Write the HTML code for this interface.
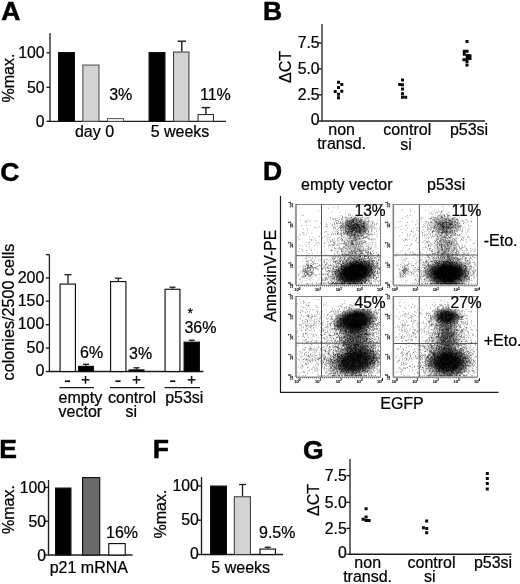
<!DOCTYPE html>
<html><head><meta charset="utf-8"><title>Figure</title>
<style>
html,body{margin:0;padding:0;background:#fff;}
svg{display:block;will-change:transform;font-family:"Liberation Sans",sans-serif;fill:#000;}
text{stroke:#000;stroke-width:.22px;}
</style></head><body>
<svg width="520" height="584" viewBox="0 0 520 584">
<rect width="520" height="584" fill="#fff"/>
<defs><radialGradient id="g0"><stop offset="0" stop-color="#000" stop-opacity="0.92"/><stop offset="0.5" stop-color="#000" stop-opacity="0.92"/><stop offset="1" stop-color="#000" stop-opacity="0"/></radialGradient><radialGradient id="g1"><stop offset="0" stop-color="#000" stop-opacity="0.5"/><stop offset="0.25" stop-color="#000" stop-opacity="0.5"/><stop offset="1" stop-color="#000" stop-opacity="0"/></radialGradient><radialGradient id="g2"><stop offset="0" stop-color="#000" stop-opacity="0.22"/><stop offset="0.3" stop-color="#000" stop-opacity="0.22"/><stop offset="1" stop-color="#000" stop-opacity="0"/></radialGradient><radialGradient id="g3"><stop offset="0" stop-color="#000" stop-opacity="0.92"/><stop offset="0.5" stop-color="#000" stop-opacity="0.92"/><stop offset="1" stop-color="#000" stop-opacity="0"/></radialGradient><radialGradient id="g4"><stop offset="0" stop-color="#000" stop-opacity="0.36"/><stop offset="0.25" stop-color="#000" stop-opacity="0.36"/><stop offset="1" stop-color="#000" stop-opacity="0"/></radialGradient><radialGradient id="g5"><stop offset="0" stop-color="#000" stop-opacity="0.22"/><stop offset="0.3" stop-color="#000" stop-opacity="0.22"/><stop offset="1" stop-color="#000" stop-opacity="0"/></radialGradient><radialGradient id="g6"><stop offset="0" stop-color="#000" stop-opacity="0.82"/><stop offset="0.45" stop-color="#000" stop-opacity="0.82"/><stop offset="1" stop-color="#000" stop-opacity="0"/></radialGradient><radialGradient id="g7"><stop offset="0" stop-color="#000" stop-opacity="0.9"/><stop offset="0.5" stop-color="#000" stop-opacity="0.9"/><stop offset="1" stop-color="#000" stop-opacity="0"/></radialGradient><radialGradient id="g8"><stop offset="0" stop-color="#000" stop-opacity="0.45"/><stop offset="0.35" stop-color="#000" stop-opacity="0.45"/><stop offset="1" stop-color="#000" stop-opacity="0"/></radialGradient><radialGradient id="g9"><stop offset="0" stop-color="#000" stop-opacity="0.86"/><stop offset="0.45" stop-color="#000" stop-opacity="0.86"/><stop offset="1" stop-color="#000" stop-opacity="0"/></radialGradient><radialGradient id="g10"><stop offset="0" stop-color="#000" stop-opacity="0.8"/><stop offset="0.4" stop-color="#000" stop-opacity="0.8"/><stop offset="1" stop-color="#000" stop-opacity="0"/></radialGradient><radialGradient id="g11"><stop offset="0" stop-color="#000" stop-opacity="0.42"/><stop offset="0.35" stop-color="#000" stop-opacity="0.42"/><stop offset="1" stop-color="#000" stop-opacity="0"/></radialGradient></defs>
<text x="1.2" y="19.7" font-size="26.5" text-anchor="start" font-weight="bold" style="stroke-width:.5px">A</text>
<text x="263" y="19.5" font-size="26.5" text-anchor="start" font-weight="bold" style="stroke-width:.5px">B</text>
<text x="0.3" y="180.6" font-size="26.5" text-anchor="start" font-weight="bold" style="stroke-width:.5px">C</text>
<text x="263" y="179.5" font-size="26.5" text-anchor="start" font-weight="bold" style="stroke-width:.5px">D</text>
<text x="-0.8" y="457.9" font-size="26.5" text-anchor="start" font-weight="bold" style="stroke-width:.5px">E</text>
<text x="152.7" y="457.9" font-size="26.5" text-anchor="start" font-weight="bold" style="stroke-width:.5px">F</text>
<text x="303" y="458.8" font-size="26.5" text-anchor="start" font-weight="bold" style="stroke-width:.5px">G</text>
<line x1="50" y1="33" x2="50" y2="121.8" stroke="#1c1c1c" stroke-width="1.3"/>
<line x1="49.5" y1="121.3" x2="226" y2="121.3" stroke="#1c1c1c" stroke-width="1.2"/>
<line x1="46.5" y1="52.8" x2="50" y2="52.8" stroke="#1c1c1c" stroke-width="1.35"/>
<text x="44.6" y="58.3" font-size="15.8" text-anchor="end" font-weight="normal">100</text>
<line x1="46.5" y1="87.3" x2="50" y2="87.3" stroke="#1c1c1c" stroke-width="1.35"/>
<text x="44.6" y="92.8" font-size="15.8" text-anchor="end" font-weight="normal">50</text>
<line x1="46.5" y1="121.3" x2="50" y2="121.3" stroke="#1c1c1c" stroke-width="1.35"/>
<text x="44.6" y="126.8" font-size="15.8" text-anchor="end" font-weight="normal">0</text>
<text x="14" y="78" font-size="16.0" text-anchor="middle" font-weight="normal" transform="rotate(-90 14 78)">%max.</text>
<rect x="58.575" y="52.575" width="15.85" height="68.725" fill="#000" stroke="#111" stroke-width="1.15"/>
<rect x="82.85" y="65.05" width="16.1" height="56.25" fill="#d4d4d4" stroke="#555" stroke-width="1.1"/>
<rect x="107.45" y="118.65" width="16.1" height="2.649999999999994" fill="#fff" stroke="#444" stroke-width="0.9"/>
<rect x="149.075" y="52.575" width="15.85" height="68.725" fill="#000" stroke="#111" stroke-width="1.15"/>
<rect x="173.55" y="52.05" width="15.4" height="69.25" fill="#d4d4d4" stroke="#444" stroke-width="1.1"/>
<line x1="181.8" y1="51.5" x2="181.8" y2="41.2" stroke="#1c1c1c" stroke-width="1.4"/>
<line x1="177.55" y1="41.2" x2="186.05" y2="41.2" stroke="#1c1c1c" stroke-width="1.4"/>
<rect x="198.05" y="114.55" width="15.4" height="6.749999999999997" fill="#fff" stroke="#333" stroke-width="1.1"/>
<line x1="205.9" y1="114" x2="205.9" y2="107.6" stroke="#1c1c1c" stroke-width="1.4"/>
<line x1="201.65" y1="107.6" x2="210.15" y2="107.6" stroke="#1c1c1c" stroke-width="1.4"/>
<text x="109.2" y="99.5" font-size="16.0" text-anchor="start" font-weight="normal">3%</text>
<text x="200" y="99.5" font-size="16.0" text-anchor="start" font-weight="normal">11%</text>
<text x="94.5" y="137" font-size="16.0" text-anchor="middle" font-weight="normal">day 0</text>
<text x="180" y="137" font-size="16.0" text-anchor="middle" font-weight="normal">5 weeks</text>
<line x1="322" y1="24" x2="322" y2="121.5" stroke="#1c1c1c" stroke-width="1.3"/>
<line x1="321.5" y1="121" x2="485" y2="121" stroke="#1c1c1c" stroke-width="1.35"/>
<line x1="318.4" y1="43" x2="322" y2="43" stroke="#1c1c1c" stroke-width="1.35"/>
<text x="319.6" y="48.2" font-size="15.8" text-anchor="end" font-weight="normal">7.5</text>
<line x1="318.4" y1="69" x2="322" y2="69" stroke="#1c1c1c" stroke-width="1.35"/>
<text x="319.6" y="74.2" font-size="15.8" text-anchor="end" font-weight="normal">5.0</text>
<line x1="318.4" y1="94.8" x2="322" y2="94.8" stroke="#1c1c1c" stroke-width="1.35"/>
<text x="319.6" y="100.0" font-size="15.8" text-anchor="end" font-weight="normal">2.5</text>
<line x1="318.4" y1="121" x2="322" y2="121" stroke="#1c1c1c" stroke-width="1.35"/>
<text x="319.6" y="124.60000000000001" font-size="15.8" text-anchor="end" font-weight="normal">0</text>
<text x="291" y="67" font-size="16.0" text-anchor="middle" font-weight="normal" transform="rotate(-90 291 67)">ΔCT</text>
<path d="M337.0 80.8h3v3h-3zM340.3 82.9h3v3h-3zM337.0 85.9h3v3h-3zM333.7 90.1h3v3h-3zM340.3 89.8h3v3h-3zM337.0 92.8h3v3h-3zM337.0 96.3h3v3h-3z" fill="#0a0a0a"/>
<path d="M401.0 78.4h3v3h-3zM398.2 82.9h3v3h-3zM401.0 83.2h3v3h-3zM401.0 87.4h3v3h-3zM401.0 92.2h3v3h-3zM401.0 95.7h3v3h-3zM404.2 95.7h3v3h-3z" fill="#0a0a0a"/>
<path d="M465.5 40.1h3v3h-3zM462.8 49.7h3v3h-3zM465.6 49.7h3v3h-3zM462.8 52.8h3v3h-3zM465.8 53.9h3v3h-3zM468.5 54.3h3v3h-3zM468.5 57.0h3v3h-3zM465.5 57.0h3v3h-3zM462.4 58.2h3v3h-3zM465.5 60.1h3v3h-3zM465.5 63.6h3v3h-3z" fill="#0a0a0a"/>
<text x="341.6" y="134.9" font-size="16.0" text-anchor="middle" font-weight="normal">non</text>
<text x="341.6" y="149.3" font-size="16.0" text-anchor="middle" font-weight="normal">transd.</text>
<text x="407.2" y="134.8" font-size="16.0" text-anchor="middle" font-weight="normal">control</text>
<text x="406" y="149.5" font-size="16.0" text-anchor="middle" font-weight="normal">si</text>
<text x="469" y="134.8" font-size="16.0" text-anchor="middle" font-weight="normal">p53si</text>
<line x1="49.4" y1="254.5" x2="49.4" y2="372.0" stroke="#1c1c1c" stroke-width="1.3"/>
<line x1="45.8" y1="254.6" x2="49.4" y2="254.6" stroke="#1c1c1c" stroke-width="1.35"/>
<line x1="48.9" y1="371.5" x2="203.5" y2="371.5" stroke="#1c1c1c" stroke-width="1.35"/>
<line x1="45.8" y1="278" x2="49.4" y2="278" stroke="#1c1c1c" stroke-width="1.35"/>
<text x="44.4" y="282.7" font-size="16.0" text-anchor="end" font-weight="normal">200</text>
<line x1="45.8" y1="301.2" x2="49.4" y2="301.2" stroke="#1c1c1c" stroke-width="1.35"/>
<text x="44.4" y="305.9" font-size="16.0" text-anchor="end" font-weight="normal">150</text>
<line x1="45.8" y1="324.7" x2="49.4" y2="324.7" stroke="#1c1c1c" stroke-width="1.35"/>
<text x="44.4" y="329.4" font-size="16.0" text-anchor="end" font-weight="normal">100</text>
<line x1="45.8" y1="348.1" x2="49.4" y2="348.1" stroke="#1c1c1c" stroke-width="1.35"/>
<text x="44.4" y="352.8" font-size="16.0" text-anchor="end" font-weight="normal">50</text>
<line x1="45.8" y1="371.5" x2="49.4" y2="371.5" stroke="#1c1c1c" stroke-width="1.35"/>
<text x="44.4" y="376.2" font-size="16.0" text-anchor="end" font-weight="normal">0</text>
<text x="14.3" y="312" font-size="16.2" text-anchor="middle" font-weight="normal" transform="rotate(-90 14.3 312)">colonies/2500 cells</text>
<rect x="60.075" y="284.075" width="15.35" height="87.425" fill="#fff" stroke="#111" stroke-width="1.15"/>
<line x1="68" y1="283.5" x2="68" y2="274.7" stroke="#1c1c1c" stroke-width="1.3"/>
<line x1="64.5" y1="274.7" x2="71.5" y2="274.7" stroke="#1c1c1c" stroke-width="1.3"/>
<rect x="78.575" y="366.375" width="14.85" height="5.1249999999999885" fill="#000" stroke="#111" stroke-width="1.15"/>
<line x1="86" y1="365.8" x2="86" y2="364.3" stroke="#1c1c1c" stroke-width="1.3"/>
<line x1="83.0" y1="364.3" x2="89.0" y2="364.3" stroke="#1c1c1c" stroke-width="1.3"/>
<rect x="110.575" y="281.575" width="15.35" height="89.925" fill="#fff" stroke="#111" stroke-width="1.15"/>
<line x1="118.3" y1="281" x2="118.3" y2="278.2" stroke="#1c1c1c" stroke-width="1.3"/>
<line x1="114.8" y1="278.2" x2="121.8" y2="278.2" stroke="#1c1c1c" stroke-width="1.3"/>
<rect x="129.075" y="369.875" width="14.85" height="1.6249999999999887" fill="#000" stroke="#111" stroke-width="1.15"/>
<line x1="136.5" y1="369.3" x2="136.5" y2="367.8" stroke="#1c1c1c" stroke-width="1.3"/>
<line x1="133.5" y1="367.8" x2="139.5" y2="367.8" stroke="#1c1c1c" stroke-width="1.3"/>
<rect x="165.075" y="289.275" width="14.85" height="82.22500000000001" fill="#fff" stroke="#111" stroke-width="1.15"/>
<line x1="172.5" y1="288.7" x2="172.5" y2="287.2" stroke="#1c1c1c" stroke-width="1.3"/>
<line x1="169.5" y1="287.2" x2="175.5" y2="287.2" stroke="#1c1c1c" stroke-width="1.3"/>
<rect x="184.075" y="342.175" width="15.35" height="29.324999999999978" fill="#000" stroke="#111" stroke-width="1.15"/>
<line x1="191.8" y1="341.6" x2="191.8" y2="340.2" stroke="#1c1c1c" stroke-width="1.3"/>
<line x1="188.8" y1="340.2" x2="194.8" y2="340.2" stroke="#1c1c1c" stroke-width="1.3"/>
<text x="80" y="358" font-size="16.0" text-anchor="start" font-weight="normal">6%</text>
<text x="129" y="358.6" font-size="16.0" text-anchor="start" font-weight="normal">3%</text>
<text x="184.4" y="333" font-size="16.0" text-anchor="start" font-weight="normal">36%</text>
<text x="190.2" y="317.5" font-size="14.0" text-anchor="middle" font-weight="normal">*</text>
<line x1="64.9" y1="381.2" x2="70.1" y2="381.2" stroke="#111" stroke-width="1.7"/>
<line x1="81.6" y1="379.8" x2="89.4" y2="379.8" stroke="#111" stroke-width="1.5"/>
<line x1="85.5" y1="375.9" x2="85.5" y2="383.7" stroke="#111" stroke-width="1.5"/>
<line x1="115.4" y1="381.2" x2="120.6" y2="381.2" stroke="#111" stroke-width="1.7"/>
<line x1="132.6" y1="379.8" x2="140.4" y2="379.8" stroke="#111" stroke-width="1.5"/>
<line x1="136.5" y1="375.9" x2="136.5" y2="383.7" stroke="#111" stroke-width="1.5"/>
<line x1="170.1" y1="381.2" x2="175.29999999999998" y2="381.2" stroke="#111" stroke-width="1.7"/>
<line x1="187.7" y1="379.8" x2="195.5" y2="379.8" stroke="#111" stroke-width="1.5"/>
<line x1="191.6" y1="375.9" x2="191.6" y2="383.7" stroke="#111" stroke-width="1.5"/>
<line x1="59.5" y1="387.6" x2="94" y2="387.6" stroke="#1c1c1c" stroke-width="1.2"/>
<line x1="110" y1="387.6" x2="144.5" y2="387.6" stroke="#1c1c1c" stroke-width="1.2"/>
<line x1="164.5" y1="387.6" x2="200" y2="387.6" stroke="#1c1c1c" stroke-width="1.2"/>
<text x="80.4" y="402.5" font-size="16.0" text-anchor="middle" font-weight="normal">empty</text>
<text x="80.4" y="416.8" font-size="16.0" text-anchor="middle" font-weight="normal">vector</text>
<text x="132" y="402.5" font-size="16.0" text-anchor="middle" font-weight="normal">control</text>
<text x="131.4" y="417" font-size="16.0" text-anchor="middle" font-weight="normal">si</text>
<text x="184.3" y="402.5" font-size="16.0" text-anchor="middle" font-weight="normal">p53si</text>
<text x="301" y="189.8" font-size="16.0" text-anchor="start" font-weight="normal">empty vector</text>
<text x="427" y="189.8" font-size="16.0" text-anchor="start" font-weight="normal">p53si</text>
<text x="275.6" y="275.8" font-size="15.6" text-anchor="middle" font-weight="normal" transform="rotate(-90 275.6 275.8)">AnnexinV-PE</text>
<text x="402" y="409.3" font-size="16" text-anchor="middle" font-weight="normal">EGFP</text>
<text x="483.7" y="245.6" font-size="16.0" text-anchor="start" font-weight="normal">-Eto.</text>
<text x="483.7" y="346" font-size="16.0" text-anchor="start" font-weight="normal">+Eto.</text>
<path d="M280.5 196V392.3H498.5" fill="none" stroke="#1c1c1c" stroke-width="1.2"/>
<clipPath id="cp1"><rect x="296.7" y="205.0" width="83.40000000000003" height="79.60000000000002"/></clipPath>
<g clip-path="url(#cp1)">
<ellipse cx="355" cy="272.5" rx="23" ry="14.5" fill="url(#g0)" transform="rotate(-14 355 272.5)"/>
<ellipse cx="355.5" cy="227.5" rx="17" ry="11" fill="url(#g1)"/>
<ellipse cx="354" cy="248" rx="13" ry="16" fill="url(#g2)"/>
<path transform="translate(296.2 204.5) scale(0.2)" d="M205 9h3m116 2h3m-142 5h3m-29 5h3m47-3h3m72 11h3m37 0h3m-218 4h3m66 4h3m156 0h3m-123 4h3m76-2h3m65 1h3m-121 5h3m18 2h3m41 0h3m9-2h3m23-2h3m17 1h3m-112 4h3m-1 3h3m45 0h3m-285 2h3m3 2h3m186 0h3m34-2h3m5 3h3m-1-1h3m9 2h3m24-1h3m-1-2h3m8 2h3m17 0h3m48 1h3m-167 4h3m12 1h3m40-3h3m5 2h3m2-3h3m3 1h3m-3 1h3m-2 2h3m34-2h3m-178 5h3m43-1h3m12 0h3m-3 1h3m10 1h3m0 0h3m-2 0h3m1-2h3m1 3h3m3-4h3m3 3h3m2-1h3m-1-2h3m-1 1h3m14 3h3m-2-3h3m0-1h3m-2 3h3m14-2h3m6 2h3m3-2h3m-2 2h3m18 1h3m2-1h3m-1-2h3m6 0h3m-192 6h3m5 2h3m5-1h3m8-1h3m18-1h3m-3 3h3m19 0h3m6-2h3m6 1h3m6-3h3m-1 1h3m3 3h3m-2-1h3m0-3h3m-2 3h3m-2-2h3m-2 0h3m-3-1h3m4 2h3m0-1h3m3 0h3m-3 3h3m0-1h3m-3-2h3m-2 2h3m5 1h3m-2-4h3m17 0h3m1 3h3m6-3h3m1 0h3m-189 6h3m6-1h3m3 1h3m5-1h3m17 2h3m10-1h3m-3 3h3m1 0h3m3-4h3m12 3h3m-2 1h3m12 0h3m0-4h3m1 4h3m1-1h3m-3-1h3m1-2h3m-2 4h3m-3-4h3m-1 3h3m1-2h3m-1 2h3m0-2h3m-3-1h3m0 1h3m0 1h3m-1 1h3m3 1h3m8-4h3m0 2h3m1 1h3m-2-1h3m12 1h3m13-2h3m-342 5h3m31 0h3m12 3h3m123-2h3m1 0h3m-1 2h3m5 0h3m34-4h3m0 1h3m4 0h3m-1 3h3m-3-1h3m2-2h3m-3 3h3m-3-1h3m4-2h3m-2 2h3m0 0h3m0-2h3m-3 3h3m0-3h3m-2 1h3m0 1h3m-3 0h3m-2-3h3m-3 3h3m-2 1h3m-3-4h3m-2 2h3m-2 0h3m2 0h3m3 1h3m-2 0h3m-3-3h3m-2 2h3m-2-2h3m-2 0h3m-3 1h3m6 0h3m1 2h3m-2 0h3m0-1h3m-2-1h3m0-1h3m-1 2h3m2 1h3m13 1h3m9-2h3m18 2h3m24-4h3m-366 5h3m1 3h3m12 0h3m27-3h3m10 0h3m83 3h3m15-1h3m6 2h3m7-2h3m15-2h3m0 2h3m0-2h3m-2 0h3m-1 2h3m1 2h3m-2-3h3m0 2h3m-1 1h3m-2-3h3m-2 2h3m0-1h3m-2-1h3m0 3h3m0-2h3m-3 1h3m-2 1h3m-3-3h3m-1 2h3m-2 0h3m0-3h3m-3 1h3m2-1h3m4 1h3m-1 1h3m-2 2h3m1-1h3m3-1h3m-1-1h3m-1-1h3m-2 1h3m-1 1h3m1 1h3m-1-3h3m-2 2h3m-1 1h3m0 0h3m2 1h3m1-2h3m1-2h3m-2 3h3m8 0h3m0 0h3m-1 1h3m-2-4h3m2 1h3m7-1h3m-330 6h3m138 3h3m7-1h3m5 1h3m10-1h3m-2-3h3m4 2h3m1-2h3m8 1h3m-2 2h3m-2 0h3m1-2h3m-1 0h3m0 3h3m-1 0h3m-2 0h3m-2-3h3m4 2h3m3-3h3m0 4h3m-2-4h3m-2 4h3m-2-2h3m-2 1h3m-3-2h3m-1 1h3m1-1h3m-2 1h3m-2-2h3m-2 3h3m-2-2h3m4 2h3m3-3h3m-1 3h3m2 0h3m0-1h3m1 1h3m-3-2h3m1 1h3m-1-1h3m0 2h3m10-3h3m-2 0h3m-1 4h3m5-1h3m21-3h3m6 2h3m2 0h3m-270 3h3m28 0h3m17 1h3m16 2h3m8 0h3m-2-2h3m2 2h3m1-1h3m2 0h3m1-1h3m4 0h3m3 3h3m1-1h3m4-1h3m3 0h3m1 0h3m6 0h3m-2-2h3m-1 0h3m-3 1h3m-3 0h3m-2 2h3m2-2h3m-3 2h3m-2 1h3m1-1h3m-3-3h3m3 3h3m4 1h3m-2-3h3m-1 1h3m-1 2h3m0-3h3m-3 0h3m-2 0h3m-3 3h3m-2 0h3m1 0h3m-2 0h3m-3 0h3m0-4h3m11 1h3m-2-1h3m1 3h3m-2 1h3m-2 0h3m1-3h3m-1 3h3m-3-3h3m-3-1h3m-2 4h3m-3-1h3m-2-3h3m-2 2h3m-2-1h3m0 0h3m1-1h3m-1 2h3m4 1h3m4-3h3m15 0h3m-3 2h3m9 1h3m7-2h3m2 1h3m-259 5h3m28-1h3m6 2h3m-1-2h3m37 0h3m-3 0h3m9 0h3m0-1h3m-1 2h3m-2 0h3m2 2h3m-2-4h3m0 0h3m-3 0h3m2 4h3m0-2h3m-2-2h3m4 1h3m-2 3h3m-2-2h3m-1 0h3m2 2h3m-1-2h3m0 1h3m-3 1h3m-3-2h3m-2 2h3m-2-3h3m-1 3h3m-2-2h3m4 0h3m-3-2h3m-3 2h3m-2 0h3m-3 1h3m-1 1h3m-1-2h3m2 1h3m-3-1h3m-1-1h3m-2 1h3m1 0h3m-1 2h3m1-3h3m10 1h3m2 2h3m4-3h3m3 3h3m4 0h3m12 0h3m12 0h3m4-1h3m-378 5h3m22-1h3m101-2h3m21 2h3m0-1h3m22 3h3m6-1h3m2 1h3m2-3h3m-2 1h3m-2-1h3m2-1h3m1 4h3m4 0h3m-3-1h3m2-3h3m-2 4h3m0-1h3m0-3h3m-3 4h3m-2-3h3m-2 1h3m0 0h3m-3 2h3m-3-3h3m-1 3h3m-3-1h3m-2 1h3m-2-4h3m2 1h3m-2-1h3m-3 1h3m1 2h3m-1 1h3m2-1h3m-1-1h3m-3 1h3m-3 0h3m-3-2h3m0-1h3m-3 2h3m-2 0h3m-3-1h3m-3 3h3m-2-2h3m-3 0h3m-2 1h3m3 1h3m-3 0h3m-1-4h3m0 3h3m0-3h3m-1 1h3m-2 0h3m-2 2h3m-1 1h3m-2-4h3m-2 0h3m-2 2h3m-3 0h3m-1 0h3m0 1h3m3-3h3m-2 2h3m0 1h3m-2 1h3m-2 0h3m-2-3h3m-2 3h3m0 0h3m-1-2h3m-2-1h3m-2 1h3m-1-2h3m-2 0h3m1 3h3m4-3h3m-1 0h3m18 1h3m3-1h3m6 0h3m-277 9h3m27 0h3m1-2h3m3 2h3m27 0h3m3 0h3m4-2h3m21-1h3m1 2h3m1 0h3m0-3h3m2 1h3m3 2h3m1 1h3m2-2h3m-2-2h3m-2 1h3m0 1h3m0 1h3m-1-1h3m-3 0h3m-2-2h3m0 3h3m0 1h3m-2-3h3m-3 2h3m-2-3h3m2 0h3m-3 2h3m-3 2h3m-1-4h3m5 4h3m5-1h3m-1 0h3m-3-1h3m-3-2h3m1 1h3m-1-1h3m-3 4h3m-2-2h3m-3-2h3m-2 0h3m1 3h3m-1-2h3m0 3h3m-2-2h3m6 2h3m-3-2h3m-1 0h3m0 2h3m-3-1h3m-2 0h3m-2-1h3m1-2h3m-2 2h3m-2 0h3m-1 1h3m-2 1h3m-2-4h3m5 3h3m15-2h3m1-1h3m3 2h3m-1 0h3m4 0h3m-299 3h3m10 4h3m84-3h3m21 1h3m4 2h3m-2-4h3m0 2h3m1 0h3m-1-1h3m0 0h3m5 1h3m-2 2h3m-2-4h3m1 0h3m1 4h3m3-2h3m2 0h3m-2-1h3m-3-1h3m-1 0h3m1 1h3m-3 2h3m-1 0h3m-3 0h3m-2 1h3m1-3h3m-1 2h3m-2 0h3m-1-2h3m-2 1h3m-2 2h3m-3-2h3m-3-1h3m-2 1h3m-2-2h3m-1 1h3m-2-1h3m-2 1h3m-1 1h3m-2-2h3m-2 1h3m-2 0h3m-3 3h3m-2-1h3m-2 0h3m-3 1h3m2-4h3m-3 2h3m-2 0h3m2-2h3m0 2h3m-3-1h3m-2 0h3m-3 0h3m-2 1h3m-2 2h3m-2 0h3m-3-1h3m-3-1h3m-1-1h3m-3-1h3m-1 3h3m0 1h3m2-2h3m-2 1h3m-2 0h3m2-3h3m-1 3h3m-3-1h3m-2 0h3m-1 0h3m-3 1h3m-1 0h3m2-2h3m2 0h3m0 0h3m1-1h3m-2 0h3m11 1h3m1 2h3m10 1h3m5-1h3m13-2h3m-361 6h3m36-2h3m88 0h3m6 1h3m-2 0h3m12 1h3m6 2h3m-2-3h3m-2 1h3m9 0h3m8 2h3m-2 0h3m0-2h3m2 2h3m-3-2h3m0 0h3m-3 1h3m3 0h3m-2 1h3m5 0h3m-2-4h3m0 3h3m-2-3h3m0 2h3m-3-1h3m-2 2h3m0-2h3m-1 0h3m-2-1h3m0 2h3m-2-1h3m0 0h3m-1 3h3m-1-1h3m-3-3h3m-3 0h3m-1 4h3m-1-3h3m-3 0h3m-1 2h3m-1-2h3m-2 2h3m4 0h3m-3-2h3m0 0h3m-2 0h3m-3-1h3m0 2h3m9-2h3m-1 0h3m-2 1h3m1 0h3m-3 3h3m-1 0h3m-1-4h3m0 2h3m-2 1h3m-2 0h3m15 0h3m7 1h3m-3-1h3m7-3h3m5 1h3m7 2h3m-374 2h3m150 2h3m8 2h3m3-4h3m23 0h3m0 0h3m8 2h3m-1-1h3m7 3h3m2-3h3m-2 0h3m-2 2h3m-3 0h3m-3 1h3m2-2h3m-3-1h3m-3 0h3m1-1h3m0 0h3m-2 1h3m-2 2h3m-2-2h3m-3 0h3m1 0h3m-2-1h3m-1 3h3m-3-3h3m-2 1h3m-3 0h3m0-1h3m-2 0h3m-3 4h3m1-2h3m3-2h3m-2 3h3m3-2h3m1 1h3m-3 0h3m1 1h3m-3-1h3m1 2h3m-1-2h3m-2 1h3m-2-3h3m0 1h3m-3 1h3m-1-2h3m0 4h3m-2-2h3m2 2h3m2-1h3m-2-3h3m6 3h3m-2 0h3m0 1h3m-3-4h3m20 1h3m32 1h3m-361 4h3m153 2h3m6-3h3m-1 1h3m-2 1h3m9 1h3m-1-1h3m3-2h3m-2 1h3m2 3h3m1-1h3m4-3h3m-1 4h3m4-2h3m-1 1h3m4-2h3m-2 2h3m-3 0h3m2-1h3m-2-2h3m-2 2h3m-2-1h3m-2-1h3m0 1h3m0 3h3m0 0h3m-2-2h3m-2 1h3m-1-1h3m0 0h3m-1 2h3m1 0h3m0-4h3m-3 2h3m-1 0h3m-1-1h3m-2 0h3m-1 2h3m-2-2h3m5 2h3m-2-3h3m0 1h3m-1 0h3m-1 3h3m-1 0h3m0-3h3m0 0h3m-3 1h3m12-1h3m10 1h3m23 2h3m-2 0h3m-259 3h3m2 2h3m40-3h3m6-1h3m1 2h3m15 0h3m17-2h3m-1 4h3m-1 0h3m-2 0h3m-2-1h3m-2-1h3m0 1h3m1-1h3m-2 1h3m-1 0h3m-3 1h3m-2-2h3m-3 0h3m3 1h3m-1-1h3m-2 2h3m-1-2h3m-3-2h3m-2 3h3m-1-3h3m-2 4h3m-3-2h3m-3 0h3m-1-2h3m-3 4h3m0-1h3m-3-2h3m10 3h3m-3-1h3m-1-3h3m-3 1h3m0 2h3m-1-2h3m-3 3h3m-1-4h3m-3 0h3m-2 3h3m0-3h3m-1 4h3m-2-2h3m-2 2h3m-3-1h3m-2-2h3m-1 0h3m-2 3h3m-2-3h3m-1-1h3m-3 2h3m-1 1h3m0-3h3m-3 1h3m-2 1h3m0 2h3m2 0h3m-2-2h3m0-2h3m-1 1h3m-1 1h3m1-2h3m-2 0h3m2 0h3m6 1h3m-2 1h3m10-1h3m1 0h3m-351 7h3m25 1h3m78-2h3m41-2h3m20 4h3m1 0h3m-3-2h3m21-1h3m-1 2h3m0-2h3m4 0h3m6 2h3m-2-1h3m-3 0h3m3-1h3m-2 0h3m-1 2h3m-2-2h3m1-1h3m2 0h3m-3 3h3m1-2h3m-1-1h3m5 4h3m-3 0h3m-2-4h3m3 3h3m-2-1h3m1-1h3m-2 3h3m-2-4h3m2 3h3m2-3h3m-3 2h3m-1-2h3m-3 1h3m0 2h3m-3-2h3m-2 2h3m-1 0h3m6 1h3m3-3h3m-2 0h3m2-1h3m-1 2h3m-2-1h3m13 1h3m-3-1h3m25 1h3m-374 7h3m15-4h3m-1 4h3m36-3h3m39 0h3m5-1h3m25 4h3m35-1h3m0-2h3m5 0h3m-3 1h3m-3 1h3m4 0h3m7-3h3m-3 1h3m2-1h3m-2 0h3m7 4h3m0-1h3m3 1h3m-1-1h3m1-3h3m-2 1h3m-2 2h3m-1-2h3m0 0h3m-2 1h3m5-1h3m-3 0h3m-1 2h3m4-3h3m-3 3h3m-3-3h3m0 4h3m6-1h3m2-2h3m-2 2h3m6 1h3m-2-2h3m0-2h3m3 0h3m-2 3h3m0-2h3m-2 2h3m1-2h3m-1-1h3m-3 3h3m-1-3h3m2 4h3m2-2h3m-3 0h3m2-1h3m4 2h3m0-1h3m0-1h3m15-1h3m1 1h3m-331 6h3m107 0h3m12-1h3m-1 1h3m4-2h3m-2 3h3m10-1h3m4 0h3m6 0h3m4-1h3m1-1h3m-2 4h3m9-4h3m-3 0h3m-2 0h3m1 2h3m7 0h3m-1-2h3m-2 3h3m-2 0h3m2-2h3m-1-1h3m-2 3h3m7 1h3m-1-3h3m-3-1h3m0 2h3m2 2h3m0-4h3m-3 0h3m-3 1h3m-2 2h3m-3 1h3m-1-1h3m-3-2h3m-2 3h3m0 0h3m-2-1h3m-3-2h3m7 0h3m0 2h3m10 0h3m-2 1h3m5 0h3m3-1h3m3-1h3m5 2h3m1-3h3m1 1h3m-2 2h3m0-2h3m-2-2h3m1 2h3m1-2h3m-2 4h3m2-1h3m1 0h3m5-2h3m12 0h3m-385 4h3m12 2h3m182-2h3m-1 2h3m0 0h3m27 0h3m1 0h3m-1-1h3m1 0h3m-2 0h3m0 3h3m2-4h3m-3 1h3m0 0h3m-1-1h3m2 3h3m1 0h3m-3-3h3m0 1h3m-1 1h3m2 0h3m0 0h3m-3 2h3m-2-4h3m2 4h3m-2-3h3m-1 3h3m1-2h3m3 1h3m0 0h3m-2 0h3m0-1h3m-2 1h3m-2-1h3m2 2h3m19 0h3m4-3h3m-303 8h3m44-2h3m0-1h3m22 2h3m5-3h3m5 4h3m67-4h3m3 1h3m4 3h3m5 0h3m5 0h3m9-2h3m-3 0h3m0-2h3m0 0h3m-3 3h3m3-3h3m6 3h3m-3-1h3m-2 1h3m5 0h3m2 1h3m2-4h3m-2 3h3m-2 0h3m-3 0h3m3 0h3m4-2h3m0 0h3m-3 2h3m9-1h3m2 2h3m4-3h3m-3 3h3m2 0h3m-2 0h3m20-4h3m21 2h3m-399 4h3m73 0h3m44 1h3m31 1h3m6-3h3m38 3h3m-2-1h3m6-2h3m8 1h3m33 2h3m-2 1h3m-2-3h3m10 3h3m-1-3h3m-1 2h3m-2 1h3m0-2h3m-2-1h3m-2-1h3m3 2h3m-3 2h3m1 0h3m7 0h3m18-2h3m-2 1h3m1 1h3m-2-3h3m-1-1h3m-2 4h3m-1-4h3m12 1h3m-271 5h3m94 3h3m12 0h3m-1-3h3m15 1h3m19 1h3m7-3h3m-2 3h3m4-1h3m-3-1h3m-2-1h3m-1 4h3m2-1h3m4-3h3m-1 3h3m-2 1h3m-1-4h3m4 3h3m-2-2h3m-2-1h3m10 3h3m-1-2h3m2 0h3m-3 1h3m0-2h3m1 4h3m-2-1h3m2-1h3m0-2h3m1 2h3m-2-1h3m17-1h3m1 3h3m-3 0h3m1 0h3m-355 3h3m-2 2h3m49 0h3m7-1h3m9 1h3m63-3h3m8 2h3m13-2h3m-3 3h3m23-3h3m11 2h3m2-2h3m0 3h3m-2 1h3m-2-3h3m16 2h3m31 1h3m3-2h3m-1-2h3m0 1h3m3-1h3m-2 3h3m-3 0h3m-1-3h3m-3 4h3m5-1h3m1-1h3m48 0h3m0-2h3m4 2h3m3-2h3m-2 0h3m9 0h3m-323 7h3m19 0h3m69 1h3m5 1h3m2 0h3m3-3h3m7 2h3m7-2h3m15 1h3m1 2h3m-2-4h3m13 0h3m4 1h3m7-1h3m1 3h3m3 0h3m0 0h3m-3 0h3m3-2h3m0 3h3m-1 0h3m-1-2h3m1-1h3m0 0h3m-3 0h3m4 3h3m11-4h3m14 1h3m2 1h3m34-2h3m7 0h3m-235 5h3m13 4h3m3-2h3m13 2h3m18-4h3m18 0h3m1 1h3m-1 2h3m10 0h3m4 1h3m1-1h3m7-3h3m-1 4h3m0 0h3m-3-3h3m-2 0h3m13 0h3m2 2h3m14 0h3m2-2h3m0-1h3m-1 0h3m10 2h3m-1 2h3m-3 0h3m-1-2h3m2-1h3m-302 6h3m7 1h3m0-2h3m34 1h3m4-1h3m30 0h3m16 3h3m20-4h3m0 2h3m-3 1h3m15-3h3m16 4h3m15-2h3m2 2h3m-2-4h3m9 0h3m6 2h3m1 2h3m0-4h3m-1 2h3m-2 2h3m12-4h3m6 4h3m-2-2h3m8-1h3m-1 3h3m-3-4h3m7 4h3m5-2h3m-3 0h3m2 0h3m24-2h3m10 3h3m-1 0h3m10 0h3m-355 6h3m52-2h3m15 1h3m19-1h3m47-2h3m-1 1h3m-1 0h3m17-1h3m-1 3h3m1 0h3m6-1h3m4 1h3m-3 0h3m4-2h3m-2 3h3m0-1h3m3 0h3m4-1h3m8-1h3m3 1h3m-2 2h3m2-3h3m-2 3h3m-2-3h3m16 0h3m10 2h3m-2 1h3m4 0h3m0 0h3m2-3h3m12-1h3m0 3h3m5 0h3m7-3h3m-312 7h3m81-2h3m18 2h3m9 0h3m4 2h3m5-2h3m0 1h3m5 1h3m3-3h3m17 2h3m13-2h3m4 2h3m7-3h3m9 2h3m3 0h3m-2-2h3m-3 0h3m1 1h3m-1 0h3m-2 1h3m-3-2h3m7 0h3m-3 1h3m3 2h3m5-1h3m-2-2h3m-2 2h3m13-2h3m-3 3h3m29 1h3m5-2h3m8 1h3m16-1h3m-384 3h3m47 0h3m19 1h3m11-1h3m57 2h3m4 0h3m9-2h3m-2 0h3m-3 1h3m-2 1h3m19-1h3m-1 0h3m5 0h3m26 0h3m-1 2h3m1-1h3m-1-2h3m11 1h3m3 0h3m10-1h3m12 2h3m14 0h3m26-1h3m22 3h3m18-3h3m-365 4h3m17 3h3m84-1h3m20 0h3m73 1h3m-2 0h3m17-3h3m1 1h3m6 2h3m10-2h3m0-1h3m0 3h3m8 0h3m5 0h3m-2-1h3m6-2h3m4 4h3m0-2h3m17 0h3m5-1h3m-2 1h3m36 1h3m-337 2h3m114 1h3m7 2h3m19 1h3m1-3h3m-2 2h3m14-1h3m3-2h3m17 0h3m14 4h3m2-4h3m9 3h3m0 0h3m18-3h3m14 0h3m20 0h3m-1 3h3m3 1h3m3 0h3m-1-4h3m12 3h3m-376 4h3m139 2h3m28-3h3m1 1h3m1 2h3m8-3h3m12 1h3m2 2h3m2-4h3m8 2h3m-1-2h3m1 0h3m3 0h3m8 3h3m-3-1h3m18-2h3m2 2h3m-2-1h3m16 0h3m2 2h3m15 0h3m8 0h3m4 0h3m3 1h3m6-1h3m3-2h3m26-1h3m-382 6h3m4 3h3m28-4h3m23 4h3m80-1h3m1-1h3m24-2h3m10 0h3m-1 0h3m0 0h3m2 0h3m-3 4h3m1 0h3m3-4h3m15 3h3m36 1h3m11-4h3m-3 0h3m-2 0h3m3 4h3m-1-1h3m-1 1h3m11-3h3m10 2h3m5 0h3m4-1h3m-1-1h3m-2 2h3m5-2h3m-366 8h3m39-2h3m20-2h3m-1 1h3m63 3h3m30-2h3m2-1h3m11 0h3m13-1h3m13 0h3m20 1h3m23 0h3m0 3h3m-3 0h3m5 0h3m1-3h3m-2 3h3m0-4h3m11 2h3m-2 2h3m6-3h3m-2 2h3m-3 1h3m2-3h3m2 2h3m-2 0h3m0 0h3m-1-3h3m0 1h3m1 3h3m3 0h3m1-1h3m0 0h3m29-1h3m-356 5h3m68 2h3m66-4h3m29 2h3m0 2h3m13-2h3m-1 0h3m-2 2h3m0-4h3m-2 3h3m2-2h3m4 0h3m1 3h3m8 0h3m1-1h3m11 1h3m-1-3h3m3 2h3m9-2h3m1 0h3m0 2h3m10-1h3m-2-1h3m2 2h3m-3-3h3m-1 3h3m20 0h3m-3-3h3m9 2h3m-1-2h3m7 3h3m4-2h3m0-1h3m-334 6h3m69 2h3m3-3h3m70 0h3m2 2h3m54-2h3m1 0h3m1 3h3m-2-2h3m5 3h3m7-4h3m-1 1h3m-2 2h3m-2 1h3m-1-2h3m22 2h3m0-4h3m-2 2h3m1-1h3m15 3h3m-2-3h3m0 3h3m0-3h3m-2 2h3m-1 1h3m-1-2h3m-2 0h3m7 1h3m-3 0h3m16-2h3m10 0h3m-348 7h3m5-2h3m12 3h3m123-2h3m23-1h3m4 0h3m-3 3h3m1-3h3m17 0h3m0 3h3m6 0h3m0-2h3m-3-2h3m-1 0h3m-1 4h3m3 0h3m7-1h3m-1-1h3m5 2h3m-2-1h3m6 0h3m-2 0h3m4-1h3m-2-1h3m-3 1h3m-1 0h3m-2-1h3m23 1h3m0 0h3m2 0h3m2 1h3m-3-3h3m-1 2h3m-1 0h3m8 0h3m13-2h3m7 4h3m-271 1h3m44 0h3m-2 1h3m16 3h3m1-1h3m0 1h3m6-4h3m0 2h3m-2 0h3m-1-2h3m-2 1h3m-1 2h3m1-2h3m4 3h3m-2-2h3m-1 0h3m0 0h3m-1 2h3m-3-4h3m0 4h3m0-2h3m-1-1h3m-2-1h3m8 4h3m-3 0h3m17-4h3m0 2h3m1-2h3m-2 1h3m10 3h3m-3-2h3m-1 2h3m4 0h3m1-1h3m5-3h3m0 3h3m-3-2h3m2-1h3m8 3h3m-1 0h3m-1-1h3m-2 2h3m4 0h3m3-2h3m-3 2h3m1-3h3m1 2h3m22 0h3m1-1h3m-3 2h3m-3 0h3m-356 1h3m107 4h3m21-1h3m18 1h3m16-4h3m-2 2h3m6 1h3m4 0h3m0-3h3m-1 2h3m1 0h3m2 1h3m1-1h3m-3-2h3m2 0h3m6 0h3m0 1h3m-1 0h3m3 3h3m-1-1h3m15-1h3m4 0h3m0 2h3m-2-4h3m-2 0h3m3 3h3m8 0h3m-3-1h3m-2 2h3m2-3h3m-3 2h3m0-2h3m-1 3h3m0-2h3m-3-1h3m22 1h3m20 2h3m-354 4h3m4-3h3m34 4h3m11 0h3m74-3h3m2 0h3m2 2h3m3-3h3m3 3h3m-2-3h3m4 4h3m2-1h3m10-2h3m-1 0h3m2-1h3m3 2h3m-2-2h3m14 2h3m4-1h3m0 2h3m3-3h3m4 1h3m6 0h3m1 2h3m5 1h3m-1-1h3m1-2h3m-2 1h3m-2-1h3m0 2h3m-1-1h3m-3 1h3m5 0h3m8-3h3m-3 2h3m0-2h3m-3 4h3m-1-4h3m0 2h3m-1 0h3m5 2h3m-2-2h3m-1 1h3m-1-2h3m8 3h3m1-1h3m4 1h3m-1-3h3m13 1h3m8 2h3m-355 3h3m5 1h3m102-3h3m2 1h3m3 2h3m4 1h3m1-2h3m9-2h3m8 3h3m3-1h3m-2 1h3m-1 0h3m6-1h3m-2 2h3m6-1h3m3 1h3m1-4h3m1 1h3m0 3h3m0-1h3m-3 0h3m0 0h3m-1-2h3m-1 2h3m4 0h3m1 1h3m-1-1h3m0-3h3m-2 3h3m-2-2h3m-1 2h3m1 1h3m0 0h3m0-3h3m-1-1h3m-2 3h3m3 1h3m0-1h3m-1-2h3m8 1h3m-1-2h3m3 1h3m-1 0h3m14 0h3m-1 0h3m-3 0h3m8-1h3m-3 2h3m-1 2h3m16-2h3m1 0h3m6-2h3m1 0h3m5 3h3m-381 3h3m6 3h3m-2-3h3m-2 2h3m27-3h3m12 3h3m83-1h3m-1-1h3m3 2h3m-2-1h3m-2 0h3m11-2h3m9 1h3m1 3h3m-2-4h3m-3 4h3m0 0h3m4 0h3m3-4h3m-2 4h3m0-1h3m1 1h3m-3-3h3m8 2h3m2-3h3m-1 1h3m1 1h3m1 0h3m-1-2h3m0 4h3m3-2h3m-3 0h3m-2 0h3m-3 0h3m-3 2h3m2 0h3m1 0h3m5 0h3m-2-1h3m-1-1h3m0 0h3m8-2h3m3 4h3m-3-1h3m0 1h3m-3 0h3m-2-3h3m-2 3h3m4 0h3m0-3h3m-1 0h3m-3-1h3m3 2h3m3-1h3m-3 1h3m-1-2h3m0 0h3m-1 1h3m-3 0h3m2 2h3m-1 1h3m6-1h3m0-2h3m-1 1h3m-1-1h3m6 1h3m0 0h3m4-1h3m-328 8h3m-1-4h3m27 2h3m7 2h3m8-4h3m10 3h3m4-3h3m2 2h3m15 0h3m8 0h3m5-2h3m19 3h3m-1-3h3m8 3h3m6 1h3m1-4h3m-3 2h3m-2-2h3m6 3h3m3 0h3m-2-2h3m-2-1h3m0 1h3m-2 2h3m-1-1h3m1 1h3m4 0h3m6-2h3m1 2h3m-3 0h3m1-2h3m2 0h3m9 2h3m-1-3h3m0 3h3m-3-1h3m-2-1h3m-2 1h3m-3 0h3m-2-2h3m-2 4h3m0-1h3m3-2h3m3 0h3m-1 2h3m5-3h3m0 0h3m12 4h3m3-1h3m-3-1h3m-2-2h3m0 1h3m0 1h3m0 0h3m-3 1h3m29-2h3m-1 0h3m2 1h3m-370 7h3m1 0h3m2-1h3m2 1h3m4-2h3m16 0h3m49 2h3m-2-3h3m14-1h3m14 1h3m5-1h3m0 4h3m13-3h3m-2 3h3m1-4h3m0 1h3m4 1h3m-2 2h3m1 0h3m-1-2h3m5 0h3m-2-1h3m3-1h3m3 3h3m-1 1h3m-1-1h3m-3-2h3m-3 2h3m-1 1h3m0-1h3m-2-1h3m2 1h3m-1-3h3m5 2h3m-3 1h3m1 0h3m8-2h3m3 0h3m-2-1h3m-1 4h3m-2 0h3m-2 0h3m-1-1h3m-2 1h3m-2-1h3m2-1h3m-2 1h3m1-3h3m0 4h3m-2-4h3m-1 4h3m6-1h3m-3-2h3m7-1h3m0 1h3m1 1h3m3 1h3m4 0h3m1-1h3m-1 1h3m2 1h3m1-1h3m0 1h3m-3-1h3m2 0h3m1 1h3m-3 0h3m-1-1h3m-1-2h3m-2-1h3m-1 4h3m-3 0h3m0-1h3m4-3h3m7 0h3m-3 1h3m-1 3h3m-382 2h3m17 2h3m3-1h3m13-2h3m4 4h3m-1 0h3m25-4h3m10 0h3m5 3h3m1-2h3m30 3h3m14-2h3m3-2h3m-3 2h3m-2-1h3m0-1h3m-2 3h3m-1-3h3m1 2h3m0 1h3m6-1h3m-2-2h3m-2 0h3m-1 0h3m-1 0h3m6 4h3m-2-2h3m0-2h3m-1 3h3m-1 1h3m4-3h3m0 3h3m-2 0h3m-2-1h3m9-1h3m-3 1h3m4-1h3m-2 2h3m-1-4h3m5 3h3m1-1h3m-2 2h3m-2-2h3m-1-1h3m0 2h3m-1-1h3m1 0h3m-1 2h3m-3-3h3m-1 2h3m-2 0h3m-2-3h3m-2 3h3m-1 0h3m1 0h3m2 1h3m1-2h3m-3-2h3m-2 1h3m0 1h3m-2 0h3m-2 2h3m-3-1h3m2-2h3m2-1h3m-2 4h3m-3-1h3m-1 0h3m-3-2h3m-1-1h3m-3 0h3m-1 0h3m-1 2h3m-3 1h3m-1 0h3m2-1h3m1-2h3m-3 4h3m-3-3h3m4 1h3m-3-1h3m0 1h3m-2 2h3m7-3h3m-2 2h3m-2 0h3m-3-2h3m0 0h3m-3-1h3m-2 1h3m15 0h3m-2 1h3m-2 1h3m-353 2h3m24 0h3m5 1h3m49 1h3m-2 2h3m8-1h3m-1 0h3m30-2h3m3 0h3m-2 2h3m-1 0h3m1 1h3m9-3h3m3 2h3m0-3h3m-2 0h3m7 1h3m1 0h3m1-1h3m-2 0h3m4 4h3m-2-3h3m5 1h3m-3 2h3m6-3h3m-1 2h3m-1 0h3m-3 1h3m-2-1h3m-2-1h3m3-2h3m0 0h3m-3 1h3m-1 2h3m-3 1h3m-2 0h3m-1 0h3m-3 0h3m-2-1h3m4-1h3m-2-1h3m-1-1h3m-2 4h3m-2 0h3m-1 0h3m-1 0h3m-3-2h3m-1 1h3m-3-1h3m0 1h3m0 0h3m-2-2h3m-2 3h3m1-1h3m-1-2h3m3 3h3m-2-2h3m-3 0h3m0 1h3m-2-1h3m-2 0h3m0 0h3m4-2h3m-2 4h3m-2-2h3m-2-1h3m1 3h3m-2-1h3m-3 0h3m1-3h3m3 2h3m-1 1h3m-3 1h3m0-4h3m-3 2h3m-1-2h3m-2 2h3m-3 1h3m10-2h3m1 3h3m-3-2h3m-1-2h3m4 0h3m9 3h3m-1-1h3m-360 6h3m9-3h3m10 2h3m8 0h3m1-1h3m4 2h3m-1 0h3m4 0h3m42 1h3m0 0h3m40-4h3m5 1h3m-3-1h3m1 1h3m-3-1h3m-2 0h3m3 2h3m-2 1h3m-1-2h3m7 1h3m0 0h3m-2-2h3m-3 4h3m-3-3h3m-2 1h3m-2-1h3m-1-1h3m3 1h3m6 0h3m-1 1h3m0 1h3m-3 0h3m2-3h3m0 0h3m-1 2h3m-2 0h3m-3-1h3m-1 2h3m-2-2h3m-2 3h3m-2-3h3m-2 2h3m-1-1h3m-2 1h3m-2-2h3m-3-1h3m7 4h3m-3-4h3m-1 0h3m-1 3h3m-2-1h3m-1-1h3m-3 2h3m-3-3h3m1 0h3m5 3h3m-1-1h3m-3-2h3m-2 3h3m-1-3h3m1 0h3m-2 4h3m-1 0h3m-2-1h3m-3-3h3m-1 2h3m-3-2h3m-2 2h3m2 2h3m-2 0h3m-3-3h3m0-1h3m-2 2h3m-1 2h3m0-4h3m0 2h3m-1 2h3m2-4h3m-1 3h3m-1-1h3m-2 0h3m-2 1h3m-1-3h3m0 2h3m2-1h3m-2 1h3m-2 2h3m0-1h3m-1 0h3m3 1h3m-3-4h3m-2 3h3m-1-2h3m2 2h3m4 1h3m-1-2h3m2 0h3m-2 2h3m1-3h3m-2 3h3m-1-3h3m-3 1h3m2 0h3m-366 6h3m-1 1h3m2-3h3m-1-1h3m-2 4h3m9-4h3m10 2h3m1-1h3m24 2h3m14 1h3m9-2h3m-1-1h3m1 2h3m6-3h3m11 2h3m6-1h3m13-1h3m1 3h3m-2-3h3m5 1h3m-2 0h3m5 0h3m0 0h3m-3 2h3m-2 0h3m-2 0h3m-2-1h3m5-2h3m4 0h3m-3 3h3m1-1h3m-2-2h3m-2 0h3m1 4h3m-3 0h3m4-4h3m1 4h3m-3-2h3m1 1h3m1-1h3m0-1h3m0 0h3m-2 3h3m-2 0h3m-3-4h3m-2 3h3m-3 1h3m-2-2h3m1 0h3m-2 1h3m-2-2h3m-1-1h3m-3 2h3m2 1h3m-2 0h3m-2-3h3m-1 2h3m0-2h3m1 2h3m-3 1h3m-3 1h3m-2-3h3m-3-1h3m-2 0h3m1 0h3m-2 4h3m0-1h3m-2 0h3m-2-1h3m-3 2h3m-2-1h3m-3 1h3m-1-1h3m-2-3h3m0 3h3m-2-3h3m-3 3h3m0 1h3m-2-4h3m-2 1h3m-2 0h3m-2 3h3m-2-1h3m3 0h3m-2-3h3m-2 1h3m-3 2h3m0 1h3m0-4h3m0 2h3m-2-1h3m-2 0h3m-1 1h3m5-2h3m-2 1h3m-3 2h3m-2 0h3m-2 0h3m-2-1h3m-1-2h3m3 3h3m3-2h3m-1 0h3m-2-1h3m0 0h3m14 2h3m-2 1h3m8 0h3m-379 2h3m0 4h3m10-2h3m-2 0h3m1-1h3m-2-1h3m-2 2h3m-2-2h3m2 1h3m1 2h3m-2-1h3m-2 0h3m-1 0h3m-2 0h3m3-2h3m29 2h3m5-1h3m3 1h3m7 2h3m4-1h3m14 0h3m2-1h3m2-1h3m-2 0h3m0 1h3m4 1h3m2-2h3m8 1h3m4 1h3m-1-1h3m16-2h3m-3 4h3m-3 0h3m0 0h3m-1 0h3m-3 0h3m-1-2h3m-2 2h3m-1-4h3m-2 4h3m-2 0h3m0-2h3m1-1h3m-3 2h3m2-3h3m-2 3h3m-3-3h3m-3 2h3m2 0h3m2-1h3m2 2h3m-2 0h3m0-1h3m-3 0h3m-3 2h3m-1-4h3m-3 2h3m-2 2h3m-2-1h3m-3 1h3m-2-4h3m-3 4h3m-1-1h3m-1-3h3m-2 0h3m-2 2h3m-2 0h3m0-1h3m-2 0h3m1 1h3m-2-1h3m-2 1h3m-3-2h3m-2 1h3m0-1h3m-2 2h3m-3 0h3m1-2h3m-2 3h3m-3-3h3m0 3h3m0 0h3m0-1h3m-1-1h3m-3 3h3m-3 0h3m-1-3h3m-3 1h3m-1 0h3m-2-2h3m-1 2h3m-2 0h3m-3 0h3m-1-2h3m-3 0h3m-1 4h3m3 0h3m-1-1h3m7-3h3m1 2h3m-1 0h3m-1 1h3m-3-2h3m-2-1h3m-2 3h3m0-2h3m-2 0h3m-3-1h3m-3 0h3m0 4h3m-3-3h3m-2 2h3m-3 0h3m-3-3h3m-2 4h3m-3 0h3m-3 0h3m-1-2h3m-2 1h3m0-3h3m2 0h3m1 4h3m2-4h3m0 0h3m-3 2h3m-2-1h3m0-1h3m4 2h3m-1 2h3m4-1h3m-2-1h3m-2 0h3m-1-1h3m-395 7h3m12-2h3m-2 3h3m8-3h3m-1 1h3m7 0h3m2 2h3m-3-1h3m-2 0h3m4-2h3m0 0h3m-1 1h3m-3-1h3m4 1h3m22 0h3m-1-1h3m6-1h3m19 1h3m5 1h3m10-2h3m13 4h3m5-3h3m3-1h3m-2 4h3m-2-2h3m3 1h3m-2 1h3m0 0h3m-3-1h3m6 1h3m-2-3h3m-2 3h3m5 0h3m-1-1h3m-3-3h3m-1 2h3m-2 1h3m-2-3h3m-1 3h3m-2-2h3m3 1h3m-2-1h3m-3 3h3m-2-1h3m-1 0h3m-2-1h3m0 1h3m0-3h3m-2 0h3m-1 0h3m-2 3h3m2 1h3m0 0h3m-1-4h3m0 4h3m-2-2h3m0-2h3m-2 4h3m-3-1h3m-2-2h3m-3 2h3m-2 1h3m-3 0h3m0 0h3m-2-3h3m-2 0h3m1 3h3m-2-1h3m-2-2h3m-2 2h3m-2 0h3m-3-2h3m-2 2h3m-2-3h3m-2 0h3m-2 0h3m-1 1h3m-2 0h3m2 2h3m1-2h3m-3 3h3m-1-4h3m-3 1h3m-2 0h3m1 2h3m-2 1h3m0-4h3m-1 1h3m-3 1h3m-1 1h3m0-1h3m0 2h3m-2-4h3m-2 2h3m-3-1h3m-3 2h3m0-2h3m-2 0h3m-3 3h3m2-1h3m-3-2h3m-3 2h3m-2 1h3m-3 0h3m-2-1h3m-2 0h3m0-1h3m-2 1h3m-2-3h3m-2 4h3m-1-2h3m-2-2h3m-3 1h3m-1 2h3m-2-1h3m1-1h3m-2 3h3m-3-4h3m-2 4h3m-2 0h3m3 0h3m-2-1h3m-2 0h3m-3-1h3m-2 1h3m0-2h3m0 1h3m-3-2h3m-2 3h3m1 0h3m-3-3h3m-2 1h3m-2-1h3m-3 2h3m-1 0h3m-2 0h3m3-2h3m-1 0h3m-2 3h3m-1-2h3m2 1h3m1 1h3m-2-2h3m-1-1h3m2 2h3m-357 6h3m0-3h3m-3 2h3m-2 2h3m-2-2h3m2 1h3m0-1h3m-2 1h3m-2 1h3m-3 0h3m0-3h3m0 3h3m-1 0h3m-1-3h3m-2-1h3m2 4h3m0-1h3m0-3h3m0 3h3m0-1h3m0-2h3m37 1h3m7 0h3m3-1h3m-3 4h3m4-1h3m4-3h3m10 1h3m1 2h3m5 0h3m-1-1h3m-1 0h3m-2-2h3m3 0h3m-1 4h3m7-1h3m2-3h3m-2 3h3m-1-2h3m0 3h3m0-3h3m1-1h3m1 1h3m0-1h3m-2 3h3m0 1h3m-1-3h3m-3 2h3m-3-1h3m-2 0h3m-2 1h3m-2 1h3m-2-4h3m-1 0h3m0 4h3m-2-4h3m-1 0h3m-1 1h3m-2-1h3m-1 0h3m-2 3h3m-3-3h3m-2 2h3m0 2h3m-2-2h3m-2-2h3m-3 1h3m-2 0h3m-3 2h3m-1 0h3m-1 1h3m-2 0h3m-2-2h3m-2-2h3m-3 1h3m-1 2h3m-3-2h3m-3-1h3m-1 2h3m-2 0h3m-2-2h3m-3 2h3m-1 1h3m-3-3h3m-2 0h3m-3 2h3m-2-1h3m-2-1h3m-1 0h3m-3 2h3m-2 2h3m-2-2h3m-2 0h3m-2 2h3m-2-4h3m-3 0h3m-2 3h3m-1-3h3m-2 1h3m-1 3h3m-1-3h3m-2 3h3m-3-1h3m-3-1h3m-2-2h3m-3 4h3m-1-4h3m-3 4h3m-3-3h3m-3 0h3m-2 0h3m-3 3h3m-2-1h3m-3-2h3m-3-1h3m-2 2h3m-3 2h3m1-1h3m-3 1h3m-1-3h3m-3 0h3m-1 3h3m0-2h3m-2 0h3m-2 0h3m-1-1h3m-1 2h3m-3 1h3m-2-2h3m0 2h3m-2-2h3m0 1h3m-2-2h3m1 0h3m-1 0h3m-3-1h3m-1 0h3m-1 3h3m0-1h3m-2 1h3m1-2h3m2 0h3m-2 0h3m2 2h3m-3-2h3m0 2h3m-2-3h3m-2 1h3m-1 3h3m-1-2h3m1-2h3m6 2h3m1-1h3m3 1h3m2 0h3m2 2h3m1-1h3m-2 1h3m-385 5h3m-1-3h3m3 3h3m0 0h3m-1 0h3m-2-3h3m1 1h3m0-2h3m-3 3h3m0 0h3m2-1h3m-2 0h3m5-2h3m4 2h3m0-2h3m10 0h3m0 2h3m-1-2h3m6 2h3m20-2h3m-3 4h3m0-3h3m6 1h3m-3 2h3m2 0h3m5-4h3m2 1h3m-3 2h3m4 1h3m-1 0h3m8-3h3m-2 2h3m-1-2h3m-2 3h3m-3-1h3m-2-2h3m20 1h3m-2 0h3m0 1h3m1 0h3m-1 1h3m3-1h3m-3 0h3m-2 1h3m1 0h3m-2-4h3m-1 4h3m-3 0h3m0-4h3m0 4h3m-3-3h3m-2 1h3m-3-1h3m-3 1h3m-1 2h3m-2-2h3m-2 1h3m-1-1h3m-1-1h3m-2-1h3m-2 1h3m0-1h3m-2 3h3m-2-1h3m-2-2h3m-3 1h3m-2-1h3m-3 0h3m-2 0h3m-3 3h3m0 0h3m-2 1h3m-2-4h3m-2 0h3m-3 2h3m1-1h3m-3 3h3m-2-3h3m-2 3h3m-2-1h3m0-2h3m-3 0h3m-2 3h3m-2-4h3m-2 1h3m-2-1h3m-2 3h3m-2 1h3m-3-2h3m-3-1h3m3 3h3m2 0h3m0-1h3m-2 0h3m-3-3h3m-2 1h3m-3 0h3m-2 1h3m-1 1h3m2 0h3m0-1h3m0-2h3m-3 0h3m-2 3h3m-2 0h3m0-2h3m-3-1h3m-2 2h3m2 2h3m-3-4h3m0 1h3m-2 1h3m-1-1h3m-2 1h3m-2-1h3m-2-1h3m-2 0h3m0 0h3m-3 3h3m-1 1h3m-3-4h3m-2 0h3m-3 0h3m0 1h3m-2 0h3m-1 3h3m-1-1h3m-3 0h3m-2 1h3m-3 0h3m4-3h3m-3 1h3m-2 1h3m-2-1h3m-2-2h3m1 4h3m-2-1h3m-2-2h3m-2 2h3m-2-2h3m3 2h3m-2-3h3m-1 1h3m-2 3h3m-3-1h3m-1-2h3m-3 3h3m5-4h3m-2 3h3m2-2h3m0-1h3m-2 0h3m-2 1h3m3-1h3m1 0h3m-1 3h3m-1-3h3m0 0h3m-1 2h3m-380 3h3m3 4h3m-2-2h3m-1 2h3m4 0h3m-2-4h3m11 2h3m-2 1h3m-1 1h3m11-4h3m-3 2h3m15 0h3m2 2h3m20-3h3m46 2h3m1-2h3m2 1h3m2 1h3m0-1h3m-3-2h3m-2 3h3m-2-1h3m-3 2h3m3 0h3m0-1h3m0 0h3m4-2h3m3 1h3m-1-2h3m-2 2h3m-2-2h3m0 3h3m1-2h3m-2 2h3m0-1h3m-2-1h3m-3 0h3m0-1h3m-1 2h3m0-2h3m-2 3h3m-1 0h3m-2-1h3m-2 1h3m0-2h3m2 0h3m-2 3h3m-2-4h3m1 1h3m-3 2h3m-2-1h3m-2 1h3m-2-2h3m-3 2h3m-2 1h3m2-4h3m-1 2h3m-3-1h3m0-1h3m-1 2h3m-1-1h3m1 1h3m-2 1h3m-3 0h3m-2 1h3m-3-2h3m-1-1h3m-3 2h3m-1 1h3m-3-1h3m-2-2h3m-3 2h3m-2-2h3m-2 0h3m-2 3h3m-2-3h3m-1-1h3m-1 2h3m-3-1h3m-2 3h3m-2 0h3m-2 0h3m-2-2h3m-2-2h3m-2 3h3m-1 0h3m-2-3h3m-2 0h3m-1 4h3m-1-1h3m-1-2h3m-3 1h3m-2 1h3m-2-3h3m-3 0h3m-1 3h3m-3 1h3m-3 0h3m-2-2h3m-3 0h3m-3-1h3m-1 1h3m-3-2h3m3 0h3m-2 1h3m-3 0h3m-2 0h3m-2 1h3m-3-1h3m-2 3h3m-2-2h3m-2-1h3m-2-1h3m-3 1h3m6 2h3m-2 1h3m-1-2h3m-2 1h3m-3-2h3m-1-1h3m-3 2h3m-1 1h3m4-1h3m-3 0h3m0-1h3m0 3h3m-3-1h3m0-2h3m-2 1h3m-3 1h3m-2 1h3m0-4h3m-1 1h3m-2 1h3m6 0h3m15-1h3m2-1h3m-1 3h3m-3-2h3m-388 7h3m-1 1h3m-2 0h3m-2-4h3m1 1h3m1 2h3m2-1h3m0-2h3m4 4h3m0-1h3m0-1h3m1-1h3m1 1h3m10-1h3m58 2h3m2 1h3m5 0h3m-1-1h3m-3 0h3m2 1h3m-1-2h3m7-1h3m-2 2h3m9-3h3m5 4h3m-1 0h3m1-4h3m-2 2h3m0 2h3m-1-3h3m-3 1h3m-2-1h3m-2 1h3m-2-2h3m-1 2h3m-1 1h3m1-3h3m2 4h3m-2-2h3m-1-1h3m-2 1h3m-2 2h3m-1-1h3m0-2h3m-1 2h3m-3-1h3m-2 1h3m-1-1h3m0-1h3m-1 1h3m-2 1h3m-2-1h3m3 0h3m-2 2h3m-2 0h3m-3-4h3m1 3h3m0-1h3m-3 1h3m2-3h3m0 4h3m-2-1h3m-3-1h3m-1 2h3m-1-4h3m-2 0h3m-3 0h3m-3 1h3m-2 0h3m-2 0h3m-2 1h3m-3-2h3m-1 3h3m-3-3h3m-3 3h3m-2-2h3m-1-1h3m-1 0h3m-3 4h3m-2-3h3m-3 3h3m-1-3h3m-1 2h3m-3-1h3m-3 2h3m-3-3h3m-1-1h3m5 3h3m-3 1h3m-2-2h3m-2 1h3m-3-1h3m-1-1h3m-3-1h3m-3 4h3m-2-3h3m-2 1h3m-3 1h3m-2 0h3m-3-3h3m-2 0h3m-1 4h3m-3-3h3m-1 3h3m0-3h3m1-1h3m-2 3h3m-1-3h3m-3 1h3m-1 1h3m-3 0h3m-1-1h3m-3 2h3m-1-3h3m-1 4h3m-3-4h3m-2 3h3m-2-1h3m3 2h3m-2-4h3m-3 1h3m-3 3h3m1-4h3m-3 0h3m-3 2h3m-1-1h3m-2 2h3m-1-2h3m0 0h3m0-1h3m-2 4h3m0-3h3m-3 1h3m1 0h3m2-2h3m1 2h3m-2-1h3m-2 2h3m-2-2h3m4 1h3m0 1h3m7-3h3m6 0h3m0 2h3m-389 3h3m9 2h3m-1-2h3m0 3h3m-3 1h3m2-2h3m-1-2h3m0 1h3m2 1h3m3-1h3m3 2h3m2 1h3m2 0h3m-1-4h3m0 0h3m39 4h3m27-1h3m-3-1h3m8 0h3m1 0h3m-1 2h3m3 0h3m1-4h3m-1 2h3m1-1h3m-3-1h3m-1 4h3m-3-1h3m-1-2h3m-2 3h3m-1-2h3m-2 1h3m-2-2h3m-2 1h3m-2 1h3m-1-3h3m2 4h3m-3-3h3m-2 2h3m1 0h3m-3-2h3m-1 1h3m1-1h3m0 3h3m3 0h3m-3-1h3m1-3h3m-2 2h3m-3-2h3m-1 0h3m-2 0h3m-2 3h3m-3 0h3m-1 1h3m-3-1h3m-2 1h3m-3-4h3m-1 2h3m-2-2h3m-1 0h3m-2 4h3m-3-3h3m-2 0h3m-1 0h3m-1-1h3m-3 0h3m-2 0h3m-3 1h3m-1 2h3m-2-3h3m-3 2h3m-3-1h3m0 0h3m1 2h3m-2 1h3m-2 0h3m-1-1h3m0-2h3m-1 2h3m-1-2h3m-3 2h3m-2-2h3m-2-1h3m-2 1h3m-3 1h3m-2-1h3m-3-1h3m-2 3h3m2-2h3m-2 2h3m-2-3h3m0 4h3m-3-4h3m-2 4h3m-1-1h3m-3-2h3m-2 0h3m-1-1h3m-1 0h3m-2 4h3m-3-2h3m2-1h3m-1 2h3m-1-3h3m-3 3h3m-2-3h3m-3 1h3m-2 0h3m-2 1h3m-3-1h3m-2 3h3m-2-4h3m-2 2h3m-2-2h3m-2 1h3m-3 1h3m-2 2h3m-3-1h3m-3-3h3m-3 4h3m-1-2h3m-2 1h3m-2 0h3m-2-3h3m2 2h3m-1 1h3m-2 1h3m-1-2h3m-3 2h3m-2-3h3m-3 3h3m-3-2h3m1 1h3m-2-2h3m-2 0h3m1 3h3m2-4h3m-3 3h3m-1-1h3m0 1h3m3-3h3m-1 0h3m-3 4h3m-2-2h3m0 1h3m1 0h3m-2-3h3m-2 1h3m-3 2h3m-1-2h3m-2-1h3m-2 2h3m1-1h3m-1 2h3m-2-1h3m1-1h3m4 0h3m-2 0h3m4 0h3m-2 0h3m5 1h3m-3 0h3m-3-1h3m7 3h3m-395 1h3m3 3h3m5 1h3m2-3h3m2-1h3m-2 2h3m-3-2h3m-1 0h3m-2 0h3m-3 0h3m-2 1h3m0 3h3m0-4h3m0 1h3m1 0h3m4 2h3m0 0h3m-2-3h3m-2 4h3m-2 0h3m-3-3h3m-1 0h3m4 0h3m37-1h3m33 3h3m1-2h3m8-1h3m-2 4h3m-2-3h3m-2-1h3m7 1h3m4-1h3m2 2h3m-3 1h3m6-1h3m0 2h3m-3-1h3m-2-2h3m-2 2h3m2-2h3m-1-1h3m-3 3h3m-3 0h3m1-2h3m3 0h3m-3 2h3m-2 0h3m-3-3h3m-1 3h3m-2-3h3m-3 2h3m-3 0h3m-2 1h3m-1 1h3m2 0h3m1-1h3m-3-2h3m-2-1h3m-3 3h3m-1-1h3m-2-1h3m3 2h3m-1-1h3m-3 0h3m-2-1h3m-1-1h3m-2 1h3m-3 3h3m1-1h3m-2-2h3m-1 0h3m-2 3h3m-3-4h3m-2 3h3m-2 0h3m-2-1h3m-2 0h3m-1-2h3m-2 0h3m-2 3h3m-3-2h3m-2 0h3m-3-1h3m-3 1h3m-2 1h3m-2 0h3m-3 1h3m-1-2h3m-2-1h3m-1 1h3m0 0h3m-2 3h3m-3-2h3m-1 2h3m-2-2h3m-3-1h3m0 1h3m-2 2h3m-2-1h3m-2 0h3m-3 1h3m-3-4h3m-2 0h3m-3 3h3m-3 0h3m0 1h3m-2-2h3m-2 0h3m0 0h3m-3 2h3m-3-1h3m1 0h3m-3-2h3m-1 2h3m-3 0h3m-2-1h3m-3 2h3m-1-3h3m1-1h3m-1 1h3m-3-1h3m-2 4h3m-1-4h3m-3 1h3m0 0h3m-3-1h3m-1 4h3m-3-4h3m-2 4h3m-2-1h3m-2-2h3m-3-1h3m-2 2h3m-2 0h3m-3 0h3m0-2h3m-2 0h3m-3 0h3m-1 2h3m-3 1h3m-3-2h3m-1 1h3m-1 1h3m-2-1h3m-1 2h3m-3-2h3m-1 0h3m2-2h3m-2 3h3m-2-1h3m-2 0h3m-3-1h3m1 2h3m-2-2h3m2-1h3m0 1h3m-2 0h3m-1-1h3m-3 3h3m-2-1h3m-1 0h3m-3 2h3m-3-1h3m-2-1h3m5 2h3m-2-3h3m-3 3h3m-2-4h3m4 4h3m5-4h3m-2 4h3m2-1h3m-3 1h3m-400 5h3m20 0h3m-2 0h3m6 0h3m-3-2h3m2 0h3m-1 0h3m-2-1h3m2 0h3m14-1h3m4 3h3m41 0h3m11 0h3m6 0h3m-3 1h3m5-3h3m16 1h3m3 1h3m3-2h3m-3 3h3m-2-4h3m-2 0h3m-2 2h3m-1 0h3m-3 0h3m-2-2h3m1 0h3m-2 2h3m-2 0h3m-3 2h3m5-2h3m1 0h3m0 1h3m-1-1h3m-2 2h3m-1-4h3m-2 1h3m-2 1h3m-2 1h3m-1 0h3m-2 0h3m-2-1h3m-2 2h3m-3-1h3m-2 1h3m-2-1h3m-2-1h3m-2-1h3m-2 3h3m0-2h3m-2 2h3m-2-1h3m-3-3h3m-1 1h3m-1 2h3m-2 0h3m-1-3h3m-2 0h3m-3 2h3m-2 0h3m-3 1h3m-3-1h3m-2 1h3m-2-1h3m-1-1h3m-3 2h3m-2-1h3m-1 2h3m4 0h3m-3-4h3m-2 1h3m-3 2h3m-2-2h3m-2 0h3m-2 2h3m-3 1h3m1-4h3m-2 3h3m-3-3h3m-2 2h3m0-2h3m-1 4h3m-1-1h3m-3 0h3m-1-2h3m-2 2h3m-3 1h3m-2-3h3m-2 1h3m-2 0h3m-3-2h3m-1 3h3m-3 0h3m-2-1h3m-1 1h3m-2-2h3m-2 3h3m-2 0h3m-3-2h3m-3 2h3m-3 0h3m-2 0h3m-2-4h3m0 3h3m-2-2h3m-3 3h3m-2-4h3m-1 2h3m-3 2h3m-2 0h3m-3-2h3m-3 0h3m2-2h3m-2 3h3m0-3h3m-3 3h3m-2-3h3m-3 0h3m-2 4h3m-1-2h3m-1 1h3m-3-1h3m-3 1h3m-3 0h3m-3-1h3m-2 1h3m-3-3h3m-1 2h3m-3 0h3m-3 1h3m-1-3h3m-3 4h3m-3 0h3m-3-2h3m1-1h3m1 2h3m-2 0h3m-2-3h3m1 2h3m-2 1h3m-3-2h3m-2 0h3m-1-1h3m3 4h3m-2-1h3m1 0h3m-1-3h3m-1 2h3m-2 1h3m4-3h3m3 1h3m-2 3h3m1-4h3m2 4h3m-1-4h3m15 4h3m-2-2h3m-3 1h3m-1-1h3m-2-1h3m-398 8h3m16-4h3m5 3h3m0-3h3m3 4h3m2 0h3m0-2h3m-1 2h3m-3-2h3m-1-1h3m0-1h3m-3 3h3m6 0h3m-2-2h3m-2 2h3m-2-3h3m2 0h3m-1 1h3m2 1h3m3 2h3m17-1h3m1-2h3m10 3h3m1-4h3m-1 4h3m7-2h3m4 2h3m0-2h3m-1 2h3m1 0h3m8-3h3m4 0h3m-3 0h3m-1 3h3m-2-2h3m7 0h3m-1-1h3m-3 2h3m-2-2h3m3 2h3m3-1h3m-3 2h3m-2-2h3m-1-1h3m1 3h3m1-3h3m-2 2h3m-3 1h3m-3-4h3m-2 0h3m-3 4h3m-1-2h3m-3-2h3m-2 4h3m-2-4h3m0 0h3m-2 3h3m-3-2h3m3 2h3m-2-3h3m-1 2h3m1 1h3m0 1h3m1 0h3m-3-4h3m-2 0h3m-3 2h3m-2 0h3m-2-1h3m-1 2h3m-1-3h3m-1 3h3m-3-1h3m-2 0h3m-3 0h3m-3-2h3m-3 2h3m-2 1h3m-3 0h3m-2-3h3m-1 2h3m-2-1h3m-1 0h3m-1 1h3m-1 2h3m-2-4h3m-2 4h3m-3 0h3m-2-1h3m-2-1h3m-3 2h3m-1-3h3m-2 1h3m-2-2h3m-2 2h3m-3-2h3m-1 2h3m-2-2h3m-2 0h3m-3 2h3m-1-2h3m0 4h3m-2-3h3m-3-1h3m-2 2h3m-3-1h3m-2 3h3m-3-2h3m-2 2h3m-1-4h3m-3 1h3m-3 2h3m-2-3h3m-2 0h3m-2 1h3m-2 1h3m-2 0h3m-2 0h3m-3-2h3m-2 2h3m-1 1h3m-3-2h3m-3 2h3m-1-3h3m-2 3h3m0 0h3m-2-3h3m-3 4h3m-1 0h3m-2-1h3m-3-2h3m-2 3h3m-1-2h3m-3 2h3m-1-4h3m-2 0h3m-2 4h3m-3-3h3m-1 0h3m-2-1h3m-3 3h3m-3 1h3m-2-2h3m-2 2h3m-3-3h3m-2 3h3m-3-1h3m-2-3h3m-3 3h3m-3 1h3m-2-2h3m-3-2h3m0 0h3m-3 3h3m1-3h3m-2 2h3m-1 1h3m-2-1h3m-2 0h3m-2 0h3m-3 0h3m1 0h3m-3-2h3m0 1h3m-1 1h3m-1 1h3m1-1h3m-1 0h3m-1-2h3m-3 1h3m2 3h3m-2-1h3m1 0h3m-3 0h3m0-1h3m0 2h3m4-3h3m-1 2h3m-2 1h3m3-1h3m-384 3h3m20 0h3m6 3h3m-3-1h3m-2-1h3m4 2h3m4 0h3m4-1h3m0-2h3m1 2h3m-3-2h3m22-1h3m-1 1h3m40 2h3m13-3h3m6 3h3m12-1h3m1-2h3m8 3h3m0 1h3m0 0h3m-2-1h3m2-3h3m-2 4h3m1-3h3m-3 2h3m1-3h3m-3 3h3m-1-2h3m0-1h3m-3 0h3m-2 1h3m10-1h3m0 1h3m0 1h3m-1-1h3m-2 3h3m-3 0h3m-1-1h3m-2 0h3m-3-1h3m1 1h3m-1 0h3m-2-3h3m-1 1h3m-3 0h3m-3 1h3m-2-1h3m-3-1h3m-2 2h3m-3 1h3m-1-3h3m1 1h3m-2 0h3m-1 3h3m-2 0h3m-2-1h3m-1 0h3m-2 0h3m-2-2h3m0 0h3m-1 0h3m-3 0h3m-2 1h3m-3 0h3m-2 2h3m-2-4h3m-2 3h3m-3 0h3m0-3h3m-1 2h3m0-1h3m-2 3h3m-3-2h3m2-1h3m-1 2h3m-3 1h3m-3-4h3m0 2h3m-3-1h3m-2 0h3m0 3h3m-2 0h3m-2 0h3m0-3h3m0 1h3m-1 1h3m0 0h3m-2 1h3m-3 0h3m-2-2h3m-1 1h3m0-2h3m-1 3h3m-1-4h3m-2 4h3m1-2h3m-2-2h3m1 4h3m0-1h3m-2 1h3m-2 0h3m-1-2h3m-3 0h3m-2 1h3m-3 1h3m1-1h3m-2 1h3m-3-4h3m-3 3h3m-2-2h3m-1 0h3m2 3h3m0-3h3m-3 1h3m1-1h3m-2 3h3m9-4h3m2 2h3m-3 1h3m2-3h3m-2 2h3m-2-2h3m-1 2h3m-2 2h3m10-4h3m-3 1h3m-389 8h3m8-3h3m-3 3h3m3-1h3m1-3h3m-2 2h3m12-1h3m-2 0h3m5 0h3m-1-1h3m5 4h3m10-2h3m64 2h3m5 0h3m-1-1h3m-2-2h3m-2 2h3m0 1h3m-3-4h3m2 0h3m0 0h3m3 1h3m-2 0h3m4-1h3m0 4h3m-2-4h3m-1 0h3m0 1h3m-3 1h3m-1-2h3m4 3h3m0 1h3m-3 0h3m1 0h3m-3-4h3m-1 1h3m-1 2h3m-2-1h3m-1 0h3m-2 0h3m-2 1h3m-2 1h3m3-2h3m-1 1h3m-1-3h3m-3 0h3m-2 1h3m3 2h3m-3-3h3m-3 0h3m1 4h3m-3-2h3m-1 0h3m-2 2h3m-3-4h3m-2 2h3m0-2h3m-2 4h3m-2-3h3m-3 1h3m0-2h3m0 4h3m-1-1h3m-3-2h3m-3 1h3m-2 2h3m0-3h3m-2-1h3m-3 2h3m-3-1h3m-2 0h3m-3-1h3m0 2h3m-1-1h3m-2 0h3m0 0h3m0-1h3m-2 4h3m-3-2h3m-2-2h3m-3 0h3m0 3h3m-1-3h3m-3 1h3m-3 2h3m-2 0h3m-3 0h3m-3-3h3m-3 2h3m-2-2h3m-1 4h3m-1-2h3m-1-2h3m-1 0h3m-2 1h3m-2 3h3m-3-3h3m-2 1h3m-2-2h3m1 0h3m1 1h3m-2 1h3m-3-1h3m-2 3h3m0-4h3m-3 1h3m0 1h3m1-2h3m-2 3h3m3 0h3m-3-1h3m-1-2h3m-3 3h3m0-3h3m0 0h3m6 3h3m4-2h3m-2-1h3m1 0h3m-3 0h3m2 3h3m0-1h3m9 2h3m-3 0h3m1-4h3m-363 5h3m-3 0h3m5 4h3m23-3h3m57 0h3m0 2h3m2 0h3m13-2h3m-2 1h3m-2 1h3m4 1h3m0-4h3m1 1h3m14-1h3m4 0h3m-2 2h3m-3-1h3m8 3h3m2-4h3m-2 3h3m-1-2h3m-3-1h3m3 4h3m-2-4h3m0 0h3m-2 4h3m0-2h3m-3-1h3m-3 1h3m-1 1h3m0 0h3m-2-3h3m-1 4h3m-2-2h3m-2-2h3m-1 0h3m-3 3h3m9-1h3m-3-2h3m-1 4h3m-2 0h3m1-1h3m-2 1h3m1 0h3m-2-1h3m-2-3h3m-1 2h3m-2-1h3m-3 3h3m-1-2h3m-1 2h3m-2-1h3m-2-3h3m2 1h3m-3 0h3m-2 1h3m-3 2h3m-2 0h3m-2-4h3m-3 0h3m-2 4h3m-2-4h3m-3 3h3m-3-2h3m-2 0h3m-3 3h3m-2-2h3m-2 2h3m-2 0h3m-2-2h3m-3-1h3m-3 3h3m-2-3h3m-2 3h3m-3-2h3m-3 2h3m0-3h3m-3 3h3m0-1h3m-2-1h3m-3-2h3m-1 0h3m-3 4h3m-2-1h3m-2-1h3m-2 1h3m-3-1h3m-2 0h3m-1 0h3m-2-2h3m-3 2h3m-2-2h3m1 4h3m-3-3h3m-2 0h3m2 1h3m-3-2h3m-3 1h3m0-1h3m-1 3h3m1-2h3m1-1h3m-3 4h3m0-2h3m-2-2h3m-2 2h3m1 1h3m3-2h3m-2 0h3m-3 0h3m-2 3h3m-2-1h3m-2-3h3m0 1h3m0 2h3m8 1h3m-1-2h3m-1-2h3m5 1h3m-1 1h3m-1 0h3m2-1h3m-1 0h3m-3 2h3m0-3h3m7 0h3m-1 2h3m-1 0h3m1-1h3m-1 1h3m0-2h3m-392 5h3m28 1h3m20-1h3m34 0h3m10 3h3m12-1h3m1 2h3m0-3h3m18 1h3m4-1h3m2-1h3m-3 2h3m1 1h3m-1 0h3m-1-1h3m-3-2h3m-3 4h3m-1-3h3m8-1h3m2 3h3m2-3h3m3 4h3m-3 0h3m1-1h3m-1-3h3m-2 4h3m0-2h3m-1-1h3m-3 1h3m-1-1h3m-3 0h3m1 0h3m-3 0h3m3 3h3m1-2h3m-1 1h3m-1 0h3m-1-2h3m-1 3h3m-2-4h3m-2 2h3m-2-1h3m-3 1h3m-1-1h3m0-1h3m-2 1h3m-2 2h3m2-3h3m-3 4h3m-2-4h3m2 1h3m-2 2h3m-2 0h3m-3-3h3m-1 4h3m-3-3h3m4-1h3m-1 0h3m3 1h3m-2-1h3m-2 3h3m-2-3h3m-2 3h3m6 0h3m4 1h3m-2-2h3m-3-2h3m0 4h3m-2 0h3m-2-2h3m-2-2h3m3 1h3m-1 0h3m1 0h3m-3 1h3m-2-2h3m-3 3h3m3-3h3m-1 0h3m1 0h3m1 0h3m13 3h3m1-1h3m2 1h3m8-2h3m-3 1h3m1 2h3m10-2h3m-389 4h3m3 2h3m41-2h3m14 2h3m38-1h3m3-1h3m-1 3h3m2 0h3m5 0h3m-3-4h3m2 1h3m2-1h3m-2 4h3m3-4h3m5 3h3m4-3h3m1 1h3m4 3h3m2 0h3m4-3h3m-3 0h3m7 3h3m-3-1h3m-1 1h3m0-2h3m-2-2h3m-3 0h3m-2 3h3m-2-2h3m-3 2h3m3-1h3m-3 1h3m-2 0h3m-1 0h3m-3-2h3m0 3h3m-3-3h3m-2 0h3m-2 3h3m-2-2h3m-1 1h3m-3 0h3m0 1h3m-3-2h3m5-2h3m-1 2h3m-1-1h3m-3-1h3m-1 0h3m-2 4h3m-2 0h3m-2-1h3m1-2h3m-1 2h3m6-1h3m-3 0h3m-3 2h3m-2-2h3m-2-1h3m-2 1h3m-1 2h3m0-3h3m-2-1h3m-3 4h3m-2-3h3m0-1h3m-2 1h3m-2 3h3m-3-3h3m-2-1h3m0 4h3m-2-2h3m-3-1h3m-1-1h3m-2 0h3m-2 0h3m-3 4h3m0-2h3m-3 1h3m-1-3h3m-2 3h3m-2 0h3m0-1h3m-1-2h3m1 1h3m2-1h3m-2 3h3m-1-2h3m-2-1h3m0 0h3m-3 3h3m-1 0h3m0 0h3m-2-1h3m10 2h3m-2 0h3m0-3h3m-2 3h3m-1 0h3m0 0h3m-1-1h3m-3-1h3m4-2h3m30 0h3m0 4h3m-1-4h3m0 0h3m-357 7h3m19-1h3m44-1h3m6 1h3m1 3h3m7-2h3m3-1h3m4-1h3m16 2h3m3-1h3m1-1h3m6 0h3m6 4h3m1-3h3m-1 0h3m0 0h3m-3 3h3m1 0h3m0-4h3m-1 0h3m-2 3h3m-2 1h3m-1 0h3m7-3h3m0 0h3m-2 3h3m-3-2h3m2 0h3m-2-2h3m-3 1h3m1 1h3m-2-1h3m-1 2h3m-2-2h3m-2 0h3m-2 3h3m0-3h3m0-1h3m0 1h3m-2-1h3m-3 2h3m0 2h3m-3-1h3m0-1h3m-3-1h3m3 3h3m-2-3h3m-3 0h3m-3 2h3m-1 0h3m-3 1h3m-3 0h3m-2-4h3m2 0h3m-2 1h3m0 3h3m-1-4h3m-2 1h3m-3 2h3m-2-3h3m-3 0h3m8 0h3m-3 1h3m-3 1h3m1 1h3m-1 1h3m-3-2h3m-2 2h3m2-4h3m-3 4h3m2-2h3m-1 2h3m-3-4h3m2 1h3m0 2h3m-3 0h3m-1 0h3m0 1h3m0-1h3m-2-3h3m2 0h3m3 2h3m-2 0h3m3 0h3m2-2h3m-1 3h3m-1 0h3m-1-2h3m7-1h3m4 3h3m19 0h3m5-2h3m-385 4h3m96 0h3m26 3h3m12 0h3m-3-1h3m1 2h3m6-3h3m1 0h3m5 0h3m4 3h3m9-2h3m5 1h3m2 1h3m1-4h3m0 3h3m-2 0h3m-3-2h3m-3 1h3m-3 0h3m-1 0h3m-3-1h3m-1-1h3m-2 2h3m2 0h3m-2-2h3m4 2h3m-2-2h3m-2 0h3m-1 2h3m-2 1h3m2-1h3m2-2h3m3 3h3m3-2h3m0 2h3m-1 0h3m-3-3h3m-1 4h3m3 0h3m-1 0h3m2-1h3m-2-2h3m-1 1h3m-2 2h3m-1-4h3m0 1h3m-2 1h3m-1 1h3m2-1h3m-2-2h3m-1 4h3m6-4h3m4 2h3m0-2h3m-1 1h3m-3 2h3m-2-1h3m1-2h3m6 2h3m1-1h3m3-1h3m1 0h3m11 3h3m0-3h3m4 2h3m7-1h3m2 0h3m-391 8h3m51 0h3m20-2h3m32 1h3m2 1h3m9-2h3m3-2h3m-3 2h3m17 0h3m0 1h3m-2 0h3m-3-3h3m0 2h3m5 0h3m-2 0h3m6 1h3m-2-2h3m-2 3h3m4-3h3m2 3h3m4-2h3m-1-2h3m-3 0h3m-3 4h3m-2-4h3m-2 3h3m0-1h3m3 0h3m1 1h3m-2-3h3m-2 0h3m-2 2h3m6 1h3m6-1h3m-2-1h3m3 2h3m-2-1h3m4-2h3m0 3h3m-2-2h3m-1 2h3m0-3h3m-2 0h3m0 2h3m-2 0h3m1 2h3m-3-2h3m-3-1h3m3 0h3m8 0h3m-2 2h3m0-2h3m3 0h3m-2-1h3m-2 4h3m-1-1h3m-3 0h3m-3 0h3m0-1h3m5-2h3m-1 1h3m-3 0h3m0-1h3m-2 1h3m-1 2h3m-3-1h3m5 1h3m3-3h3m2 0h3m6 3h3m0 1h3m-368 5h3m33 0h3m-3 0h3m2 0h3m0 0h3m0 0h3m5 0h3m8 0h3m-2 0h3m17 0h3m1 0h3m6 0h3m-1-1h3m4 1h3m-3-4h3m-2 4h3m-1 0h3m0 0h3m-1 0h3m5 0h3m-2 0h3m4 0h3m-1-4h3m3 4h3m3 0h3m0 0h3m-2 0h3m-2 0h3m0 0h3m-3-3h3m-1 0h3m-1 3h3m1 0h3m-2 0h3m-3 0h3m-3 0h3m-2 0h3m-1 0h3m-2 0h3m-3 0h3m-2 0h3m-3-2h3m-3 2h3m1 0h3m-3-4h3m-1 4h3m-1 0h3m-3 0h3m-2 0h3m-2 0h3m-2 0h3m0 0h3m-3 0h3m-2 0h3m-2 0h3m-3-4h3m-3 4h3m-2 0h3m-3-3h3m-1 3h3m-3 0h3m-3 0h3m-3 0h3m-2 0h3m-3-4h3m-1 4h3m-2 0h3m-3 0h3m1-2h3m-2 2h3m-2 0h3m-2 0h3m-1 0h3m-1-3h3m-3 3h3m-3 0h3m-3 0h3m-1 0h3m-1 0h3m-2-2h3m-1 2h3m-2 0h3m-1 0h3m-3 0h3m-3 0h3m-2 0h3m-2-4h3m-3 4h3m-2-3h3m-2 3h3m-3 0h3m-3 0h3m-2 0h3m-2 0h3m-2 0h3m-2 0h3m-1 0h3m-3 0h3m-2 0h3m-3 0h3m-2 0h3m-2 0h3m-2 0h3m-3 0h3m-2-3h3m-3 3h3m-2 0h3m-2-3h3m-2 3h3m2 0h3m-3 0h3m1 0h3m-2 0h3m-2 0h3m-1-1h3m-1 1h3m-3 0h3m-1 0h3m-3 0h3m-2 0h3m-3-3h3m-2 3h3m-1-2h3m-2 2h3m-3 0h3m-2 0h3m-2 0h3m0 0h3m-3-2h3m-3 2h3m-2 0h3m-3 0h3m-2 0h3m-3 0h3m0 0h3m-2-1h3m-1 1h3m-1 0h3m-2 0h3m-3 0h3m1-3h3m-2 0h3m-3 3h3m-2 0h3m-3-1h3m-3 1h3m-1 0h3m-1 0h3m0 0h3m-3 0h3m-3 0h3m-2 0h3m-3 0h3m-2 0h3m-2 0h3m-1 0h3m-3 0h3m0 0h3m-2-2h3m-3 2h3m-2 0h3m-2 0h3m-2 0h3m-2 0h3m-1 0h3m-3 0h3m-2-1h3m-2 1h3m-2 0h3m0 0h3m0 0h3m-1 0h3m-2 0h3m-3 0h3m-2-4h3m-2 1h3m-3 3h3m-1 0h3m-1-2h3m-3 2h3m-3 0h3m-2 0h3m-2 0h3m-2-2h3m-3 2h3m5-2h3m-2 2h3m-2-4h3m3 1h3m-2 3h3m-2 0h3m-2 0h3m4-2h3m4-2h3m-3 4h3m-2-3h3m2 3h3m-2-3h3m-1 3h3m-1 0h3m-1-2h3m17-2h3m12 4h3" stroke="#000" stroke-opacity=".8" stroke-width="3.2" fill="none"/>
</g>
<rect x="296.2" y="204.5" width="84.40000000000003" height="80.60000000000002" fill="none" stroke="#6a6a6a" stroke-width=".8"/>
<path d="M295.5 204.5V285.1" stroke="#555" stroke-width="1.3" stroke-dasharray=".9 1.1" fill="none"/>
<path d="M296.2 285.8H380.6" stroke="#555" stroke-width="1.3" stroke-dasharray=".9 1.1" fill="none"/>
<line x1="321.5" y1="204.5" x2="321.5" y2="285.1" stroke="#444" stroke-width="0.9"/>
<line x1="296.2" y1="255.7" x2="380.6" y2="255.7" stroke="#444" stroke-width="0.9"/>
<g transform="translate(292.5 285.8) rotate(-90)" fill="#4a4a4a"><text x="-2.5" y="0" font-size="4" stroke="none">10</text><text x="2" y="-1.9" font-size="2.9" stroke="none">0</text></g>
<g transform="translate(296.7 291.40000000000003)" fill="#4a4a4a"><text x="-2.5" y="0" font-size="4" stroke="none">10</text><text x="2" y="-1.9" font-size="2.9" stroke="none">0</text></g>
<g transform="translate(292.5 265.65000000000003) rotate(-90)" fill="#4a4a4a"><text x="-2.5" y="0" font-size="4" stroke="none">10</text><text x="2" y="-1.9" font-size="2.9" stroke="none">1</text></g>
<g transform="translate(317.425 291.40000000000003)" fill="#4a4a4a"><text x="-2.5" y="0" font-size="4" stroke="none">10</text><text x="2" y="-1.9" font-size="2.9" stroke="none">1</text></g>
<g transform="translate(292.5 245.5) rotate(-90)" fill="#4a4a4a"><text x="-2.5" y="0" font-size="4" stroke="none">10</text><text x="2" y="-1.9" font-size="2.9" stroke="none">2</text></g>
<g transform="translate(338.15 291.40000000000003)" fill="#4a4a4a"><text x="-2.5" y="0" font-size="4" stroke="none">10</text><text x="2" y="-1.9" font-size="2.9" stroke="none">2</text></g>
<g transform="translate(292.5 225.35) rotate(-90)" fill="#4a4a4a"><text x="-2.5" y="0" font-size="4" stroke="none">10</text><text x="2" y="-1.9" font-size="2.9" stroke="none">3</text></g>
<g transform="translate(358.875 291.40000000000003)" fill="#4a4a4a"><text x="-2.5" y="0" font-size="4" stroke="none">10</text><text x="2" y="-1.9" font-size="2.9" stroke="none">3</text></g>
<g transform="translate(292.5 205.2) rotate(-90)" fill="#4a4a4a"><text x="-2.5" y="0" font-size="4" stroke="none">10</text><text x="2" y="-1.9" font-size="2.9" stroke="none">4</text></g>
<g transform="translate(379.6 291.40000000000003)" fill="#4a4a4a"><text x="-2.5" y="0" font-size="4" stroke="none">10</text><text x="2" y="-1.9" font-size="2.9" stroke="none">4</text></g>
<rect x="353.5" y="205.0" width="26.600000000000023" height="11.5" fill="#fff"/>
<text x="354.5" y="215.5" font-size="15.6" text-anchor="start" font-weight="normal">13%</text>
<clipPath id="cp2"><rect x="394.2" y="205.0" width="82.80000000000001" height="79.60000000000002"/></clipPath>
<g clip-path="url(#cp2)">
<ellipse cx="447.5" cy="273.5" rx="24" ry="14.5" fill="url(#g3)"/>
<ellipse cx="445.5" cy="226" rx="16" ry="11" fill="url(#g4)"/>
<ellipse cx="446" cy="248" rx="12" ry="16" fill="url(#g5)"/>
<path transform="translate(393.7 204.5) scale(0.2)" d="M182 12h3m60-3h3m85 0h3m-21 7h3m-31 6h3m33-2h3m18 2h3m9-4h3m-54 7h3m-267 3h3m38 0h3m71 4h3m45-3h3m14-1h3m21 2h3m-165 5h3m93 2h3m13 0h3m14 0h3m5 0h3m5-1h3m6-1h3m-1 1h3m-2 1h3m61-3h3m-204 5h3m104 1h3m24-1h3m31 0h3m4 3h3m15-3h3m-1 3h3m-173 3h3m48 1h3m7-2h3m-3 0h3m14 1h3m9 1h3m12-3h3m27 4h3m-72 4h3m38-2h3m5 2h3m2-3h3m17 2h3m15 1h3m47 0h3m18-1h3m-292 5h3m9-1h3m124 3h3m11-1h3m-2 0h3m0 1h3m0-3h3m1 0h3m1-1h3m11 2h3m-1 2h3m-3-4h3m-1 2h3m10-2h3m-2 4h3m0-2h3m-1-2h3m1 4h3m-1-4h3m1 3h3m4 1h3m2-4h3m-1 2h3m4 1h3m1-3h3m12 0h3m-1 1h3m-269 6h3m128 1h3m27 0h3m10 0h3m0 1h3m-1-1h3m-2-3h3m-1 0h3m0 4h3m4-4h3m-2 4h3m1-2h3m11-1h3m-1-1h3m9 3h3m12-1h3m-3 0h3m-2-2h3m37 4h3m-273 2h3m64 2h3m5-2h3m41 1h3m4 1h3m-3-3h3m2 2h3m3 0h3m0 2h3m3-4h3m7 3h3m9-1h3m-1 2h3m-1-3h3m-1 1h3m19-2h3m-1 3h3m21 1h3m4 0h3m0-1h3m2-1h3m19-2h3m-289 7h3m88 2h3m37 0h3m3-1h3m-1-1h3m0 1h3m-1-1h3m12-2h3m5 0h3m-1 4h3m3-4h3m-1 3h3m8-2h3m0 0h3m-2-1h3m2 3h3m7-3h3m-1 2h3m2 0h3m-1 2h3m3 0h3m3-3h3m-2 2h3m1-3h3m9 4h3m3-1h3m3-3h3m-2 4h3m-166 1h3m43 3h3m7-2h3m-2 1h3m1-2h3m1 4h3m0-4h3m1 2h3m-1 0h3m5-2h3m-2 1h3m0 1h3m-1-1h3m10 3h3m0-4h3m2 4h3m-1 0h3m6-3h3m1 1h3m-3-2h3m-2 0h3m-3 1h3m8 1h3m12-1h3m1 3h3m-3-3h3m0-1h3m-3 4h3m5-2h3m3-2h3m-1 1h3m-1-1h3m-1 3h3m-2-1h3m-1-1h3m35 1h3m3 2h3m-251 3h3m74 2h3m4-4h3m-2 1h3m0 0h3m6 2h3m6-1h3m6 1h3m-2 0h3m3 1h3m4-4h3m-2 2h3m5 2h3m-3-3h3m-1-1h3m4 1h3m5 2h3m1-3h3m-2 0h3m-3 3h3m-1-1h3m-2-1h3m-1 1h3m-3-2h3m-1 2h3m-2 0h3m-3 2h3m3 0h3m7 0h3m5-4h3m7 1h3m1 3h3m12 0h3m4 0h3m20-1h3m-336 3h3m58 2h3m40 0h3m19-1h3m2-1h3m15 3h3m2-2h3m11 2h3m4-3h3m-2-1h3m0 2h3m0-1h3m8 0h3m-2-1h3m0 2h3m0 2h3m4-3h3m0 0h3m10 2h3m-1-2h3m-1 2h3m1 1h3m8 0h3m2-2h3m2 2h3m0-2h3m0 1h3m-2-1h3m-2 0h3m5 2h3m2-2h3m-2 1h3m-2-3h3m-1 4h3m11-4h3m18 0h3m-1 1h3m30 2h3m3-2h3m-3 1h3m-367 3h3m42 1h3m46 3h3m8 0h3m35-4h3m3 2h3m6 1h3m0-1h3m1 0h3m-2-1h3m0 3h3m9-4h3m1 3h3m0-2h3m-2 0h3m-1 0h3m-2 1h3m-1-2h3m0 3h3m0 1h3m-2-2h3m-1 1h3m1 1h3m-1-1h3m0-2h3m-2 2h3m-1 0h3m2 1h3m-3 0h3m-1-1h3m-2 1h3m-2-1h3m-1 1h3m-1-1h3m-2-1h3m-3 2h3m0-4h3m-1 1h3m0 2h3m-1-2h3m-3 1h3m-2-2h3m-3 4h3m-3-1h3m-2-1h3m1 1h3m-1-2h3m1 1h3m-3 0h3m-1 0h3m-1-1h3m-2 3h3m0 0h3m3-4h3m-1 4h3m1-2h3m3 1h3m1-1h3m-2-2h3m-2 0h3m3 1h3m3-1h3m-2 3h3m2 0h3m3 1h3m21-3h3m11-1h3m-214 8h3m6 1h3m5-1h3m20-1h3m11-2h3m4 2h3m0 2h3m-3-1h3m2-3h3m-3 4h3m-2-1h3m1-1h3m8 1h3m0-2h3m-1-1h3m-2 4h3m1-2h3m0 2h3m4-4h3m0 3h3m4-2h3m6 3h3m-3-2h3m-2 1h3m-2 0h3m-1 0h3m2-2h3m-2 0h3m-1 2h3m6-1h3m11-1h3m-2 3h3m-1-1h3m7-2h3m-1 1h3m14 0h3m-3 1h3m9 0h3m-253 4h3m35 1h3m25-3h3m3 4h3m3-4h3m14 0h3m0 3h3m3-3h3m0 4h3m-3-2h3m-2 2h3m3-2h3m-1-2h3m-3 0h3m-2 0h3m1 0h3m-3 0h3m-2 1h3m-1-1h3m-1 1h3m-2 3h3m-3 0h3m-3 0h3m-1 0h3m-3-4h3m-1 0h3m-1 2h3m-2 0h3m-2-1h3m2 2h3m1-1h3m-2 0h3m4 0h3m-3 0h3m6 1h3m0 1h3m1-4h3m-2 2h3m-1 1h3m-3-1h3m-2 1h3m-2-1h3m0-2h3m-2 1h3m-2 0h3m-3 0h3m-2 3h3m-1-1h3m-2-2h3m-3-1h3m-2 2h3m6 0h3m3 2h3m-3-2h3m-1-1h3m8-1h3m-1 4h3m-286 5h3m16-3h3m1-1h3m89 3h3m10-3h3m6 2h3m-1-1h3m14 0h3m-1 3h3m5-3h3m-3 3h3m0-2h3m6 1h3m4 0h3m-3 1h3m5-4h3m-2 4h3m3 0h3m-1-4h3m-2 3h3m-1 0h3m0 0h3m-1 1h3m5-2h3m2 1h3m-2-3h3m-2 4h3m-2-4h3m1 0h3m4 1h3m0 0h3m1 1h3m-3 0h3m10-2h3m0 4h3m-1-2h3m6-2h3m-3 0h3m5 1h3m-1 0h3m2 3h3m3-4h3m0 4h3m-2 0h3m-1-1h3m33-3h3m8 2h3m-243 7h3m-1-1h3m18 1h3m17-4h3m13 2h3m2-1h3m7 2h3m-1-2h3m2 3h3m5-1h3m-2-3h3m-2 0h3m-2 3h3m4-3h3m-2 1h3m-2-1h3m-3 0h3m-3 4h3m-2-1h3m-1-3h3m-2 3h3m0-1h3m-2 0h3m-2 2h3m-1 0h3m0-4h3m2 1h3m-3 3h3m3-3h3m-1 2h3m-1-1h3m-3 2h3m0-4h3m5 3h3m3-3h3m2 3h3m-2-3h3m1 1h3m4-1h3m2 0h3m3 2h3m-1 1h3m1 1h3m-3-2h3m2-1h3m-3-1h3m22 4h3m15-1h3m-368 6h3m10-3h3m94 1h3m36-2h3m8 0h3m4 4h3m6 0h3m-3-4h3m-1 3h3m4-2h3m1 1h3m2-2h3m-2 1h3m-3 0h3m3 1h3m-2 2h3m-2-2h3m1-2h3m7 1h3m-1 3h3m-1-4h3m7 0h3m-3 3h3m-2-3h3m1 3h3m-2 0h3m-2-1h3m-3 1h3m-2-3h3m-3 1h3m-3 2h3m-2 0h3m-1-1h3m-1-2h3m-2 1h3m2 2h3m0 0h3m-1-3h3m-2 4h3m-2-3h3m-2-1h3m-2 3h3m-3-3h3m-1 0h3m2 2h3m-2-1h3m-3 2h3m-2 1h3m-1 0h3m1-1h3m-1-2h3m-2-1h3m-1 2h3m-2 1h3m-3 0h3m1-2h3m-2 1h3m-2 1h3m-1 1h3m1-2h3m2 2h3m-2-4h3m-1 0h3m-2 4h3m2-1h3m2-3h3m3 1h3m0-1h3m1 1h3m10-1h3m-281 8h3m27 0h3m15 0h3m12-2h3m36-1h3m3 4h3m8-3h3m-2 3h3m8-2h3m-1 0h3m-1-1h3m14 2h3m4 1h3m-3-4h3m-2 3h3m2-2h3m4-1h3m1 4h3m-2-1h3m-1-2h3m-1 1h3m0 0h3m0 2h3m-2 0h3m3-3h3m2 1h3m0 0h3m-2 2h3m0-2h3m-2-2h3m6 3h3m-3-1h3m-1 0h3m18-1h3m3-1h3m5 2h3m-2-1h3m8 2h3m9-3h3m12 4h3m16-2h3m-346 5h3m111 0h3m16 2h3m-2-3h3m-2 0h3m8 2h3m24 0h3m1-2h3m-1 1h3m-3-2h3m5 0h3m-1 4h3m-3-2h3m5-2h3m-1 0h3m-2 0h3m-1 0h3m2 1h3m-1 1h3m-3 0h3m-2-2h3m3 0h3m5 2h3m1 2h3m-3-2h3m5-1h3m6-1h3m2 4h3m1-1h3m19-2h3m5 0h3m8 2h3m-1 0h3m38 0h3m-319 4h3m54-1h3m6 1h3m17 1h3m36-1h3m11 1h3m-2-1h3m-1 2h3m15-4h3m7 0h3m-3 0h3m3 0h3m0 4h3m4-1h3m-3-1h3m-2 2h3m0-2h3m-3 1h3m-2-3h3m-1 0h3m1 1h3m2 0h3m0 0h3m0-1h3m-3 0h3m0 3h3m9 0h3m1 1h3m5-3h3m-3 2h3m7 1h3m-2-2h3m-3-1h3m-1 3h3m2 0h3m0 0h3m0-3h3m1 1h3m6-1h3m10 2h3m-3-3h3m22 3h3m-285 3h3m-2-1h3m0 2h3m43 1h3m13 1h3m5-3h3m12 3h3m14-1h3m-2-3h3m-3 3h3m-2 1h3m1-2h3m4-1h3m-1 2h3m5-3h3m-2 1h3m1-1h3m0 3h3m3-1h3m10 1h3m5 0h3m-3 1h3m0 0h3m-2-1h3m-3-1h3m1-2h3m1 0h3m-3 1h3m-2-1h3m-1 3h3m-3 0h3m-3 1h3m-2 0h3m1 0h3m-3-2h3m-1 0h3m5 1h3m-2-2h3m1 2h3m-3-3h3m1 0h3m-1 0h3m-1 4h3m5 0h3m13-4h3m-1 4h3m18-1h3m-1 0h3m26 1h3m-329 3h3m51-2h3m40 4h3m-2-2h3m34-2h3m8 0h3m0 3h3m16 1h3m4-2h3m-2-2h3m-2 4h3m-3-4h3m0 4h3m1 0h3m0-2h3m1 1h3m-2 0h3m-2-3h3m1 1h3m-2 2h3m-2-3h3m-1 3h3m-2 0h3m-2 0h3m-2-3h3m1 3h3m1-2h3m-2-1h3m-2 1h3m-2 0h3m0-1h3m-1 0h3m-1 2h3m8 2h3m-1-1h3m-2-1h3m0-2h3m-1 2h3m2 2h3m0-4h3m-3 1h3m-2 3h3m4 0h3m-3-4h3m55 1h3m-188 6h3m7 1h3m8-1h3m24 2h3m5-4h3m4 3h3m-2 0h3m2-3h3m-3 1h3m9 0h3m3 2h3m-1-2h3m-2 2h3m-1-3h3m1 0h3m-2 1h3m0 3h3m-2-4h3m5 1h3m4 1h3m12 1h3m-1 0h3m-2-1h3m-1 1h3m24-1h3m-275 3h3m0 4h3m10-2h3m23-2h3m33 4h3m8 0h3m-1-1h3m9 0h3m10 1h3m22 0h3m-2-4h3m-1 4h3m-1-2h3m4 1h3m8-1h3m7-2h3m-3 4h3m11-3h3m3 2h3m0-3h3m0 2h3m2 2h3m13 0h3m3-3h3m1 0h3m2-1h3m2 0h3m9 3h3m8-1h3m2 1h3m13 1h3m8-4h3m-287 8h3m23 1h3m36-1h3m19-3h3m17 0h3m5 4h3m-2-4h3m18 4h3m-3 0h3m2-4h3m4 3h3m5 0h3m-2-1h3m-3-1h3m-2 0h3m12 3h3m-2 0h3m2-1h3m2 1h3m-1 0h3m-2-3h3m-3 0h3m-2 2h3m12 1h3m-2 0h3m-1-1h3m-1-3h3m1 4h3m-2 0h3m4-1h3m-1-3h3m1 0h3m-1 0h3m-2 2h3m5-1h3m-1 1h3m1 0h3m1 0h3m-2-2h3m-302 5h3m36 4h3m27-1h3m53-3h3m17 2h3m14 1h3m3-3h3m2 2h3m-1-2h3m11 4h3m0 0h3m-3-3h3m-1 3h3m6-3h3m2 3h3m4-1h3m0-1h3m2 1h3m-2 1h3m19 0h3m12-4h3m44 2h3m12 1h3m15-2h3m2 3h3m-251 1h3m36 3h3m3 0h3m38 1h3m12-3h3m6 2h3m-1 0h3m3-1h3m3-2h3m-2 1h3m1 3h3m-2 0h3m-2-3h3m-2-1h3m0 2h3m-2 1h3m10 1h3m-1-3h3m-3 1h3m1 0h3m-3 1h3m2-2h3m55-1h3m3 4h3m14-4h3m7 2h3m-324 5h3m54-1h3m-3-1h3m40 1h3m15 1h3m10-2h3m22 4h3m1 0h3m1-4h3m-1 4h3m-2 0h3m-1-1h3m7 0h3m2-3h3m4 0h3m8 0h3m7 1h3m-2 1h3m7-2h3m1 0h3m9 0h3m0 2h3m10 1h3m-3-3h3m-3 4h3m1-4h3m22 1h3m7 0h3m-310 5h3m12 1h3m3 0h3m13-1h3m129 2h3m5 1h3m-3-2h3m12-2h3m-2 1h3m-3 3h3m4-2h3m-1-2h3m1 3h3m4 0h3m-1-1h3m31 0h3m7 0h3m-2 0h3m-1 2h3m31-2h3m-2-1h3m0 3h3m15-4h3m17 4h3m2 0h3m-339 3h3m5-2h3m6 0h3m22 0h3m12 1h3m2 0h3m13 0h3m25 2h3m-3-2h3m43 0h3m3 3h3m3-2h3m-1 1h3m9 1h3m0-3h3m1 2h3m-2 1h3m1-3h3m7 3h3m-3-3h3m3 2h3m-3 0h3m3-2h3m-1 2h3m4 1h3m-2-3h3m0 0h3m-1 1h3m1 1h3m9 0h3m-2-3h3m7 3h3m3-1h3m-2 1h3m21 0h3m10-2h3m13-1h3m-314 8h3m93-1h3m13 2h3m2 0h3m-3-2h3m2-2h3m-1 2h3m22 2h3m3-2h3m-2 1h3m8 1h3m4-2h3m-1 2h3m-1-4h3m1 1h3m1 0h3m0 2h3m4 0h3m0 0h3m7-1h3m13 2h3m-1-1h3m-2-2h3m-1 0h3m2 3h3m-1-3h3m4 1h3m0 0h3m-1 2h3m8-3h3m18 0h3m22 2h3m-245 5h3m1-1h3m21 0h3m18 1h3m-1 0h3m21-1h3m7 1h3m8 1h3m2-3h3m-2 0h3m7 3h3m3-2h3m9 1h3m4-3h3m2 4h3m-2-4h3m-3 0h3m3 2h3m0-2h3m-3 4h3m0-3h3m-1 2h3m-3 0h3m-1 1h3m1-2h3m-3 0h3m-2 1h3m5 1h3m-2-1h3m1-2h3m19-1h3m47 3h3m38-3h3m-319 8h3m66-3h3m20 0h3m20 2h3m14-2h3m-1 2h3m4-1h3m2-1h3m18 0h3m3 3h3m3-2h3m5 2h3m5 1h3m-1-2h3m0-2h3m3 0h3m1 0h3m0 4h3m7-4h3m-2 0h3m0 3h3m76-1h3m1 0h3m-315 5h3m60 1h3m18-1h3m1 0h3m8-2h3m-3 3h3m4 0h3m17 0h3m1-3h3m-3 0h3m3 0h3m-1 4h3m0-2h3m-2 1h3m3-3h3m-2 1h3m0 1h3m0 0h3m-2 2h3m3-1h3m-1 1h3m7-1h3m0 1h3m-3-3h3m-2 1h3m14-1h3m-1 0h3m-2 1h3m-1-2h3m-2 0h3m2 4h3m12-3h3m0 2h3m1-2h3m2 1h3m17-2h3m-290 6h3m5 0h3m4 1h3m10 0h3m87 1h3m-3 1h3m8 0h3m-3 0h3m20-4h3m6 2h3m12-1h3m-3-1h3m2 3h3m-1-1h3m-3 2h3m8 0h3m0-2h3m5 2h3m8-3h3m0-1h3m-3 1h3m2-1h3m6 4h3m8-4h3m-2 4h3m1-3h3m3 0h3m-3 3h3m11-2h3m17 0h3m9-1h3m22 2h3m-227 6h3m12-2h3m0-2h3m19 1h3m6-1h3m7 0h3m0 2h3m-2 2h3m6-4h3m6 2h3m-1 1h3m0 0h3m9 0h3m1 0h3m7-3h3m-3 1h3m4-1h3m5 2h3m-2 2h3m28-4h3m7 3h3m0 0h3m9 0h3m9 0h3m-209 5h3m7-2h3m2 1h3m37 2h3m13-2h3m2 2h3m10-4h3m-1 4h3m-2-2h3m-2 0h3m10-2h3m4 1h3m2 2h3m8 0h3m0 1h3m19-1h3m-1-3h3m-3 2h3m4-2h3m0 1h3m12 0h3m11 2h3m0 0h3m2-2h3m9-1h3m-286 6h3m87 3h3m8-1h3m-2-3h3m1 2h3m19-2h3m7 4h3m1-4h3m7 1h3m5 3h3m1-2h3m10 0h3m4 2h3m-3-2h3m3 1h3m1-3h3m0 3h3m-2-1h3m21-2h3m-2 4h3m-1 0h3m-3-4h3m1 3h3m3 1h3m12-4h3m-2 3h3m3-1h3m1 2h3m19-2h3m18-1h3m20 0h3m-333 4h3m37 1h3m27 2h3m28 1h3m-2-2h3m0 2h3m9-2h3m23-2h3m1 3h3m4-2h3m1 2h3m5-2h3m1-1h3m6 3h3m-2-3h3m2 3h3m0-2h3m3-1h3m-2 4h3m1-3h3m13-1h3m6 3h3m3-1h3m6-2h3m-3 3h3m2 1h3m11-2h3m-1 1h3m23-3h3m2 1h3m24 1h3m14 1h3m-371 2h3m25 0h3m113 2h3m-3 1h3m16-3h3m3 1h3m13 2h3m7-2h3m-3 2h3m1-1h3m-1-2h3m-3 0h3m6 4h3m2-2h3m11 2h3m1-2h3m-3 1h3m10-3h3m0 0h3m3 0h3m-2 3h3m0-2h3m8 2h3m2 1h3m7-1h3m14 0h3m3 0h3m2-1h3m7 0h3m21 0h3m12 0h3m-374 7h3m94-3h3m54 1h3m2 2h3m-3-4h3m-1 2h3m9 2h3m11-4h3m-3 2h3m0 2h3m-1-4h3m1 0h3m16 3h3m0-3h3m-1 2h3m3 0h3m-2 1h3m6-3h3m1 2h3m16 1h3m-1 1h3m17-4h3m-2 2h3m3 1h3m58-1h3m15-1h3m-387 8h3m61-2h3m0 1h3m8-3h3m36 2h3m28-1h3m36 2h3m10 0h3m-2-1h3m-3 0h3m2-2h3m-2 3h3m2-1h3m-1 1h3m11-2h3m-1 3h3m0-4h3m-1 3h3m-1 1h3m1-1h3m-1-2h3m7 2h3m8 1h3m3-3h3m11-1h3m3 2h3m-3 1h3m3-2h3m-2 2h3m5-3h3m2 2h3m17 1h3m15-3h3m37 0h3m-351 6h3m2 2h3m33-2h3m44 1h3m32 1h3m8 1h3m-1 0h3m0-1h3m-1 0h3m4 0h3m-3 1h3m0-3h3m-2-1h3m6 0h3m0 3h3m-1 0h3m10-2h3m2-1h3m-2 0h3m-3 2h3m2 1h3m0 1h3m0-3h3m6 0h3m5 1h3m-1 2h3m0-1h3m5 0h3m6 0h3m4-3h3m4 0h3m3 4h3m-1-2h3m0 2h3m2 0h3m-2-4h3m21 4h3m3-3h3m-2-1h3m13 4h3m-2-1h3m-1-2h3m-319 7h3m36-3h3m5 3h3m0-3h3m-1 0h3m22 0h3m2 2h3m14 2h3m5-1h3m10-1h3m1 2h3m-1 0h3m7-2h3m-2-1h3m6 1h3m3 1h3m0-2h3m4 1h3m2 1h3m11 1h3m-3-1h3m-2-3h3m-2 1h3m-2 2h3m-1 1h3m-3-2h3m1 0h3m3-1h3m-2 0h3m3 0h3m0 3h3m-2-4h3m0 4h3m-2 0h3m-3 0h3m2 0h3m-1-3h3m0 2h3m8-2h3m0 1h3m1 0h3m1 0h3m2 2h3m-2-1h3m1-1h3m-3-2h3m2 3h3m-2-3h3m4 3h3m4-3h3m5 4h3m9-3h3m3 0h3m14 3h3m-363 4h3m50-3h3m18 3h3m6-3h3m19 1h3m46 2h3m-2 0h3m-1-2h3m-3 0h3m2 2h3m42 1h3m-2-1h3m-1 1h3m3-3h3m0 0h3m-2 1h3m4 1h3m2-3h3m-3 3h3m0 0h3m4-3h3m12 4h3m-1-1h3m-2-1h3m3-2h3m0 1h3m-1 0h3m3-1h3m-2 3h3m-2-3h3m-3 1h3m-2-1h3m0 0h3m8 0h3m6 1h3m-3 2h3m-2 0h3m-3-1h3m-2 0h3m9 2h3m-2-4h3m8 0h3m1 4h3m11-4h3m0 3h3m-1-1h3m4 0h3m-365 4h3m107 3h3m22 0h3m23-2h3m1-2h3m10 0h3m0 3h3m1-3h3m4 0h3m-2 4h3m5-4h3m10 4h3m5-3h3m4 1h3m-3-1h3m-1 3h3m5-1h3m3 0h3m-2-1h3m0-2h3m-2 3h3m5-3h3m-3 0h3m-3 1h3m-1 3h3m-2-1h3m-2 0h3m-1 0h3m1-1h3m-2-1h3m-1 0h3m6 0h3m-1 1h3m1-2h3m10 3h3m-1-2h3m18 1h3m11 1h3m2-1h3m40 0h3m-2-2h3m-357 6h3m15-1h3m73 1h3m20 0h3m5 1h3m6-2h3m-3 0h3m1 4h3m-3-1h3m14 0h3m-2-1h3m-1 0h3m7 2h3m0-3h3m3-1h3m1 0h3m-2 2h3m6-1h3m-2 1h3m-2 0h3m-2 2h3m4-3h3m0 0h3m-1 0h3m-1 2h3m0 0h3m-1 1h3m8-2h3m-1 0h3m2 1h3m-3-2h3m0-1h3m-1 2h3m0-2h3m1 0h3m-3 2h3m2 1h3m-2-2h3m1 0h3m2 1h3m-2-2h3m-1 2h3m1 0h3m0 1h3m-1-1h3m-1 1h3m1 0h3m1 0h3m-3 1h3m19-3h3m-1 3h3m3-4h3m6 2h3m-3 2h3m1 0h3m15-3h3m-1 2h3m14-2h3m0 1h3m6-1h3m-360 8h3m7-3h3m31 0h3m80 0h3m7 1h3m4 2h3m-2-1h3m-1-3h3m6 1h3m-1 0h3m-2 1h3m3-2h3m1 4h3m1-1h3m-3 1h3m1-1h3m3 0h3m-1-2h3m-1-1h3m3 4h3m-2 0h3m0-3h3m-2 1h3m-2 0h3m7 1h3m-1 1h3m1-2h3m-1-2h3m0 4h3m-2-2h3m-1 2h3m-3-3h3m3 2h3m-1-3h3m-2 3h3m-1 1h3m-3 0h3m0-3h3m1 3h3m-2-2h3m0 0h3m-2 0h3m-3 0h3m-3 0h3m-3-1h3m8 3h3m0-2h3m-1 2h3m-2-2h3m-3-1h3m1 2h3m5-3h3m-2 4h3m-2-1h3m0-1h3m-1 1h3m2 0h3m10 0h3m0-1h3m1 2h3m-1-4h3m9 0h3m6 1h3m-2 0h3m-351 8h3m12 0h3m6-4h3m70 2h3m4-1h3m15-1h3m12 4h3m2-3h3m7 1h3m3-2h3m7 2h3m6-1h3m3 2h3m12 1h3m0-3h3m-2 3h3m2-1h3m-3-2h3m6 3h3m0-3h3m-1 0h3m-1 0h3m0 0h3m-2-1h3m1 2h3m0 0h3m-1 2h3m-2-2h3m0 0h3m-2 1h3m0 1h3m-3-4h3m-1 4h3m3-1h3m-2-2h3m-2 3h3m3-4h3m4 4h3m-2-1h3m-2-2h3m-3-1h3m3 3h3m-3-1h3m4 0h3m-2 2h3m0-3h3m1 1h3m-2 0h3m2 2h3m8-2h3m6 2h3m-1 0h3m-2 0h3m16-4h3m-333 5h3m61 0h3m19 1h3m-1 1h3m24 1h3m-3 1h3m-1-3h3m6 0h3m11 3h3m6-1h3m-2 1h3m-1-1h3m1-3h3m-1 4h3m-2 0h3m-1-3h3m-1 2h3m-2 0h3m2-1h3m1 0h3m-3 0h3m-1-2h3m2 1h3m0-1h3m0 0h3m0 0h3m2 3h3m-1 0h3m15 1h3m5-1h3m-3-1h3m-1 2h3m-1-4h3m0 0h3m-2 0h3m0 1h3m-1 0h3m-2 0h3m-2-1h3m-3 3h3m5 0h3m1-2h3m-1 1h3m-3-1h3m6-1h3m7 3h3m-3-1h3m1-2h3m0 3h3m-1 0h3m-3 0h3m0-2h3m8 1h3m14-2h3m5 3h3m0 0h3m-1-1h3m-3 0h3m7 1h3m10-3h3m-337 5h3m11 4h3m11 0h3m31-2h3m17 2h3m5 0h3m7-1h3m-3 1h3m0 0h3m1-3h3m-3-1h3m13 4h3m-2-2h3m1 1h3m-3 1h3m-2-1h3m-3-2h3m3 1h3m-3 1h3m-1 1h3m5 0h3m-3-4h3m5 1h3m-1-1h3m-2 1h3m5 0h3m-2 2h3m-1-2h3m-2 0h3m-3 3h3m-2-3h3m4 2h3m-3 1h3m-2-2h3m0 2h3m-3 0h3m1-2h3m-2 0h3m0-1h3m-3 1h3m-2 1h3m-1-2h3m-2-1h3m-1 1h3m-2 3h3m-3-2h3m1-1h3m-2 3h3m-3-4h3m-1 3h3m-2-3h3m-3 4h3m-3-3h3m-2-1h3m-2 3h3m-1-1h3m-2 2h3m-2-4h3m-3 0h3m-2 3h3m-2-2h3m0 2h3m-1 0h3m-2-1h3m0 2h3m1-4h3m-3 1h3m0 2h3m0-1h3m-1-1h3m1-1h3m1 1h3m-2 3h3m2-1h3m-1-3h3m1 3h3m0-2h3m1 3h3m-3-4h3m-2 1h3m8 1h3m-2 2h3m0 0h3m1 0h3m3-1h3m11-2h3m0 2h3m6-2h3m2 0h3m4 3h3m-2 0h3m17 0h3m-361 2h3m66 2h3m18 0h3m10 0h3m1-2h3m7-1h3m4 0h3m0 3h3m-3 1h3m1-3h3m13 2h3m8 0h3m-3-2h3m0 2h3m-3-2h3m-2 2h3m0-2h3m-3 3h3m-2-2h3m-1-1h3m-1-1h3m-2 4h3m-3-2h3m-2-1h3m0 3h3m-3-1h3m-3 0h3m3-2h3m-2 1h3m-3 2h3m7-2h3m7 2h3m-2-3h3m-1 0h3m-1-1h3m-2 3h3m-2-3h3m-1 1h3m0 3h3m-2-2h3m-3 2h3m0-1h3m-1 1h3m-2-4h3m2 0h3m-3 2h3m-1-1h3m-2 1h3m-3-1h3m2 3h3m-3-2h3m-3 1h3m-3 0h3m-2 0h3m0 1h3m-1-1h3m-2 1h3m-3-4h3m-1 3h3m-3-1h3m-2-1h3m0-1h3m-3 2h3m-2 1h3m-2-2h3m-2 0h3m0-1h3m-1 2h3m-1 2h3m-2-4h3m-3 0h3m-1 3h3m2-1h3m0 1h3m-2-2h3m-3 1h3m0 2h3m5-3h3m0 1h3m0 1h3m-1 0h3m0 1h3m2-2h3m5 2h3m0 0h3m8-3h3m4 2h3m5-3h3m14 2h3m4 1h3m-357 3h3m22 0h3m3 2h3m27-1h3m21 1h3m10-3h3m5 4h3m3-4h3m0 0h3m-2 1h3m6 2h3m-1-3h3m8 4h3m9-3h3m7 2h3m-2-2h3m-2 2h3m0-1h3m4 0h3m-2 1h3m-2 0h3m-1-3h3m-1 2h3m-3-1h3m-2 0h3m-1 0h3m2 2h3m0 0h3m-2-1h3m0-1h3m-2 2h3m2-3h3m-2 0h3m-2 1h3m-3-1h3m-1 4h3m0-1h3m-2 1h3m-1-3h3m-3 0h3m-2 2h3m-1-3h3m-2 3h3m1 1h3m-3-3h3m-3 3h3m2-4h3m-3 4h3m-1-3h3m-3 0h3m5-1h3m-3 4h3m-2-1h3m-3-1h3m-2 2h3m-1 0h3m-3 0h3m-1-2h3m-2-1h3m-2 3h3m0 0h3m-3-2h3m-2 2h3m-2 0h3m-2-4h3m0 1h3m2-1h3m-3 2h3m5-1h3m-2 3h3m-3-3h3m-1-1h3m-3 3h3m3-2h3m-3 0h3m-2 3h3m3 0h3m2-1h3m1-3h3m3 3h3m2 1h3m-1-4h3m3 0h3m-1 0h3m-2 4h3m-2-3h3m-1 0h3m3 1h3m0-2h3m-1 3h3m2-2h3m-2-1h3m-1 0h3m2 1h3m16 3h3m-374 3h3m2-1h3m15 2h3m11 1h3m2-2h3m9-2h3m59 4h3m3 0h3m12-1h3m-2 0h3m-2-1h3m-1 2h3m-2-4h3m3 1h3m1 3h3m5-4h3m-2 1h3m-3 3h3m2-1h3m0 0h3m-2 0h3m2 1h3m2-4h3m1 4h3m-2-2h3m-2 1h3m-3-3h3m0 4h3m-1 0h3m6 0h3m-3-4h3m4 4h3m-2 0h3m-3-2h3m0-1h3m0-1h3m-3 3h3m-3-1h3m-3 0h3m-2-1h3m-3 3h3m-2-2h3m-3 0h3m-3-2h3m-1 2h3m1-1h3m-2 3h3m2-4h3m-2 1h3m-3 2h3m-3-3h3m0 3h3m0-1h3m-1 1h3m-1-3h3m-1 0h3m-1 1h3m4-1h3m-3 2h3m-2 1h3m-1-2h3m-3 3h3m-3-1h3m-3-2h3m1-1h3m3 3h3m-3-3h3m2 0h3m-1 4h3m-2-2h3m-2 1h3m-2 1h3m1-3h3m-2 3h3m4-1h3m-2-3h3m-1 4h3m-2-1h3m2-3h3m-3 0h3m-2 2h3m-1 0h3m6-2h3m-2 4h3m-2-3h3m-3-1h3m-2 3h3m3-1h3m11 2h3m-1-1h3m2-2h3m1 1h3m1 0h3m26-1h3m-1-1h3m-393 6h3m-2 1h3m36-1h3m2 2h3m-2-3h3m2 4h3m-3-4h3m16 2h3m6 0h3m-1 0h3m11-2h3m27 0h3m-1 0h3m-1 0h3m5 3h3m2 0h3m-2-2h3m5 1h3m0 1h3m-2-1h3m-1 0h3m-3 1h3m2 0h3m-3 0h3m0 1h3m-2-2h3m-2-1h3m0-1h3m4 4h3m3-4h3m0 4h3m-2-4h3m7 0h3m0 2h3m-1 1h3m-3-1h3m-2 2h3m-2-1h3m-1-3h3m-2 1h3m-2-1h3m1 4h3m-1-1h3m-3-1h3m-2 2h3m0-1h3m2-1h3m-3 0h3m-3-2h3m-1 3h3m-3 0h3m-2-2h3m-2 0h3m-2 0h3m1-1h3m-2 1h3m-3-1h3m-2 1h3m-3 0h3m-2 3h3m-3-1h3m-2-1h3m-1-1h3m1 0h3m2 0h3m-3 0h3m-2 1h3m-3-2h3m0 0h3m-2 2h3m0 0h3m-3 2h3m-2-1h3m0-2h3m-3 2h3m-1-3h3m-3 2h3m-3 1h3m-2 0h3m-2-1h3m-3 2h3m-2-2h3m0 1h3m-2-2h3m-1 2h3m-2-2h3m-2 0h3m-3 0h3m0 0h3m-3 3h3m1-2h3m-1-2h3m-1 1h3m-1 0h3m2 0h3m-2 2h3m-3-3h3m2 2h3m-3-1h3m-1-1h3m-3 4h3m-2-1h3m-3 1h3m-3 0h3m-2-3h3m-2 2h3m-2-1h3m-3 0h3m-3-2h3m-1 3h3m2-2h3m-2-1h3m-2 3h3m-1-2h3m-2 1h3m-2 0h3m-2 1h3m0-3h3m-3 3h3m2-2h3m-2-1h3m6 3h3m-2-3h3m0 2h3m-2 0h3m-2-2h3m-3 3h3m0-1h3m9 1h3m7-2h3m-2 3h3m1-4h3m21 1h3m-382 7h3m10-1h3m-2-2h3m3 1h3m-2 3h3m-2 0h3m16-1h3m85-3h3m-2 3h3m-2-3h3m0 1h3m3 1h3m0-1h3m1 2h3m0-2h3m2 3h3m-2 0h3m-1-4h3m-1 4h3m0-2h3m-2 2h3m0-2h3m0 2h3m-2-2h3m-3 1h3m-3-2h3m-2 3h3m-2-3h3m-2 0h3m-2 3h3m0 0h3m-2-3h3m-2 3h3m-1-4h3m9 2h3m-2 2h3m-2-1h3m3-3h3m0 3h3m-2-3h3m-3 2h3m-2 1h3m-3-1h3m-2 1h3m-3-1h3m2 1h3m-2-3h3m-3 2h3m0-2h3m-2 4h3m-2 0h3m-2-4h3m-3 1h3m-3 1h3m-2 2h3m-3-1h3m1 1h3m1-1h3m-3 0h3m-2-1h3m-2 2h3m3-2h3m-2 1h3m-2-2h3m-1 2h3m-2 0h3m-3 0h3m-1-3h3m-3 3h3m0 1h3m-1-4h3m2 0h3m-1 2h3m-3 2h3m-1-3h3m-2 3h3m3 0h3m-3-2h3m-2-2h3m-2 0h3m1 1h3m-3-1h3m2 1h3m-3-1h3m-2 4h3m0 0h3m-2 0h3m2-2h3m-2 0h3m-2-1h3m0 2h3m0 0h3m-2 1h3m-3 0h3m-2-4h3m-3 4h3m-2-1h3m-2 0h3m3-1h3m-2-1h3m-1 3h3m2 0h3m3-3h3m-3-1h3m-2 2h3m0-2h3m3 1h3m-3 1h3m-2 1h3m2-1h3m-1 2h3m3-2h3m1 2h3m-2-3h3m2 2h3m-1 0h3m1-1h3m19-2h3m-373 7h3m13-2h3m4 2h3m38 0h3m0-1h3m11 0h3m18 0h3m2 0h3m1-1h3m-2 4h3m2-1h3m-2-3h3m0 2h3m7-2h3m-2 2h3m2-1h3m-1 3h3m2-4h3m0 1h3m2-1h3m-2 2h3m-2 0h3m0 0h3m0 1h3m-2 0h3m-3 0h3m2-2h3m-2 2h3m-2 0h3m-1 1h3m-2-3h3m-3 0h3m3-1h3m-1 0h3m-3 0h3m1 2h3m-3 1h3m-2-2h3m1 1h3m-2-1h3m0-1h3m-1 3h3m-2 1h3m-2-3h3m-1 3h3m-2-1h3m1 1h3m-3-4h3m0 0h3m-3 3h3m-2-2h3m-3 1h3m-2-1h3m-3 0h3m-1 1h3m-3 1h3m-1-2h3m-2 1h3m-3 2h3m-2-3h3m-3 1h3m-2 0h3m-2 0h3m-3-2h3m-2 0h3m-2 2h3m-1 0h3m-1 1h3m-3 0h3m-2 1h3m-1 0h3m-2-1h3m-3 1h3m-3-1h3m-2-3h3m-1 3h3m0-3h3m-2 0h3m-3 4h3m1-1h3m-3 1h3m-2-1h3m-1-1h3m-2-1h3m-2 0h3m-2-1h3m-2 3h3m0 0h3m-3-2h3m-2 2h3m-3-2h3m1 1h3m-2 0h3m-2 2h3m-2-4h3m-2 2h3m-2 1h3m-1 1h3m-1-4h3m-2 3h3m-2-2h3m-2 2h3m-1-3h3m-2 3h3m0 0h3m0-3h3m-2 1h3m6 1h3m-3-1h3m-3 0h3m-3 3h3m-1 0h3m-3-1h3m-2-2h3m0 2h3m-3-1h3m-1-1h3m-2 3h3m-2-3h3m-3 0h3m2 3h3m2-3h3m2-1h3m-3 3h3m6 1h3m2-4h3m-2 2h3m-2 2h3m19-2h3m6-2h3m1 2h3m-375 7h3m13-4h3m2 4h3m-1-4h3m1 1h3m-3 1h3m-2-2h3m1 1h3m0 3h3m-2 0h3m4-1h3m20-3h3m20 4h3m17-4h3m12 2h3m-1 2h3m-3-4h3m-2 1h3m1-1h3m8 3h3m5-3h3m-2 3h3m1-3h3m3 1h3m-2 0h3m-3 0h3m-3 2h3m0-2h3m-3 3h3m0-2h3m0 2h3m3-3h3m-2-1h3m-3 2h3m-2 2h3m4-2h3m-1 0h3m-2 1h3m-1-2h3m-3 0h3m-2 1h3m0-2h3m-2 3h3m1 1h3m0 0h3m-2-4h3m-3 4h3m-1-1h3m-2 0h3m0 0h3m-2-1h3m-2 2h3m-2-2h3m-1-1h3m-3 1h3m-3-2h3m-2 3h3m-3 1h3m-3-2h3m-2 2h3m0 0h3m-1-3h3m-1 0h3m-2 1h3m-3-1h3m-2 0h3m-2 0h3m-2 2h3m-2 0h3m-2-1h3m-2-2h3m-3 0h3m-2 1h3m-3 1h3m-2 0h3m1 0h3m-1 2h3m-2-3h3m-1 0h3m1-1h3m-1 4h3m-2-4h3m-3 2h3m-1 2h3m-3 0h3m-2-2h3m-3-1h3m-2-1h3m-3 2h3m-2-1h3m-2 2h3m-2-3h3m-2 1h3m-2 1h3m-1-2h3m-2 0h3m-3 3h3m-3-3h3m-3 4h3m-2 0h3m-2-2h3m1 1h3m-1-2h3m-2 2h3m1-2h3m-2 1h3m0-1h3m-3 3h3m-3-1h3m-2-2h3m-2-1h3m-3 4h3m-2-3h3m-2-1h3m-1 4h3m-2 0h3m-2-3h3m-2 0h3m0-1h3m-1 1h3m-2 1h3m-3 1h3m-2-3h3m1 3h3m-3-1h3m-2-2h3m-2 2h3m0 0h3m-1 2h3m0-3h3m0 0h3m3 0h3m3 3h3m2-1h3m-2-2h3m-3 3h3m-3-4h3m-1 4h3m-2 0h3m-2-3h3m1 2h3m7 1h3m-1 0h3m4-3h3m1-1h3m-367 5h3m3 4h3m16-4h3m-2 3h3m-1-1h3m-1-2h3m-2 4h3m-1-4h3m-3 3h3m0 1h3m1-1h3m0-3h3m0 4h3m0-4h3m22 3h3m2-3h3m3 0h3m5 1h3m2 2h3m-2-1h3m4-1h3m25 2h3m-1 0h3m3-3h3m-3 1h3m-2 0h3m-3-1h3m-2 0h3m2 1h3m4-1h3m-1 1h3m-2 1h3m1-1h3m-2 1h3m-1 0h3m-2-2h3m-2 3h3m-1-1h3m-2-1h3m-3-1h3m-2 0h3m-1 0h3m-1 3h3m-2 1h3m-1-4h3m-3 2h3m0 0h3m0-2h3m3 3h3m3-3h3m-3 1h3m-3 1h3m-2-2h3m-1 3h3m-3-2h3m-3 2h3m-1-2h3m-1 0h3m-2 0h3m-3 0h3m-3 1h3m-3 2h3m-2-3h3m-2 1h3m-3-2h3m-3 2h3m-1-1h3m-2 0h3m-2 0h3m-3 0h3m-2 3h3m-2-3h3m-2 0h3m-3 0h3m-2-1h3m-2 0h3m-2 1h3m-2 0h3m-3 0h3m-3 0h3m-1 3h3m-1-2h3m-3-1h3m-2 2h3m-3-2h3m-2-1h3m-3 0h3m-2 1h3m-3-1h3m0 1h3m-3-1h3m0 0h3m1 2h3m-3-2h3m-2 3h3m-3-1h3m-3 0h3m-2 0h3m-3 0h3m0-2h3m-3 3h3m2-2h3m-3 0h3m-2 1h3m-3 0h3m-1-2h3m-2 0h3m-3 0h3m-2 2h3m-2 1h3m-3 1h3m-2-4h3m-2 2h3m-2 2h3m-3-1h3m-1-3h3m-2 2h3m-3 0h3m-1-2h3m-1 3h3m-3-1h3m1-1h3m2 2h3m-1 1h3m-3-3h3m-2 2h3m-2 0h3m-3 0h3m-2-2h3m0 0h3m-2 1h3m0-2h3m-3 1h3m-2-1h3m-2 4h3m-3 0h3m-1-1h3m-2 1h3m0-1h3m-3-2h3m2 2h3m2-3h3m-2 2h3m-3-1h3m-2-1h3m-2 1h3m-2-1h3m-2 2h3m-2 2h3m-3-4h3m-1 4h3m-2 0h3m-3 0h3m-2-4h3m-2 1h3m-1 1h3m-2-2h3m1 4h3m-3 0h3m0-3h3m6-1h3m-3 4h3m2 0h3m7-1h3m3-3h3m3 2h3m0-2h3m1 4h3m4 0h3m2-3h3m4 2h3m-369 3h3m-2 2h3m-1-1h3m-2-2h3m0 2h3m-2 0h3m-2 2h3m2-4h3m-1 4h3m2-2h3m-2-1h3m2 2h3m-2-2h3m24-1h3m14 0h3m3 4h3m13 0h3m0-2h3m5-1h3m2 2h3m2 0h3m-2 0h3m-2-2h3m1 2h3m0 0h3m-1 1h3m4-1h3m0-2h3m-1 3h3m-3-1h3m-2-2h3m-3 1h3m-2-1h3m-2 2h3m4-2h3m-2-1h3m-1 3h3m-2 0h3m-2 0h3m-2-2h3m-3-1h3m1 3h3m-2-3h3m1 2h3m-1 2h3m-2-2h3m0 0h3m5-1h3m-3 2h3m-3 0h3m3 0h3m-2 1h3m-2-4h3m1 0h3m-3 2h3m-2 0h3m-3-2h3m2 0h3m-3 4h3m2-4h3m-2 1h3m-3-1h3m-2 4h3m-3-3h3m-1-1h3m0 3h3m-3-1h3m-2-2h3m-3 2h3m-3-2h3m-2 2h3m-2-1h3m-3 2h3m-2-2h3m-3 2h3m-2-3h3m-2 0h3m-3 2h3m-3 2h3m-1-2h3m-2-1h3m-3 2h3m-2-2h3m-1 3h3m-1 0h3m0-3h3m1 2h3m-2 1h3m0-1h3m-2-2h3m-1 2h3m-3 0h3m1 1h3m-2 0h3m-2-2h3m-3 0h3m-2-1h3m-2-1h3m-2 0h3m-1 1h3m-1 3h3m-3-1h3m1 1h3m-2-4h3m-1 0h3m-3 4h3m-2-3h3m-2 0h3m-1 2h3m0 0h3m-3-1h3m0 1h3m-3-2h3m-2 0h3m-2 1h3m-3 2h3m-2-1h3m-2-2h3m-2 3h3m-3 0h3m-2-3h3m-1-1h3m-3 1h3m-2-1h3m-2 3h3m-3-3h3m-2 1h3m-2 2h3m-3 0h3m-2 0h3m1 1h3m-3 0h3m-3-3h3m-3 1h3m-2-2h3m1 0h3m-3 2h3m0 0h3m-1-1h3m-3 3h3m3-3h3m-2-1h3m-3 3h3m-3-2h3m2 1h3m-3-1h3m0 3h3m0-3h3m-2 3h3m1-3h3m0 0h3m-2 0h3m-1 1h3m0 2h3m9-1h3m26 1h3m-2-4h3m0 4h3m-377 1h3m3 2h3m2-1h3m-1-1h3m1 0h3m-3 0h3m1 2h3m-2-1h3m9 0h3m0 0h3m7-1h3m9 2h3m7-2h3m2 2h3m10 1h3m7-3h3m9 2h3m-2-1h3m2 0h3m3 1h3m3 0h3m3 0h3m1 2h3m-2-2h3m-2 0h3m-3 2h3m2-4h3m-2 3h3m-3 1h3m5-4h3m-3 3h3m1-1h3m-2 2h3m-2-4h3m-3 0h3m-2 1h3m-1 3h3m-3 0h3m-1-1h3m0-3h3m0 2h3m-2-1h3m-2 1h3m-2 2h3m-1-4h3m-3 3h3m-3 1h3m-3-1h3m-2-1h3m-1-2h3m-2 3h3m-1 0h3m-3 0h3m-2-2h3m-2 1h3m0-2h3m-3 1h3m-2-1h3m-2 0h3m-3 1h3m-2 3h3m-3-2h3m-3-1h3m-2 0h3m-1 1h3m-3 1h3m-1 1h3m-2 0h3m-1-4h3m-3 2h3m-3-1h3m-2 2h3m-3-1h3m-3 2h3m-1-2h3m-3-2h3m-2 3h3m-1 1h3m-3 0h3m-2-1h3m-3-3h3m-1 1h3m-3 1h3m-2 2h3m1-3h3m3 1h3m-1-2h3m-3 1h3m0 0h3m-3 1h3m-2 0h3m-3-2h3m0 4h3m-2-3h3m-3 3h3m-2 0h3m-3-2h3m-1-2h3m-2 0h3m-3 3h3m-1-3h3m-2 2h3m-3-2h3m-2 0h3m-2 1h3m-3 3h3m0-2h3m-3-1h3m-3 3h3m1-1h3m-3 1h3m-2-4h3m-2 1h3m-2 0h3m-2 3h3m-3 0h3m-2 0h3m-2-3h3m-2 0h3m-2 2h3m-3 1h3m-3-4h3m-2 2h3m0 0h3m-1-1h3m0 2h3m-3-2h3m-1 2h3m-2-2h3m-3-1h3m-2 4h3m-1-1h3m-3-2h3m-1 3h3m-3 0h3m-2-1h3m-2-1h3m-2 0h3m-3-2h3m-1 0h3m-3 2h3m-3-1h3m-1 3h3m-2-1h3m-1 1h3m-2-4h3m0 3h3m-3 0h3m-3-2h3m-2 3h3m-2-4h3m-2 3h3m-3-3h3m1 2h3m-3-2h3m-2 1h3m1 2h3m-1-3h3m-3 2h3m-3 0h3m4-2h3m-2 1h3m-3 0h3m-2 2h3m-3-3h3m-2 2h3m2 2h3m2-3h3m-3 3h3m-1-3h3m-1 3h3m-2-4h3m1 3h3m0-3h3m-1 4h3m2-3h3m-2 3h3m-1-1h3m8 0h3m5-2h3m-1 1h3m0-2h3m3 1h3m-377 4h3m12 0h3m-1 0h3m-2 2h3m1 2h3m-1-1h3m-1 1h3m-1-3h3m3-1h3m3 1h3m5-1h3m4 3h3m-2-1h3m16 0h3m33 0h3m4 2h3m3-4h3m0 3h3m-2 1h3m-2-3h3m-2 0h3m0-1h3m2 4h3m2-3h3m-2 2h3m6-1h3m1-1h3m-3 2h3m0-3h3m-2 4h3m5 0h3m-1-4h3m-3 2h3m-2 0h3m-1 0h3m1-2h3m-1 3h3m-2-2h3m2 2h3m-1-3h3m-3 3h3m0-1h3m-2 0h3m-1 0h3m-3-1h3m-3 2h3m-1-2h3m-2 2h3m-2-1h3m-1 0h3m-2-2h3m-2 2h3m-3 2h3m-3 0h3m-2-4h3m-2 2h3m-2-1h3m-1 2h3m1-3h3m0 1h3m-2 0h3m-2-1h3m-3 1h3m-2 0h3m-2 3h3m-2-1h3m-2 1h3m-3-3h3m-3 2h3m-2 0h3m-1-1h3m-3-1h3m0 2h3m-2-2h3m-3-1h3m-2 1h3m-2-1h3m-3 4h3m-3-2h3m-2 0h3m-3 1h3m-1 1h3m-2-3h3m-3 1h3m-2 0h3m-3-2h3m-3 4h3m-2-2h3m-3-2h3m-2 2h3m-2-2h3m1 0h3m-2 4h3m-1 0h3m-2-3h3m-2 1h3m-3 2h3m-2 0h3m0 0h3m-2-1h3m-3 1h3m-2-2h3m-1-1h3m-3 0h3m-2 2h3m-3-1h3m-2 2h3m-2-1h3m-2-3h3m-2 0h3m-3 4h3m3-1h3m-3-1h3m-1 0h3m-1-1h3m-2 1h3m-2 2h3m-2-4h3m-3 4h3m-3 0h3m-2-3h3m-3-1h3m1 0h3m-1 4h3m-3-1h3m-2-2h3m-3 1h3m-2 2h3m-1-1h3m-1-2h3m-1 3h3m-2-3h3m-2 2h3m-2-1h3m-1 0h3m-2-2h3m-3 4h3m-1-1h3m-2-1h3m5 2h3m-2-4h3m-1 4h3m-1-2h3m-2-1h3m-2 2h3m-2 1h3m6-3h3m-3-1h3m0 0h3m-2 4h3m0-4h3m11 3h3m-3-2h3m14 3h3m5-1h3m-1-1h3m-2-1h3m-374 4h3m-1 0h3m-1 4h3m2-4h3m0 0h3m2 4h3m-2-4h3m2 0h3m-3 3h3m5 1h3m2 0h3m1 0h3m0 0h3m14-1h3m-3 0h3m3-1h3m-2-2h3m28 1h3m4-1h3m-1 0h3m11 0h3m4 0h3m3 3h3m0 0h3m0 0h3m1-1h3m-2 0h3m-1 0h3m1 0h3m1 2h3m-2-3h3m-3 2h3m0-3h3m0 4h3m-2-2h3m0 1h3m-2-1h3m-2 0h3m-2 1h3m-1 1h3m-1-3h3m0 0h3m-2 0h3m-2 1h3m-2-1h3m-2 1h3m2-2h3m-3 0h3m1 1h3m-2-1h3m-1 4h3m-2-1h3m1-1h3m-2 2h3m-3-2h3m3-2h3m-1 1h3m-1 0h3m-3 0h3m-3 3h3m-3-3h3m-1 2h3m-3 1h3m-3-3h3m-3 1h3m-2-1h3m-3 3h3m-2-2h3m0-2h3m-3 0h3m-2 0h3m-1 2h3m-2 1h3m-3 0h3m-1 0h3m-3 0h3m-2 0h3m-2-1h3m-2-2h3m-2 3h3m-1-3h3m-2 3h3m-3-1h3m-1 2h3m0-2h3m-3-1h3m4 0h3m-1 1h3m0-1h3m-2 1h3m-3 1h3m-3-3h3m-3 0h3m6 2h3m-3-1h3m-1 1h3m-3 1h3m1-3h3m-2 1h3m-2 2h3m-3 0h3m-2 0h3m-2-1h3m-2 1h3m2-1h3m-3 0h3m-3 2h3m-3-1h3m-3-1h3m0-1h3m-3-1h3m-2 4h3m-1-4h3m-3 1h3m-3-1h3m-1 2h3m-2 2h3m-3-1h3m1-2h3m-2 2h3m1-2h3m-3 1h3m3-2h3m-1 2h3m-1 1h3m-2 1h3m-1-2h3m-3-2h3m-1 2h3m1 1h3m-2-2h3m0-1h3m0 0h3m1 3h3m-2-2h3m-2 0h3m2 2h3m-2-3h3m-2 2h3m0-2h3m-1 0h3m6 3h3m-3-2h3m-1 1h3m-1 2h3m5-4h3m9 4h3m-1-1h3m2-2h3m-375 5h3m-2 0h3m6-1h3m5 3h3m4-3h3m0 2h3m37-2h3m3 4h3m5-1h3m21-1h3m-1-1h3m4 1h3m6 0h3m3-2h3m0 0h3m2 3h3m-2 0h3m-1-3h3m4 4h3m3-1h3m1-1h3m-2 0h3m0-2h3m2 2h3m-2 1h3m-3-1h3m0 1h3m-2-2h3m0 3h3m-1-1h3m-1-2h3m-2 1h3m-2-1h3m-3 3h3m-1-2h3m-2-1h3m-2 0h3m-1 0h3m-3 0h3m0-1h3m-1 0h3m1 2h3m-3-2h3m-3 0h3m-2 1h3m-1 1h3m-2-2h3m-2 2h3m-1 0h3m-3-2h3m-3 3h3m-3 0h3m-1 1h3m-2-4h3m-2 2h3m-3 2h3m-3-2h3m-2 2h3m-2 0h3m0-4h3m-2 1h3m-3 0h3m0 2h3m-3-2h3m-2-1h3m-1 3h3m-2 1h3m-3-4h3m-3 1h3m-1 1h3m-3 1h3m-2 1h3m-2-4h3m-2 0h3m-3 4h3m-3-4h3m-1 1h3m-3-1h3m-2 0h3m-2 3h3m-2-2h3m-3 0h3m-2 3h3m-3 0h3m-2-3h3m-2 1h3m-3 2h3m-3 0h3m-2-2h3m-2-2h3m-2 1h3m-3 0h3m1 1h3m0 0h3m-3 1h3m-1-1h3m-2-2h3m1 1h3m-2 2h3m0-1h3m0-1h3m-3 1h3m-2 0h3m0-1h3m-1 3h3m-1 0h3m-1 0h3m-3 0h3m-2-1h3m-3 1h3m0-4h3m-3 3h3m-2-3h3m0 3h3m-3 1h3m-3-3h3m-1-1h3m0 2h3m1 1h3m-1-2h3m1-1h3m1 0h3m-2 4h3m8-3h3m0 0h3m-3 2h3m0 0h3m-1-3h3m-3 4h3m-3-4h3m-3 1h3m0-1h3m2 4h3m2 0h3m-3-4h3m-2 0h3m3 1h3m6 2h3m-3-3h3m5 4h3m10-4h3m-2 4h3m15 0h3m-382 4h3m-3 1h3m2-4h3m0 2h3m-3 1h3m10 0h3m22-2h3m3 3h3m29-4h3m25 3h3m-1-3h3m1 1h3m3 0h3m-2 0h3m4 0h3m-3-1h3m-2 4h3m2-3h3m1-1h3m-1 0h3m-1 1h3m0 3h3m-1 0h3m-2-2h3m3 1h3m2 1h3m0-1h3m8-2h3m-2 2h3m-2-2h3m-3-1h3m-2 2h3m-3 1h3m-1-3h3m-3 1h3m-2 0h3m-3-1h3m-1 4h3m1-1h3m-2 0h3m-2 1h3m-2-2h3m-3-2h3m-3 4h3m-1-4h3m-3 3h3m4-3h3m-1 1h3m2 2h3m-3-3h3m-1 3h3m-3-2h3m-1-1h3m-3 3h3m-3-2h3m-2 3h3m-2-3h3m0 1h3m0 2h3m-2-2h3m-3-2h3m-3 1h3m-3 0h3m-2 2h3m-3-2h3m-3-1h3m-3 3h3m1-3h3m-2 2h3m-1-2h3m-3 3h3m-3-3h3m-3 1h3m-2 3h3m-3-4h3m2 0h3m-2 0h3m-2 4h3m-3-3h3m-2-1h3m-3 4h3m1-2h3m-3-1h3m-3 2h3m-3-1h3m-2-1h3m-2 3h3m-3-1h3m-2 0h3m-1-1h3m-3-1h3m-3-1h3m-2 1h3m-1 0h3m-3 2h3m0 0h3m-1-1h3m-3-2h3m0 1h3m-3 0h3m-3 0h3m-2 0h3m-2 0h3m-1-1h3m-2 0h3m-2 4h3m-3-1h3m-2 1h3m-1-3h3m-3 3h3m-1-3h3m-3 1h3m-2-1h3m-2 0h3m-3 3h3m-2-2h3m-2 1h3m-3 0h3m-2-1h3m-1 1h3m-3-1h3m-3 1h3m-2-3h3m-2 3h3m0 1h3m-1-3h3m-2 2h3m-3-2h3m-2 3h3m-1-2h3m0-2h3m-3 2h3m-2 2h3m-3-1h3m0-2h3m-3 1h3m-1 2h3m-3-3h3m-3 2h3m-2 0h3m-3 1h3m-2-3h3m-2 1h3m-3 1h3m-2-2h3m-1 2h3m-3 1h3m-3-2h3m5 0h3m-2-1h3m8 1h3m0-1h3m2 3h3m-3 0h3m-3-4h3m-3 1h3m1 1h3m-3 0h3m15-1h3m-1 2h3m-1 0h3m7 1h3m-383 2h3m7-1h3m1 2h3m-2-1h3m9 0h3m-2 3h3m-2-1h3m12-1h3m38 0h3m9-1h3m14-1h3m-2 1h3m-1 3h3m3 0h3m-2-4h3m1 2h3m1-1h3m6 2h3m2-2h3m5 1h3m-3 1h3m3-1h3m-3 0h3m0-2h3m-2 0h3m0 4h3m-1-4h3m-2 3h3m-3-3h3m3 2h3m0 2h3m1-3h3m1 1h3m0 0h3m-1-1h3m-1 2h3m-2 1h3m-1-4h3m-2 1h3m-3 2h3m3 1h3m-1 0h3m0-1h3m-3 1h3m-2 0h3m-2 0h3m-3-2h3m-3 1h3m-2-3h3m-1 4h3m-1-1h3m-3 1h3m-3 0h3m-1-2h3m-3 1h3m-3 1h3m-3 0h3m-2-4h3m-1 0h3m-2 1h3m-3 2h3m-3 1h3m-3-3h3m0 1h3m-3 1h3m-3 1h3m-1 0h3m-2 0h3m0-2h3m-3-1h3m-3 1h3m-2 2h3m-2-2h3m-2 0h3m-3-1h3m-2 3h3m-2-3h3m-1 1h3m-2-2h3m-3 0h3m-2 3h3m-3 0h3m-2-3h3m-2 4h3m-3 0h3m-1-2h3m-2 1h3m-3 1h3m-1-4h3m-2 1h3m-2 3h3m-3-2h3m-2-2h3m-1 4h3m-1-1h3m-3 0h3m-3 0h3m0 0h3m-3-2h3m-2 1h3m-3 0h3m-3 1h3m-3 0h3m0-1h3m-1 0h3m-2-2h3m0 3h3m-1-3h3m-2 2h3m-3 1h3m-2 1h3m-2 0h3m-3-3h3m-2 2h3m-3-3h3m-3 3h3m-3 0h3m-2 0h3m-2-1h3m-3 2h3m-2-4h3m3 2h3m-2 1h3m-3 1h3m-2-4h3m-3 3h3m-3-2h3m1 1h3m0 2h3m0-2h3m1 2h3m1 0h3m0-1h3m12 1h3m-1 0h3m6-3h3m0 0h3m-2 1h3m-3-2h3m-1 0h3m0 4h3m0-4h3m-1 2h3m-3-1h3m1 3h3m-2-2h3m5 0h3m18 1h3m12 0h3m-382 5h3m5-3h3m12 0h3m72 1h3m27 2h3m-1 1h3m1-2h3m-3 0h3m7 2h3m-1-2h3m-2-2h3m-3 2h3m1 2h3m-2 0h3m1 0h3m1-2h3m-3 0h3m-1 1h3m2-3h3m-1 0h3m-3 4h3m-2-3h3m-2 1h3m-2 1h3m-2 1h3m0-1h3m-2 0h3m-1 0h3m-2-1h3m1 2h3m-2-3h3m-1-1h3m-1 2h3m-2-1h3m-3 3h3m-2-1h3m-3 1h3m-1-4h3m-2 3h3m-2 0h3m-1 0h3m-2-3h3m-2 3h3m-2-3h3m-3 0h3m-3 2h3m2-2h3m2 1h3m-3 1h3m-2 1h3m-2 0h3m-2 1h3m-2-1h3m-3-2h3m0 1h3m-2-2h3m-2 2h3m-3-2h3m-1 4h3m0-4h3m-2 4h3m-1-1h3m-1-1h3m-3 1h3m-2-2h3m-2-1h3m-2 4h3m0 0h3m-1-4h3m-3 0h3m-3 2h3m-1-2h3m-1 0h3m-3 4h3m-2-2h3m-2 0h3m-2 2h3m-3-2h3m-3-2h3m-1 3h3m-1-1h3m-2 2h3m-3-2h3m0 2h3m-2-4h3m-2 3h3m-2-1h3m-2 1h3m-3 0h3m-2-3h3m-3 0h3m-2 1h3m-3 3h3m-2-2h3m0 1h3m-2-1h3m-3-2h3m1 1h3m3 3h3m-3-2h3m-3 1h3m-2 1h3m-1-4h3m-3 1h3m-1 2h3m-3 0h3m-2-2h3m1-1h3m-1 2h3m4 0h3m-2 1h3m13 0h3m-1-3h3m3 1h3m-3-1h3m2 1h3m14 2h3m-2-2h3m21 3h3m0-3h3m-375 4h3m97 2h3m0-2h3m16 3h3m0-2h3m8-1h3m2 0h3m13 0h3m2 2h3m1 0h3m3-1h3m-1 1h3m-3 2h3m-1-3h3m0 0h3m-1-1h3m-1 2h3m-3-2h3m-1 4h3m-1-4h3m2 2h3m-2 0h3m2 2h3m-3-4h3m-2 2h3m6-1h3m-2-1h3m1 2h3m-1 0h3m0 0h3m-2 2h3m-2-3h3m1 3h3m-3 0h3m-3-3h3m-2 2h3m1-3h3m1 1h3m0 0h3m0 1h3m-3-1h3m-2 3h3m-2-2h3m-3-1h3m-2 2h3m-1 0h3m-2 1h3m-2-2h3m-3 0h3m-3 1h3m-2 0h3m-3 0h3m1-2h3m-3-1h3m5 3h3m0 0h3m-1-3h3m-3 0h3m-2 4h3m-3-3h3m-2 3h3m0-3h3m4-1h3m-1 1h3m2-1h3m-2 3h3m-1-2h3m-1 1h3m-1 2h3m-3-4h3m-2 2h3m-3 0h3m1-2h3m-3 1h3m0 2h3m-1-1h3m1 0h3m15-1h3m0 0h3m-2-1h3m-2 1h3m3 2h3m-3-3h3m6 3h3m1-3h3m0 1h3m6 2h3m14 1h3m-303 3h3m0-2h3m12 0h3m10 2h3m11 1h3m-2-2h3m0 3h3m1-1h3m2-2h3m11 2h3m-1 1h3m7-2h3m-2 2h3m-2 0h3m2 0h3m-2 0h3m-1 0h3m-1-1h3m-3-3h3m-2 0h3m1 3h3m-1-1h3m0 2h3m3-4h3m-3 4h3m-2 0h3m0 0h3m0-4h3m4 3h3m-2 0h3m-2-1h3m-2 0h3m-3 2h3m1-3h3m2 3h3m-1-4h3m0 4h3m-2-3h3m-3 3h3m-2-3h3m-3 0h3m-3 0h3m-3 1h3m-2 2h3m-1-1h3m1 0h3m-2-3h3m4 4h3m-3-2h3m-1 2h3m-1-3h3m-3-1h3m-3 3h3m0 1h3m-3-1h3m1-2h3m-3 0h3m-1 3h3m-3-2h3m-3 1h3m-1 1h3m0-2h3m-3-2h3m0 1h3m-1 3h3m-3 0h3m-3-4h3m-2 1h3m-2 3h3m-3-1h3m-2 0h3m0 0h3m-3-2h3m0-1h3m-2 3h3m-2 1h3m-3-4h3m-1 3h3m0-2h3m-2-1h3m0 1h3m-2 0h3m-1 0h3m-2 3h3m-2-4h3m-1 0h3m-2 0h3m4 1h3m-1 1h3m-2-1h3m-2 1h3m-3 2h3m1-4h3m-3 2h3m-3 1h3m0-1h3m-3 1h3m5 0h3m0-3h3m3 0h3m-3 4h3m7-1h3m1-1h3m-1-2h3m-2 1h3m1 0h3m-1-1h3m0 3h3m-2 0h3m-344 2h3m19 3h3m4-2h3m36 0h3m5 0h3m8 0h3m2 0h3m5-1h3m13 0h3m4 3h3m-1 0h3m2 0h3m13-1h3m-3 1h3m3-1h3m-2 0h3m8 2h3m-2-2h3m-2 1h3m-3 0h3m-2-2h3m-2 0h3m4 2h3m-2-1h3m0-1h3m-2 0h3m7 2h3m-3-1h3m-3-2h3m-1 0h3m-2 4h3m4 0h3m-1-3h3m-3 2h3m3-2h3m-3-1h3m-3 2h3m-2 1h3m0-3h3m-2 1h3m-3-1h3m-3 1h3m-2 2h3m-1-1h3m-3 2h3m-3 0h3m-2 0h3m-3-4h3m-1 0h3m-3 1h3m-3 2h3m-2-2h3m0 1h3m-1-1h3m-1 2h3m0-2h3m-1 3h3m1-3h3m-3-1h3m-3 1h3m0 2h3m-2 0h3m-2 0h3m-3-3h3m-2 1h3m-1-1h3m0 4h3m-2-1h3m-2-3h3m1 1h3m-3 2h3m-2 0h3m-2 0h3m-3-1h3m-2-2h3m-3 2h3m-1 0h3m-2 2h3m-1-4h3m-3 0h3m-1 1h3m-1 2h3m-1 1h3m14-4h3m0 0h3m-1 2h3m4-1h3m-2 3h3m-2 0h3m-3-2h3m-1 2h3m-3-4h3m-2 3h3m8-1h3m-2-1h3m1 3h3m5-1h3m3 1h3m8-3h3m4 0h3m1 1h3m-278 6h3m5 0h3m14 0h3m4 0h3m5 0h3m15 1h3m-2-4h3m3 2h3m0 0h3m8-2h3m-2 0h3m0 0h3m1 1h3m-2-1h3m-1 4h3m0-4h3m0 1h3m-1 0h3m-1 3h3m-2-4h3m-3 3h3m1 1h3m-2-4h3m-3 4h3m-2-4h3m-2 4h3m5-3h3m-3 2h3m0-3h3m-2 0h3m-3 4h3m-2-4h3m0 4h3m-3-3h3m-2 2h3m1 0h3m1 1h3m-3 0h3m-2-2h3m-3 1h3m1 0h3m-2 1h3m-3-3h3m-1-1h3m0 3h3m0 0h3m-3-2h3m-1 3h3m-2-2h3m-1 2h3m0-3h3m-1 1h3m-2 0h3m0 0h3m-1-2h3m-3 2h3m-3 0h3m-1-1h3m-2 2h3m-3-3h3m-3 2h3m-2-2h3m0 3h3m-2-2h3m-2 2h3m-3-1h3m-3-2h3m-2 1h3m-2 1h3m0-1h3m-3 1h3m-1 0h3m-1 0h3m7-1h3m-1 1h3m-2-1h3m3 3h3m-1-3h3m2 1h3m12-2h3m0 1h3m2 2h3m2 0h3m4-3h3m5 2h3m3-1h3m-1 3h3m-320 3h3m46 1h3m60 0h3m16 1h3m4-3h3m-2 3h3m10-4h3m-1 0h3m-2 2h3m-2 1h3m0 1h3m3-3h3m-3 2h3m-2-2h3m-3-1h3m-1 1h3m0-1h3m3 4h3m0 0h3m3-4h3m3 3h3m-1-1h3m-2-2h3m-3 0h3m-1 2h3m-1-1h3m-3 0h3m-3 2h3m-2 0h3m-3-3h3m-3 2h3m14-2h3m0 0h3m2 0h3m-3 3h3m-2-3h3m0 0h3m-2 2h3m-1-1h3m1 1h3m1-1h3m-3 1h3m0-2h3m1 3h3m-1 1h3m-3-4h3m1 4h3m0-3h3m-2 2h3m6 1h3m1-1h3m-2 1h3m16 0h3m11-1h3m13-3h3m-288 6h3m8 3h3m12-2h3m-3 2h3m6-4h3m8 4h3m0 0h3m-2 0h3m0 0h3m9 0h3m-3-4h3m-2 4h3m-3 0h3m-1 0h3m-2 0h3m4-2h3m-3 2h3m-3 0h3m9 0h3m-2 0h3m-2-3h3m-2 1h3m-3 2h3m-1 0h3m-2 0h3m-2 0h3m-3 0h3m-1 0h3m-2-2h3m-2 1h3m-1 1h3m-1 0h3m-2 0h3m-2-1h3m-1 1h3m-1 0h3m-1-3h3m-2 3h3m-3 0h3m-2 0h3m-2 0h3m0-4h3m-1 4h3m-2 0h3m-3 0h3m0 0h3m-3-2h3m-3-2h3m-1 0h3m-3 4h3m-2 0h3m-3 0h3m-2 0h3m-3-4h3m-2 4h3m-1 0h3m-2 0h3m-2 0h3m-1 0h3m-3 0h3m1 0h3m-1 0h3m-3 0h3m-1 0h3m-2 0h3m-3-4h3m-3 2h3m-2 2h3m-3 0h3m-3 0h3m-2 0h3m-2 0h3m-3 0h3m-3 0h3m0 0h3m-2 0h3m-2 0h3m-3 0h3m-3 0h3m-2-1h3m-2 1h3m-2 0h3m0 0h3m-2 0h3m-3 0h3m-2 0h3m-3 0h3m-1 0h3m-3 0h3m-2 0h3m-1-2h3m-3 2h3m-2 0h3m-3-2h3m-1 2h3m-1 0h3m-3-2h3m-3 2h3m-2-4h3m-3 4h3m-2 0h3m-3 0h3m-2 0h3m-1 0h3m-3-1h3m-2 1h3m-3 0h3m-3-4h3m-1 4h3m-3 0h3m-2 0h3m-3 0h3m-2-3h3m-3 3h3m-1 0h3m-2 0h3m-3 0h3m-2 0h3m-3 0h3m-2-3h3m-3 3h3m-3-3h3m-2 3h3m-3 0h3m-2-1h3m-1 1h3m-3 0h3m-2-1h3m-3 1h3m-1 0h3m-3 0h3m-3 0h3m-3 0h3m-2 0h3m-2-4h3m-2 4h3m-2 0h3m-3 0h3m-2-3h3m-2 3h3m-3-3h3m-2 3h3m-2 0h3m-1 0h3m-3 0h3m-2 0h3m-2 0h3m-2 0h3m-2-3h3m-3 2h3m-2-2h3m-3 0h3m-3 1h3m-2 2h3m-1 0h3m-3 0h3m-2-3h3m-3 0h3m-1 3h3m-2 0h3m0 0h3m-3 0h3m-3 0h3m-2 0h3m-3 0h3m-3 0h3m-1-1h3m-3 1h3m-3 0h3m-1-1h3m-2 1h3m-3 0h3m-3 0h3m-2 0h3m-3 0h3m-2-1h3m-1 1h3m-2 0h3m-1 0h3m-2 0h3m-3-1h3m-2 1h3m-1 0h3m-2 0h3m-2 0h3m0-3h3m-2 3h3m-3-1h3m0 1h3m-1 0h3m0 0h3m-3 0h3m-2 0h3m-1 0h3m-3-4h3m-2 4h3m-3 0h3m-1-4h3m-3 3h3m-3 1h3m0-3h3m2 3h3m-2 0h3m-2 0h3m-3 0h3m1 0h3m3 0h3m4 0h3m-1 0h3m-1 0h3m11-1h3m16 1h3m-1-4h3" stroke="#000" stroke-opacity=".8" stroke-width="3.2" fill="none"/>
</g>
<rect x="393.7" y="204.5" width="83.80000000000001" height="80.60000000000002" fill="none" stroke="#6a6a6a" stroke-width=".8"/>
<path d="M393.0 204.5V285.1" stroke="#555" stroke-width="1.3" stroke-dasharray=".9 1.1" fill="none"/>
<path d="M393.7 285.8H477.5" stroke="#555" stroke-width="1.3" stroke-dasharray=".9 1.1" fill="none"/>
<line x1="419.4" y1="204.5" x2="419.4" y2="285.1" stroke="#444" stroke-width="0.9"/>
<line x1="393.7" y1="255" x2="477.5" y2="255" stroke="#444" stroke-width="0.9"/>
<g transform="translate(390.0 285.8) rotate(-90)" fill="#4a4a4a"><text x="-2.5" y="0" font-size="4" stroke="none">10</text><text x="2" y="-1.9" font-size="2.9" stroke="none">0</text></g>
<g transform="translate(394.2 291.40000000000003)" fill="#4a4a4a"><text x="-2.5" y="0" font-size="4" stroke="none">10</text><text x="2" y="-1.9" font-size="2.9" stroke="none">0</text></g>
<g transform="translate(390.0 265.65000000000003) rotate(-90)" fill="#4a4a4a"><text x="-2.5" y="0" font-size="4" stroke="none">10</text><text x="2" y="-1.9" font-size="2.9" stroke="none">1</text></g>
<g transform="translate(414.775 291.40000000000003)" fill="#4a4a4a"><text x="-2.5" y="0" font-size="4" stroke="none">10</text><text x="2" y="-1.9" font-size="2.9" stroke="none">1</text></g>
<g transform="translate(390.0 245.5) rotate(-90)" fill="#4a4a4a"><text x="-2.5" y="0" font-size="4" stroke="none">10</text><text x="2" y="-1.9" font-size="2.9" stroke="none">2</text></g>
<g transform="translate(435.35 291.40000000000003)" fill="#4a4a4a"><text x="-2.5" y="0" font-size="4" stroke="none">10</text><text x="2" y="-1.9" font-size="2.9" stroke="none">2</text></g>
<g transform="translate(390.0 225.35) rotate(-90)" fill="#4a4a4a"><text x="-2.5" y="0" font-size="4" stroke="none">10</text><text x="2" y="-1.9" font-size="2.9" stroke="none">3</text></g>
<g transform="translate(455.925 291.40000000000003)" fill="#4a4a4a"><text x="-2.5" y="0" font-size="4" stroke="none">10</text><text x="2" y="-1.9" font-size="2.9" stroke="none">3</text></g>
<g transform="translate(390.0 205.2) rotate(-90)" fill="#4a4a4a"><text x="-2.5" y="0" font-size="4" stroke="none">10</text><text x="2" y="-1.9" font-size="2.9" stroke="none">4</text></g>
<g transform="translate(476.5 291.40000000000003)" fill="#4a4a4a"><text x="-2.5" y="0" font-size="4" stroke="none">10</text><text x="2" y="-1.9" font-size="2.9" stroke="none">4</text></g>
<rect x="450.4" y="205.0" width="26.600000000000023" height="12.0" fill="#fff"/>
<text x="451.4" y="216" font-size="15.6" text-anchor="start" font-weight="normal">11%</text>
<clipPath id="cp3"><rect x="296.7" y="297.0" width="83.40000000000003" height="79.5"/></clipPath>
<g clip-path="url(#cp3)">
<ellipse cx="355.5" cy="361.5" rx="26" ry="15.5" fill="url(#g6)" transform="rotate(-12 355.5 361.5)"/>
<ellipse cx="355" cy="320.5" rx="23" ry="13.5" fill="url(#g7)" transform="rotate(-10 355 320.5)"/>
<ellipse cx="356" cy="341" rx="17" ry="22" fill="url(#g8)"/>
<path transform="translate(296.2 296.5) scale(0.2)" d="M52 7h3m-38 6h3m91 3h3m300-3h3m-178 9h3m54 0h3m8-2h3m83 0h3m-361 3h3m-1 3h3m244 1h3m5-4h3m62 1h3m-339 8h3m14-4h3m18 2h3m3 2h3m55 0h3m22-2h3m137 2h3m24-1h3m36-2h3m8 2h3m12-2h3m-377 7h3m26-2h3m5 3h3m183 0h3m10-1h3m149-2h3m16 0h3m-363 4h3m81 0h3m7 3h3m81-2h3m33 2h3m3-2h3m121 3h3m-349 3h3m5-1h3m-2 1h3m4 1h3m27 0h3m37-1h3m17 1h3m57 0h3m50-1h3m5 0h3m4-1h3m16 0h3m0 2h3m4-1h3m-1-1h3m0 0h3m3 1h3m0 0h3m1 2h3m3 0h3m1-4h3m-1 2h3m26-1h3m9-1h3m-366 6h3m4 3h3m25 0h3m43-4h3m105 2h3m6-1h3m1 2h3m-2 1h3m22 0h3m-1-4h3m11 4h3m8-2h3m-2-2h3m9 4h3m32-2h3m6-1h3m3 1h3m1-1h3m3 0h3m5 1h3m16 0h3m-346 5h3m6 1h3m55-2h3m6 0h3m119 2h3m7 0h3m2-1h3m10 1h3m1 0h3m1-1h3m17 1h3m-2 0h3m35-2h3m17 3h3m0-1h3m30 1h3m9 0h3m13 0h3m-233 1h3m33 3h3m21-3h3m6 2h3m9-2h3m-1 4h3m3-3h3m3 1h3m8-2h3m7 2h3m3 2h3m-2-3h3m2 3h3m-1 0h3m-1-4h3m-2 0h3m7 4h3m2 0h3m1-4h3m1 1h3m1 3h3m7-4h3m1 1h3m-1 2h3m-2 1h3m6-2h3m2-2h3m2 4h3m0-4h3m-332 6h3m14 3h3m9-1h3m21-2h3m82 3h3m24-3h3m19 3h3m21-2h3m8-2h3m-1 4h3m-3-1h3m22-3h3m-1 0h3m8 3h3m-3-2h3m13 0h3m-1 2h3m0 0h3m-2 0h3m-3-1h3m0 2h3m-3 0h3m2-1h3m9 1h3m0-3h3m8 3h3m-3-2h3m-1 0h3m23-1h3m9 2h3m2-2h3m-397 4h3m0 4h3m4 0h3m54-4h3m60 1h3m26 0h3m22 3h3m2-2h3m22 2h3m14 0h3m0-3h3m3 1h3m1-2h3m12 2h3m10 1h3m2 1h3m-3-2h3m-3-2h3m21 4h3m5 0h3m-2-4h3m0 2h3m4 2h3m12-2h3m-2-2h3m5 2h3m-1 1h3m-3 1h3m24 0h3m-3-4h3m1 2h3m9 1h3m2-3h3m-408 8h3m20 0h3m21 1h3m42-3h3m0 2h3m21-2h3m39 3h3m0-3h3m0 2h3m4 1h3m-1-1h3m7-3h3m-1 1h3m3-1h3m5 3h3m5-2h3m-2 0h3m10 0h3m-1 3h3m1-1h3m0-2h3m11 2h3m6-1h3m-1 2h3m-2 0h3m13-2h3m-1-1h3m-1 0h3m-2 2h3m-2-1h3m2-2h3m0 4h3m-2-2h3m0-1h3m-2 0h3m5 2h3m0-3h3m5 3h3m10 1h3m7 0h3m-2-1h3m1-1h3m-2 2h3m-1-1h3m4-3h3m0 0h3m-1 3h3m-1 0h3m-1 1h3m2-2h3m7-1h3m0 3h3m0-4h3m7 0h3m-383 8h3m23 1h3m-2-3h3m16-1h3m36 1h3m10-1h3m43 2h3m42 0h3m19 2h3m-2-4h3m3 2h3m3 0h3m9 0h3m6 1h3m-2-3h3m0 1h3m-2 2h3m15 1h3m-3-4h3m2 2h3m-3 2h3m0-3h3m-1-1h3m-2 3h3m-2 0h3m-2 1h3m-3-4h3m-3 4h3m-2-1h3m-2-3h3m-3 1h3m-2-1h3m-1 4h3m1-4h3m-2 0h3m5 1h3m-1 0h3m-2 1h3m-3 1h3m0 1h3m1-3h3m5-1h3m7 3h3m3-3h3m-3 0h3m1 1h3m0 3h3m5-3h3m0 2h3m-2-1h3m-1 1h3m11-1h3m4-1h3m0 1h3m-2 1h3m6 1h3m-306 5h3m31 0h3m48-3h3m-1-1h3m2 0h3m2 3h3m-1-2h3m24 2h3m9-3h3m-2 1h3m0-1h3m-2 3h3m1-2h3m11 0h3m8 3h3m0-4h3m2 3h3m-2 1h3m-2-1h3m1 1h3m0 0h3m-3 0h3m2-3h3m0 2h3m5 0h3m-2-3h3m-1 2h3m-3 0h3m-2 2h3m-3-1h3m-1-3h3m-1 2h3m2-2h3m-1 1h3m-1 2h3m-3-1h3m-2-2h3m-2 4h3m-3-2h3m1-2h3m-2 2h3m-3-1h3m-1 0h3m4 3h3m7-2h3m-2 0h3m2 1h3m1 1h3m-2-4h3m1 1h3m3 0h3m13 1h3m8-2h3m-2 0h3m0 4h3m-2-3h3m-354 5h3m19 1h3m19 2h3m14-4h3m4 0h3m28 2h3m4 0h3m18-2h3m4 3h3m17-1h3m3 1h3m2-3h3m6 3h3m-1-2h3m4 0h3m3-1h3m-1 2h3m6-2h3m0 4h3m-3 0h3m-3-1h3m-1 0h3m-3-2h3m-1 3h3m-1-4h3m4 3h3m-3-2h3m0 3h3m-2-4h3m-1 2h3m2 1h3m-2-2h3m-3 2h3m-1-1h3m-2 0h3m-3-2h3m1 0h3m-2 2h3m0 1h3m-2 0h3m-2-2h3m-2 3h3m-3-3h3m-1-1h3m0 4h3m0-3h3m-2-1h3m-2 3h3m2-2h3m-2 3h3m1-4h3m0 4h3m-1-4h3m-2 1h3m-1 1h3m-1 0h3m-2 0h3m-3 1h3m-1-3h3m-2 3h3m0-2h3m-3-1h3m-1 3h3m-2-3h3m-2 2h3m-1 2h3m0-4h3m3 0h3m2 0h3m4 1h3m-2 0h3m-2 3h3m5-2h3m0-1h3m3 2h3m1-3h3m-1 0h3m-2 3h3m-2 1h3m16-3h3m-386 7h3m-2-3h3m24 3h3m4-2h3m4 0h3m22-1h3m62 2h3m14 0h3m18-1h3m3 1h3m-1 2h3m-2-4h3m3 3h3m0 0h3m6 0h3m-3 0h3m4 0h3m0-2h3m-1 3h3m0-1h3m-1 1h3m-2-3h3m0 0h3m-1-1h3m-1 2h3m-2 2h3m-3-4h3m3 1h3m0 3h3m-2-1h3m5-1h3m2 1h3m-2-3h3m-2 0h3m-2 0h3m4 0h3m-2 3h3m-3-3h3m-1 2h3m-2 2h3m-3-1h3m-1 1h3m-2-4h3m-3 4h3m-2 0h3m2-2h3m-1 1h3m-2-3h3m-3 1h3m1 0h3m0 3h3m-2-2h3m-2 0h3m-1-1h3m-2 1h3m-2 2h3m-1-3h3m-3 3h3m-2 0h3m-2-2h3m1 1h3m-1-1h3m-2-2h3m-2 2h3m-3 0h3m0 0h3m-3-1h3m-1 2h3m-1-2h3m-3 3h3m-1 0h3m-3-2h3m1-1h3m-3 2h3m-2 0h3m-3 1h3m-3-1h3m-1 1h3m-2-3h3m-3 2h3m-2-3h3m-3 3h3m0-1h3m0-2h3m9 2h3m-1-1h3m3 2h3m1 0h3m2 1h3m-1-2h3m1 0h3m-1 0h3m9 1h3m4-3h3m-369 8h3m19-3h3m-3 0h3m-1 2h3m-3-1h3m-2-1h3m13 2h3m-2-1h3m0 0h3m6 0h3m3 2h3m0 0h3m19-2h3m16 1h3m26-1h3m6 2h3m-2-1h3m13 0h3m5 2h3m-2-1h3m2-3h3m7 0h3m9 0h3m0 0h3m-1 4h3m0-1h3m-2 1h3m5 0h3m-2 0h3m4-4h3m-2 0h3m-1 4h3m2 0h3m-2-1h3m-3 0h3m-3-3h3m-3 4h3m-2-2h3m-1 0h3m-2 1h3m1 0h3m-3 1h3m3-2h3m-3 2h3m-2 0h3m-1-3h3m-3 3h3m-2-4h3m0 1h3m-2 0h3m-3-1h3m0 1h3m-1 2h3m-2 1h3m-2-4h3m0 1h3m-2-1h3m-3 1h3m-2-1h3m0 0h3m1 0h3m-2 3h3m-2 1h3m1-4h3m-2 3h3m-1 1h3m0-3h3m0-1h3m1 3h3m-2-2h3m-1-1h3m-1 1h3m-3 0h3m-2 1h3m-1 1h3m-1 1h3m-2-4h3m-3 1h3m-2 2h3m1 1h3m4-2h3m4-2h3m1 4h3m7-3h3m-1 3h3m5 0h3m3-2h3m1 1h3m-331 3h3m4 2h3m6 1h3m0-3h3m66 3h3m23-2h3m26-1h3m2 1h3m-2 1h3m1-3h3m1 4h3m4-4h3m15 3h3m6-3h3m-2 1h3m2-1h3m-2 3h3m-1 0h3m-3 0h3m0-1h3m-3 0h3m0-1h3m-2 2h3m-1-3h3m-2 0h3m7 2h3m-2 1h3m3 1h3m-3-3h3m-2 1h3m-1 1h3m-3 1h3m-3-2h3m1-2h3m-3 2h3m1-2h3m-2 2h3m-3-1h3m0-1h3m-3 0h3m-3 1h3m-2 0h3m-3-1h3m-2 2h3m-2 1h3m-3-3h3m-3 0h3m-2 2h3m-2-2h3m-2 0h3m-3 2h3m-3 2h3m-2-2h3m-3-2h3m-1 2h3m-2 2h3m1-4h3m-2 2h3m-2 0h3m-2-1h3m-1 1h3m-2 0h3m-1 1h3m1-3h3m1 1h3m-2-1h3m7 2h3m-2 0h3m-1-2h3m-1 0h3m1 3h3m-1-1h3m6 0h3m-2 1h3m-1 1h3m3-1h3m-1 1h3m-3-3h3m-3 0h3m0 1h3m0 1h3m4-1h3m-3 0h3m2 1h3m-2-3h3m2 0h3m1 4h3m-1 0h3m-3-4h3m7 2h3m-409 3h3m10 0h3m45 3h3m4 1h3m23-1h3m11 0h3m-1-2h3m1-1h3m24 3h3m7-1h3m14 2h3m-2-4h3m-2 3h3m15-1h3m1 1h3m-1-2h3m1 0h3m4 3h3m-3-2h3m2-1h3m-3 3h3m-1-1h3m-2-1h3m-1-1h3m-2 1h3m-3-1h3m1 2h3m-2 1h3m0-4h3m-2 3h3m-2-1h3m-2 0h3m-3 0h3m-2 2h3m1-3h3m0 2h3m-2-3h3m-2 1h3m-3 2h3m-3-1h3m-3-2h3m0 2h3m4-1h3m-3-1h3m-2 2h3m-3-1h3m-3-1h3m-2 2h3m0-1h3m-2 1h3m-3 0h3m2 1h3m-1-3h3m0 0h3m1 4h3m2 0h3m-3 0h3m-1-1h3m-2-1h3m-1-2h3m-2 4h3m0 0h3m-3 0h3m-2-2h3m-3-1h3m-1 1h3m-1 1h3m1-3h3m5 3h3m-2 0h3m-3-2h3m2 3h3m-1-4h3m-1 2h3m-1 2h3m0-3h3m-3-1h3m-2 2h3m1 1h3m0-2h3m-2 0h3m-3 2h3m0 1h3m1-1h3m-1 0h3m-2-3h3m-3 0h3m-3 2h3m-2-2h3m2 1h3m0 0h3m-2 2h3m-3 1h3m3-1h3m4 0h3m-2 1h3m-2 0h3m0-3h3m0 1h3m-1 0h3m-2 0h3m5 1h3m-2 0h3m3-3h3m-2 2h3m0 2h3m-1-1h3m-1 1h3m3-4h3m-385 5h3m22 1h3m-1 2h3m1-2h3m36 1h3m8 1h3m50-2h3m11 3h3m0-3h3m3 0h3m-1 0h3m5 1h3m4-1h3m0 2h3m-2-3h3m3 1h3m6-1h3m1 4h3m-3 0h3m0-2h3m-3 0h3m-1-2h3m-3 3h3m-3-2h3m1 3h3m0 0h3m1-4h3m-3 3h3m1-2h3m-2 3h3m-1-1h3m2-2h3m1 2h3m1 0h3m-3 0h3m2-1h3m-2-2h3m-3 1h3m-2-1h3m-3 2h3m-3-1h3m-2 2h3m-1-1h3m-1-2h3m-2 2h3m2-1h3m-2 3h3m-2-1h3m0-2h3m-3-1h3m-3 4h3m-2-2h3m1-1h3m-2 2h3m1 1h3m-3-3h3m-3 0h3m-3 2h3m-3 1h3m-2-4h3m-1 2h3m-3-1h3m0-1h3m-3 0h3m1 1h3m-3 3h3m2 0h3m-3-3h3m-2 2h3m-3 1h3m-2-4h3m-3 3h3m-1 0h3m-1 0h3m-3-1h3m-1 2h3m0-4h3m-2 1h3m0 3h3m-3-4h3m0 2h3m1-1h3m-2 2h3m-3-1h3m-1 2h3m-3-1h3m-3-2h3m2 2h3m1-2h3m3 0h3m-2 2h3m-1 1h3m-3-1h3m0 1h3m-3-1h3m5-2h3m0-1h3m4 3h3m-2 1h3m-3-3h3m0 0h3m-1-1h3m5 1h3m-2 2h3m16-1h3m8 1h3m-384 2h3m-1 4h3m19 0h3m-2-3h3m7-1h3m9 1h3m29 2h3m24 1h3m44 0h3m2-1h3m7 1h3m7-2h3m0-1h3m-1 3h3m2-1h3m-3-3h3m0 3h3m0 1h3m-2-4h3m-1 4h3m0-1h3m-2-3h3m0 3h3m-1 0h3m-2 0h3m-2-2h3m-1 0h3m-1-1h3m-2 1h3m-2 0h3m0 3h3m-3 0h3m1-1h3m-3-3h3m-2 1h3m-3 3h3m0-3h3m-3 3h3m-1 0h3m-3-1h3m1-2h3m-3 0h3m-3 2h3m-3-2h3m3-1h3m-2 4h3m1-4h3m-2 3h3m-2-1h3m0 0h3m-3 0h3m-3 0h3m-2 1h3m-2-1h3m-3-1h3m-1 3h3m-2-4h3m0 0h3m-3 1h3m0-1h3m-3 1h3m-2 3h3m-3-1h3m-2 0h3m4 1h3m-2-3h3m-3 1h3m-2-2h3m-1 1h3m-3 2h3m-2-1h3m-2 0h3m-2 0h3m-3 2h3m-1 0h3m-2-2h3m-3 1h3m-3 0h3m-2-2h3m-1 1h3m-2 2h3m-3 0h3m-2-4h3m-2 2h3m-3-2h3m-2 2h3m0-1h3m-2-1h3m-1 1h3m-1 0h3m-2 3h3m-2-2h3m-3 0h3m-2-1h3m-3 0h3m-1 1h3m-2 2h3m-2-1h3m-3-2h3m-2 1h3m-1-2h3m-2 3h3m-2-2h3m1 3h3m-1-2h3m0-2h3m-3 0h3m-2 4h3m-3 0h3m-2 0h3m-1-1h3m-1-2h3m-3 2h3m3 1h3m-1-2h3m-1 2h3m-2-4h3m1 3h3m-1-3h3m2 1h3m-3-1h3m5 3h3m5 1h3m6-4h3m2 1h3m-3 0h3m-364 8h3m4-3h3m6 1h3m12-1h3m13-1h3m0 1h3m8 2h3m11-1h3m-2-1h3m6 2h3m27 1h3m-1-2h3m19-1h3m2 1h3m2-2h3m-1 0h3m-2 2h3m4-1h3m2 3h3m-3-4h3m-2 4h3m-2-3h3m-1-1h3m-3 0h3m1 2h3m0 2h3m0-4h3m-2 2h3m5-2h3m1 4h3m-2 0h3m0-4h3m-3 2h3m4 0h3m-1 2h3m-2-3h3m1 1h3m-2 1h3m-2-2h3m-2 0h3m-2-1h3m0 3h3m3-3h3m-2 4h3m-1-4h3m-1 2h3m-3 2h3m-2-1h3m-1-3h3m0 0h3m-2 2h3m-3 0h3m-1-2h3m-2 3h3m-3-3h3m-1 0h3m-2 0h3m-2 0h3m0 3h3m-3 0h3m-2-2h3m-3 1h3m-3-2h3m-3 4h3m0-2h3m-2 1h3m-1 0h3m1-3h3m-3 4h3m-1-4h3m2 0h3m-3 2h3m-3-2h3m-1 1h3m-2 0h3m-3-1h3m-3 0h3m-2 2h3m-2 1h3m0-2h3m-3 3h3m3-4h3m-2 4h3m-1-1h3m3-1h3m-3 2h3m-2-3h3m-3 3h3m0-1h3m-2 1h3m-3-3h3m3-1h3m-2 3h3m-2 1h3m-3-1h3m-3-2h3m-2-1h3m-2 3h3m0 0h3m0-3h3m-3 1h3m2 2h3m1 1h3m-3-1h3m-2 0h3m-1-2h3m3 1h3m-1-1h3m3 1h3m-1 0h3m-1 1h3m0-2h3m-2 2h3m-2 1h3m1-4h3m-3 2h3m-2 0h3m-1-1h3m-2 1h3m18 1h3m-370 5h3m8-3h3m30 3h3m4 0h3m36 1h3m40-3h3m-2-1h3m11 4h3m-2 0h3m3 0h3m0-1h3m3 0h3m-2 0h3m0-1h3m-3-1h3m7 1h3m-3-1h3m-1 2h3m8-2h3m-2-1h3m-2 1h3m-2 1h3m-3 1h3m0-2h3m-1 0h3m-1 3h3m-3-3h3m-1 0h3m-2 0h3m0 3h3m-2-1h3m0-2h3m-1 0h3m-3 2h3m-1-1h3m-2-1h3m4-1h3m-3 0h3m-2 4h3m-3-2h3m1 0h3m-1-1h3m-2-1h3m0 0h3m4 2h3m0-1h3m-2 3h3m-3-4h3m-3 2h3m0-2h3m-2 1h3m-3 0h3m-2 1h3m-2 2h3m-3-1h3m2 0h3m-2-3h3m-2 2h3m-2 1h3m-1-3h3m-3 0h3m-2 0h3m0 0h3m-2 4h3m-1-3h3m-3-1h3m-2 0h3m-1 0h3m-1 3h3m-1 1h3m-3 0h3m-3-3h3m-1-1h3m-2 3h3m-3-3h3m2 4h3m-3-1h3m-1-2h3m-2 1h3m-1 1h3m-3 0h3m2-3h3m1 1h3m-1 1h3m-3 2h3m-2-3h3m1 0h3m0 2h3m-1-3h3m4 1h3m-3 0h3m-3-1h3m2 4h3m-3 0h3m1-3h3m-2 3h3m-3-2h3m4-2h3m0 3h3m32-1h3m-3 0h3m-386 7h3m2-2h3m14-1h3m7 3h3m6-3h3m14 3h3m-2 0h3m15-3h3m6 3h3m-1-1h3m1-3h3m6 0h3m31 4h3m-1-4h3m1 2h3m1 0h3m6 2h3m-2-2h3m-1 1h3m7-2h3m4-1h3m4 3h3m1 0h3m-3 1h3m-1-2h3m-2-1h3m-1 2h3m-1-3h3m0 1h3m3 1h3m2-1h3m2 2h3m1-1h3m-2 0h3m-3 1h3m-3-3h3m-2 3h3m-2-3h3m-3 0h3m0 2h3m-3 1h3m-2 1h3m-2-3h3m0 0h3m1 3h3m-1-2h3m-3-1h3m-2 2h3m-3-1h3m-1 2h3m-3-2h3m-1 0h3m-2-1h3m-2-1h3m-2 3h3m-3-1h3m-3 1h3m-3-3h3m-2 4h3m-2-3h3m-3 1h3m-2-2h3m-1 4h3m-1-2h3m-2 2h3m-3-3h3m1 2h3m-3 1h3m-3-4h3m-2 1h3m3 3h3m-2 0h3m-1-2h3m-1 2h3m-2-3h3m-3-1h3m0 0h3m-1 4h3m-2-2h3m-3 0h3m-3-1h3m-2 3h3m-2-2h3m-2 1h3m-2 1h3m1-2h3m-2 2h3m-1 0h3m-3 0h3m-2-1h3m-1 1h3m-1-4h3m-2 2h3m1 1h3m-3-3h3m1 0h3m-1 0h3m4 4h3m-2-1h3m-2-3h3m-3 2h3m-3-2h3m-2 4h3m-3-1h3m0-2h3m-3 1h3m-2-2h3m-1 2h3m1 2h3m-3-2h3m-3 0h3m-1 0h3m-3 0h3m-2-1h3m-1 3h3m1-1h3m0-2h3m0 3h3m-2-2h3m-1-2h3m0 0h3m-1 3h3m-3 1h3m7-1h3m-2-3h3m3 4h3m1-2h3m-3-2h3m7 2h3m-2-2h3m-2 4h3m-2-4h3m-1 4h3m-1-1h3m-392 6h3m-1 0h3m18-2h3m37-1h3m13-1h3m26 2h3m22-2h3m0 2h3m3-2h3m5 2h3m8 1h3m4 1h3m-3-3h3m-2-1h3m4 1h3m1 2h3m1 0h3m-2-3h3m1 2h3m-2-2h3m-3 4h3m-2-1h3m-1-3h3m-2 2h3m1 2h3m-1-3h3m0 1h3m-3 1h3m-2 0h3m-2 0h3m-3 1h3m0-3h3m-2-1h3m5 3h3m-2 0h3m0 0h3m3 1h3m-3-1h3m9-1h3m2 2h3m-3-2h3m-1 2h3m-3-1h3m-1 0h3m-1-1h3m1 0h3m-3-2h3m-2 0h3m-2 0h3m-3 1h3m-3 2h3m-3-3h3m-2 1h3m0-1h3m-2 0h3m-2 0h3m-1 4h3m-3-1h3m-2-1h3m-2-1h3m-2-1h3m-2 0h3m-2 1h3m-3-1h3m-1 3h3m-2 0h3m-2 1h3m-2-1h3m-2-1h3m-1-2h3m-2 4h3m-3-2h3m-2 2h3m-2-3h3m-3 2h3m-3 1h3m-2-3h3m0 3h3m-1-4h3m-3 3h3m-2 1h3m-3-2h3m-2 2h3m-3-2h3m-2-1h3m1-1h3m-3 2h3m-3 2h3m-3-2h3m-1 1h3m-3 1h3m-2 0h3m-2-1h3m-2-2h3m0 0h3m-3 1h3m-1-2h3m-3 1h3m-3 2h3m-3-3h3m-2 3h3m0-2h3m-2 1h3m0 1h3m-3-3h3m-2 4h3m-2-3h3m-2 0h3m-2 0h3m-2-1h3m-3 1h3m0 0h3m-2 0h3m-1 3h3m-2-2h3m-2-2h3m-2 2h3m-3 0h3m-2 1h3m1 1h3m3-1h3m-3 1h3m3-2h3m0 1h3m-2 1h3m-3-1h3m1-2h3m2 0h3m4-1h3m-1 1h3m-2 3h3m-3-1h3m1-1h3m3-2h3m-3 2h3m2 2h3m2-4h3m7 2h3m-405 3h3m1 0h3m25 2h3m1-1h3m-1 2h3m2-2h3m-2 0h3m11 0h3m-2 0h3m1 2h3m2 0h3m3-2h3m6 2h3m12 0h3m17-1h3m11 2h3m19-3h3m-1 2h3m-2-3h3m16 3h3m3 1h3m-3-1h3m-1-1h3m-1-2h3m-1 0h3m-2 4h3m0-2h3m-3 1h3m-3 1h3m-2-3h3m-2 0h3m-2 3h3m-2-4h3m4 1h3m-2 1h3m-1 2h3m0 0h3m-3-1h3m-2-1h3m6 2h3m-2 0h3m-1 0h3m-3 0h3m0-3h3m-2 1h3m-2 2h3m1-4h3m-2 2h3m-1 0h3m1-1h3m-2 0h3m3 0h3m0 0h3m-2-1h3m-3 1h3m-3-1h3m1 1h3m0 1h3m-2 1h3m-3 0h3m-2-2h3m-1 3h3m-2 0h3m-2-4h3m-2 4h3m0-3h3m-1-1h3m-2 0h3m-1 2h3m-3-1h3m-1 0h3m-3 2h3m0-3h3m0 2h3m-1 0h3m-1-2h3m0 4h3m-1-3h3m-2 1h3m-3 1h3m-1-1h3m-3-2h3m-2 2h3m1 1h3m-3 0h3m-2 0h3m-2-1h3m-2-2h3m1 0h3m-2 0h3m-3 2h3m-2-1h3m-3 2h3m-1-2h3m2 1h3m-3-1h3m-2 0h3m2 1h3m1 2h3m-1-4h3m-2 1h3m-3 1h3m0 2h3m0-4h3m-1 1h3m-3 1h3m-3-2h3m-2 1h3m-3-1h3m-2 0h3m3 3h3m-1-2h3m-3 3h3m0 0h3m-2 0h3m-3-1h3m15-2h3m2 1h3m-1 1h3m5-3h3m4 1h3m-3 3h3m-2-2h3m1 0h3m4-2h3m-382 9h3m14-2h3m10 1h3m4 0h3m0-3h3m77 1h3m-2-1h3m2 4h3m10-3h3m12 2h3m-2 1h3m-3-4h3m1 0h3m-2 2h3m4-2h3m-1 0h3m-2 1h3m0 3h3m0-1h3m-3 1h3m-2-3h3m-3 1h3m-2-2h3m-1 1h3m-2 1h3m-1-2h3m-2 1h3m-2 3h3m-3-1h3m-1-2h3m1 1h3m-2-1h3m-2 2h3m0 1h3m-3-3h3m-2-1h3m-1 1h3m0 2h3m9-3h3m0 4h3m-1-1h3m-2-1h3m-3-1h3m-2-1h3m3 1h3m-3 0h3m-2 1h3m-2-1h3m-1 2h3m-2-2h3m-2 0h3m-3 1h3m-2 1h3m-3-3h3m0 1h3m-2 1h3m-1 1h3m-3 0h3m0 1h3m-3-1h3m-1-3h3m-3 0h3m-2 0h3m-2 4h3m1-1h3m0-1h3m-2 2h3m-3-4h3m-2 2h3m-3 0h3m-2 0h3m-1 2h3m-2-4h3m2 4h3m-1-1h3m-2-1h3m0 2h3m-2-4h3m-2 4h3m-2-1h3m-1-3h3m-1 2h3m-1 2h3m0 0h3m-3-4h3m-2 3h3m-2 1h3m-3 0h3m-1-2h3m-2 0h3m0 1h3m-3-1h3m-3 0h3m-3 0h3m-2 2h3m-2-1h3m5 1h3m-1-2h3m-1-2h3m1 2h3m-2 1h3m7-1h3m-1 0h3m2 0h3m4-1h3m-1 1h3m-3-1h3m5-1h3m-3 3h3m-3 1h3m5-3h3m-1 3h3m2-2h3m12 0h3m-3-2h3m-386 6h3m6 3h3m11 0h3m7-3h3m11 1h3m10-1h3m10 2h3m18-1h3m21-1h3m2 3h3m-1-4h3m15 3h3m24 0h3m1-3h3m2 0h3m-2 1h3m2-1h3m-1 1h3m1 3h3m-2-2h3m-2 1h3m0-3h3m-3 3h3m7-2h3m-2 1h3m1 0h3m0-1h3m-3 0h3m4 0h3m-1 1h3m0 2h3m-3-2h3m-2 1h3m-3-1h3m-2 1h3m5 1h3m-3-4h3m2 1h3m0 2h3m-1 0h3m0-3h3m-2 3h3m-3 1h3m-1-1h3m-1-3h3m-1 4h3m-1-3h3m1 1h3m1 2h3m-3-1h3m-1-3h3m-3 1h3m-2-1h3m-1 2h3m-3 0h3m-2-2h3m-1 1h3m-2 1h3m-3-1h3m-1 3h3m-1-2h3m-3 0h3m-1 0h3m-3 0h3m-1-1h3m-1 2h3m-1-1h3m-2-1h3m-3 1h3m-3 2h3m2-4h3m-3 1h3m0 2h3m-2 0h3m-1-2h3m-2-1h3m7 1h3m-3 0h3m-2 2h3m-2 1h3m-1 0h3m-1-2h3m-2 0h3m2-1h3m-1 3h3m-2-2h3m-1-1h3m-2 2h3m0 0h3m-2-3h3m0 3h3m-3-2h3m-2 2h3m2 1h3m-1 0h3m2-3h3m0 1h3m-2-2h3m-1 0h3m1 0h3m-2 4h3m0 0h3m10-3h3m-389 4h3m33 4h3m1 0h3m16-3h3m10 0h3m38 2h3m-3 1h3m2-2h3m21-2h3m15 2h3m5-1h3m-3 1h3m2-1h3m-1 1h3m-3 2h3m-2 0h3m-1-4h3m-2 2h3m5 2h3m0-4h3m2 1h3m-1 2h3m3-3h3m-2 4h3m2 0h3m-1-2h3m0 0h3m-3 0h3m3-2h3m-3 0h3m2 3h3m1-2h3m-1 2h3m2-3h3m3 2h3m-3 1h3m-3-2h3m4 3h3m-1-2h3m-1 0h3m-2 0h3m-2 1h3m5 1h3m-1 0h3m-2 0h3m-3-1h3m-2-2h3m-3 0h3m-1 1h3m-2-1h3m-1 2h3m2-2h3m0 2h3m-3-1h3m2-1h3m-2 0h3m-1 0h3m-2 2h3m-3-1h3m-1 0h3m-1 2h3m-3-3h3m-3-1h3m-1 1h3m4 0h3m-2 1h3m0-2h3m-3 3h3m-2 0h3m-3-3h3m-2 4h3m-3-1h3m-2-3h3m-1 2h3m-2 0h3m-2-2h3m-3 2h3m-1 2h3m-3-4h3m-2 1h3m0 2h3m-2 0h3m-2-1h3m-2-2h3m-1 4h3m0-1h3m2-3h3m11 3h3m3 1h3m-2-2h3m10 1h3m6-1h3m0-1h3m-1 3h3m3-1h3m-1 0h3m-1 0h3m-2 1h3m6-2h3m-394 3h3m18 3h3m80 1h3m5-1h3m-1 1h3m26-1h3m-2-2h3m6 3h3m0-4h3m6 3h3m1-2h3m-2-1h3m1 2h3m0-2h3m-2 4h3m0-3h3m0 3h3m-2-2h3m-3 0h3m0-1h3m3 3h3m-1-3h3m-2 2h3m-3-1h3m-2 0h3m-1-1h3m1 2h3m2-2h3m0 3h3m6 0h3m-3-2h3m-3-2h3m2 3h3m0-3h3m4 3h3m-2-2h3m-3-1h3m-3 0h3m4 1h3m-2 3h3m-2 0h3m2-3h3m0-1h3m-3 2h3m-2-1h3m-3 2h3m-3 0h3m-1-3h3m-2 4h3m3-4h3m-1 1h3m-2 3h3m0-1h3m-2 0h3m-2-1h3m-3-1h3m0 2h3m2-1h3m-3 1h3m-3-1h3m-1 2h3m-2 0h3m0 0h3m-1-3h3m-2-1h3m-3 4h3m-2-4h3m-2 2h3m-2 1h3m1-1h3m-2 0h3m0-2h3m-3 1h3m5 3h3m6-1h3m-2-2h3m-1 2h3m-2 0h3m-3-2h3m1 0h3m-2 2h3m-2-3h3m-2 4h3m-2-2h3m1 0h3m3 2h3m0-4h3m1 0h3m-2 0h3m4 4h3m1-2h3m3-1h3m-1-1h3m-1 4h3m4-1h3m1 0h3m2 1h3m-384 2h3m-2 2h3m15-1h3m-2 0h3m19 0h3m4-1h3m10 3h3m0-3h3m23 2h3m16 0h3m4-3h3m32 0h3m13 0h3m1 3h3m-1 0h3m17 0h3m-2-1h3m1 1h3m0-1h3m-2 1h3m6-3h3m-2 0h3m-3 4h3m-1-1h3m-2 0h3m-3-1h3m1 0h3m0 0h3m-3-2h3m-1 4h3m9-3h3m2 3h3m-2-2h3m-2 0h3m-3-2h3m-2 4h3m-3 0h3m0-2h3m-2 2h3m-2 0h3m-2-3h3m-2 2h3m-2 0h3m-2-3h3m-3 4h3m-2-2h3m-1 1h3m0 0h3m-2-3h3m-3 0h3m1 0h3m-2 4h3m0-2h3m-3-2h3m-3 4h3m-2-2h3m-3 0h3m-1 0h3m-3 2h3m-2-4h3m2 4h3m-3-3h3m-2 1h3m1 0h3m-3 1h3m-2 1h3m-3-3h3m2 1h3m-3 2h3m-3-4h3m-1 3h3m-1 1h3m0-3h3m1 1h3m-2 0h3m-2-1h3m1 1h3m-2-2h3m-2 3h3m-3-3h3m4 4h3m-3-4h3m0 3h3m-2-1h3m-3 1h3m0-1h3m0 0h3m-3 2h3m-3 0h3m-3-1h3m-1 0h3m7-1h3m-2-1h3m6-1h3m0 3h3m3-3h3m-2 0h3m-2 2h3m0-1h3m20 3h3m1-2h3m-411 4h3m114-1h3m0 3h3m1-3h3m4 0h3m14 0h3m0 0h3m11 0h3m10 0h3m8 0h3m0 1h3m12 1h3m1 1h3m-3-3h3m-1 3h3m4-2h3m-1-1h3m-2 1h3m3-1h3m-3 3h3m-2-1h3m0 0h3m2 0h3m-3-1h3m-3-1h3m4 1h3m-2 1h3m6 2h3m-3-1h3m-1 0h3m-2-1h3m-3-2h3m1 4h3m-1-3h3m-3 1h3m1 2h3m-2 0h3m1-2h3m-1 0h3m-3-2h3m-2 3h3m-3 0h3m-2-2h3m-2 2h3m-1 1h3m1 0h3m-3-1h3m-2-3h3m0 4h3m-2 0h3m-2 0h3m-2-4h3m-3 1h3m3 1h3m-3 2h3m-2-3h3m-2 2h3m-2-2h3m-3-1h3m0 3h3m0 1h3m-1-3h3m0 3h3m-2-2h3m1-2h3m-3 1h3m-1-1h3m-3 4h3m-1-2h3m0 0h3m-3 2h3m-1-4h3m-1 0h3m1 3h3m-3-1h3m-2 1h3m-1-1h3m-2 1h3m4-2h3m-1 0h3m1 3h3m0-3h3m3 3h3m1-4h3m10 0h3m-377 9h3m110-3h3m20 0h3m1 0h3m2 1h3m2-2h3m12 3h3m5 0h3m15 0h3m4 0h3m6 0h3m0-2h3m1 3h3m-1-4h3m-3 0h3m-2 1h3m1-1h3m1 4h3m4 0h3m4-4h3m-2 4h3m-2-3h3m-3 0h3m-3 2h3m1-2h3m-3-1h3m-2 1h3m-2 0h3m3 0h3m-1 2h3m-3-3h3m3 2h3m-3-2h3m-1 4h3m-3-1h3m-3-1h3m0-1h3m-3 3h3m-2-3h3m-3 0h3m0 0h3m-1-1h3m-3 1h3m-2 3h3m0-2h3m-2 1h3m-1 0h3m-2-3h3m-2 1h3m0 3h3m2 0h3m-1 0h3m0-2h3m-2 0h3m-2-1h3m-2 2h3m-3-2h3m-3 3h3m-2-2h3m-2 0h3m1 1h3m-1-3h3m-2 4h3m0-1h3m1 0h3m1-1h3m-3 1h3m-1-3h3m2 2h3m1-1h3m-2 3h3m0-1h3m1-2h3m3 2h3m-1-2h3m-2 3h3m2-1h3m2-2h3m0-1h3m5 3h3m-2-2h3m4 2h3m0 1h3m5-2h3m1-2h3m1 1h3m0 1h3m6-1h3m-385 7h3m4 0h3m6 0h3m-3-3h3m-1 1h3m0 2h3m0-3h3m16 3h3m65 1h3m19-4h3m24 0h3m-2 3h3m0-3h3m-3 4h3m3-3h3m-3 2h3m0-1h3m-2 0h3m-2 2h3m-1-3h3m5-1h3m-3 3h3m-2-3h3m-2 4h3m-1-3h3m2 1h3m-2 2h3m0-2h3m-2-1h3m2 2h3m-3-2h3m-2 1h3m-2 2h3m-2-2h3m-2-1h3m-2 1h3m-2 0h3m0-2h3m3 3h3m-3 0h3m0-2h3m1 3h3m3 0h3m-3-1h3m-2 1h3m-3-2h3m1-2h3m-1 3h3m-2 1h3m2-2h3m-3-1h3m-3 3h3m-1-4h3m-1 3h3m0-3h3m-3 3h3m-1 0h3m-3 0h3m1 0h3m0-2h3m-3-1h3m-2 1h3m-2 2h3m-2 1h3m-2 0h3m-2-1h3m-3 1h3m6-3h3m0 0h3m-1-1h3m-1 0h3m-2 1h3m1 1h3m-3-1h3m-1 0h3m0 1h3m3 2h3m-1 0h3m-2-3h3m-2 3h3m-1-2h3m3-1h3m0 2h3m-2 1h3m-2-2h3m-2 2h3m-3-4h3m-2 4h3m-3-3h3m-2-1h3m-3 2h3m-2 0h3m-2-1h3m-1-1h3m-2 4h3m3-2h3m1 1h3m-1-1h3m8 1h3m5-1h3m0 1h3m-2-3h3m2 4h3m3-4h3m8 4h3m3-3h3m-383 8h3m24-2h3m13-1h3m7 2h3m2-3h3m24 4h3m-3-1h3m15-1h3m-1 0h3m20-1h3m23 3h3m-3-1h3m-1-1h3m4 0h3m-2-1h3m4-1h3m-2 0h3m-1 3h3m3 1h3m6 0h3m10-1h3m2-3h3m-2 4h3m-2-2h3m4 2h3m-2-4h3m-2 4h3m-3-2h3m-2 1h3m-2-3h3m-2 2h3m-1 0h3m7 1h3m1-2h3m0 3h3m0-1h3m1 0h3m3-3h3m-1 0h3m-3 3h3m-3-1h3m3-2h3m-2 3h3m-2 1h3m-2-3h3m6 1h3m-1-2h3m-3 4h3m-1 0h3m-1-4h3m1 2h3m0 0h3m-3 2h3m-1 0h3m-3-4h3m-3 2h3m-2 0h3m3 1h3m-2 1h3m3-3h3m-3-1h3m-2 1h3m-3 1h3m-2-1h3m0 1h3m0-1h3m-3 0h3m2 0h3m-2 2h3m-2-2h3m-3 0h3m-1 2h3m-3-2h3m-2 0h3m-2 0h3m-2 2h3m2-2h3m-3 2h3m-2-3h3m-1 1h3m-1 1h3m-3-1h3m-2 3h3m-2-4h3m8 0h3m-2 4h3m-1-1h3m14-1h3m0-2h3m-373 5h3m18 0h3m28 3h3m13 0h3m-2 0h3m20 1h3m-2-1h3m2-1h3m29-1h3m0-1h3m-3 2h3m0-1h3m-2 0h3m-3 3h3m1 0h3m0-1h3m-1 0h3m2 0h3m10 1h3m9-1h3m0 0h3m4-2h3m7 3h3m2-4h3m4 1h3m-1 3h3m-1-4h3m0 0h3m3 2h3m-3 0h3m0-1h3m-2 3h3m0-3h3m-2-1h3m-3 0h3m-2 3h3m-2-2h3m-2 0h3m-2-1h3m0 2h3m-2-2h3m-2 4h3m-2 0h3m3 0h3m2-2h3m-2-2h3m-3 2h3m3 1h3m2-1h3m-2-2h3m-2 4h3m2 0h3m-1-3h3m-3 2h3m1 1h3m-1-1h3m-1 0h3m-3 1h3m0-3h3m3 0h3m0 3h3m-2-3h3m-2 2h3m-2 1h3m3-2h3m3-2h3m0 3h3m5-2h3m1 2h3m0-1h3m1 0h3m-2 2h3m5-4h3m5 2h3m1-2h3m-2 0h3m0 3h3m28 0h3m-410 4h3m15-1h3m4 2h3m42-2h3m8 0h3m54 2h3m0-3h3m9 0h3m40 1h3m1-1h3m-2 0h3m1 3h3m1-3h3m3 1h3m0 3h3m4 0h3m-2 0h3m-2 0h3m-2 0h3m-2 0h3m-2-2h3m-2 2h3m-2-2h3m-2-2h3m-1 4h3m3-1h3m0-3h3m-2 4h3m-2-3h3m4 1h3m-2 1h3m1-2h3m-3 1h3m1-1h3m-3 0h3m-2 2h3m0 1h3m-1-3h3m0 1h3m4-2h3m2 3h3m2-3h3m-2 4h3m-1 0h3m0-3h3m-2-1h3m-2 2h3m-1 2h3m-3-3h3m-2 3h3m-3-1h3m0 1h3m-3-4h3m-1 0h3m-2 4h3m-2 0h3m-2-2h3m-1 0h3m-2 2h3m-2-1h3m-3-2h3m4 0h3m-1-1h3m-1 2h3m-1 0h3m4-1h3m-2 2h3m0-2h3m-3-1h3m-3 3h3m1-3h3m3 2h3m5 1h3m3-1h3m14-1h3m2 3h3m5-1h3m0 0h3m3-2h3m-370 6h3m13 2h3m1-4h3m8 4h3m36-2h3m8 1h3m9-1h3m5 2h3m10-4h3m9 2h3m1-1h3m9 3h3m13-1h3m-2-1h3m-3-1h3m0 0h3m-2 1h3m5 0h3m-1 1h3m-2-2h3m-2 2h3m-2 1h3m1-2h3m-1 0h3m-3-1h3m0 0h3m7 2h3m-3 0h3m0-2h3m0 3h3m-3 0h3m-1-3h3m-1 1h3m2-2h3m-2 1h3m1 1h3m8 2h3m-2-3h3m0 1h3m0 1h3m1-1h3m-2-1h3m-2-1h3m0 2h3m-3 2h3m0-1h3m-2-3h3m0 1h3m-2-1h3m-1 1h3m-3 0h3m-2 0h3m0 1h3m-2 2h3m0-4h3m1 0h3m0 3h3m1-2h3m-3 1h3m5 1h3m-3 0h3m-2-3h3m0 2h3m3 0h3m-3-2h3m1 1h3m1 3h3m4-4h3m0 2h3m0 0h3m7-2h3m10 3h3m12-3h3m18 2h3m-2 1h3m-281 3h3m3 2h3m0 0h3m5 0h3m4-3h3m14 1h3m7 2h3m0 0h3m-3 1h3m24-2h3m1-2h3m1 3h3m-1-2h3m1-1h3m-2 3h3m1-1h3m14-1h3m1 3h3m-2-2h3m-3 0h3m-1-2h3m-3 0h3m2 0h3m-2 2h3m-1-2h3m-2 2h3m-2-1h3m-3 0h3m-2-1h3m-1 4h3m3 0h3m-2 0h3m-1-2h3m-3-1h3m3-1h3m0 1h3m-1 1h3m1-1h3m2 0h3m0 0h3m-2 1h3m-1-1h3m1 0h3m-2-1h3m-2 0h3m2 3h3m2-3h3m-1 4h3m1-4h3m-2 1h3m0 0h3m0 1h3m-1-1h3m-1 3h3m0-3h3m-2-1h3m-1 4h3m1-3h3m-2 0h3m-2 1h3m-3-2h3m-2 3h3m0-2h3m-2 2h3m-2-1h3m-2 1h3m3-1h3m-2 1h3m-3-1h3m-1 1h3m7-1h3m1 0h3m10 2h3m13-3h3m1-1h3m-371 7h3m3-1h3m88 1h3m52-2h3m13 3h3m-2-2h3m-2-1h3m-2 4h3m1 0h3m-1-3h3m-1 2h3m0 0h3m1 1h3m5-3h3m1 0h3m-2 3h3m-1 0h3m-1 0h3m-3-2h3m-2 1h3m-1 0h3m5-3h3m-1 3h3m2-1h3m-2 1h3m-3-3h3m-1 2h3m-2-2h3m-2 3h3m-3-1h3m0 1h3m1 1h3m0-4h3m0 1h3m-3 3h3m-1-3h3m3 0h3m-1 3h3m1 0h3m-1-2h3m-1-1h3m-3 3h3m2-3h3m-3-1h3m-2 3h3m6 0h3m-1 0h3m-2-2h3m-3 1h3m-1 2h3m3-4h3m4 2h3m-1-1h3m0 0h3m3-1h3m1 2h3m-3 0h3m-1 0h3m-2 1h3m0-1h3m0 2h3m4-4h3m0 1h3m-1 1h3m11-2h3m1 3h3m3-1h3m3-1h3m6 1h3m-401 7h3m19-3h3m3 3h3m2-4h3m32 0h3m16 2h3m1 1h3m50-3h3m0 0h3m9 0h3m1 2h3m-1-2h3m9 3h3m0 0h3m1-1h3m-3-2h3m10 3h3m4-1h3m-1 0h3m3-2h3m0 0h3m-3 2h3m1-2h3m2 2h3m6-1h3m-3-1h3m-3 4h3m0-4h3m3 2h3m-2-2h3m-2 3h3m-3 0h3m-2 1h3m0-2h3m-2 0h3m4 2h3m-1-1h3m0 0h3m-3 1h3m2-3h3m-2 2h3m-3-3h3m-3 2h3m2 0h3m-2-2h3m-1 0h3m-1 3h3m3-3h3m-2 0h3m1 4h3m-2-4h3m-3 0h3m2 3h3m1-1h3m-3 0h3m5 0h3m-3 0h3m7-2h3m6 4h3m1 0h3m-2-2h3m-3-1h3m1 1h3m-1 1h3m-2 1h3m-2 0h3m-3-1h3m-1-1h3m8 1h3m8-3h3m0 3h3m-1-1h3m10-2h3m18 0h3m-363 8h3m2-1h3m12 1h3m-1-1h3m15-1h3m25 0h3m27 1h3m1-2h3m19 3h3m11 0h3m3 1h3m5-3h3m-1 1h3m-3-1h3m3 3h3m-1 0h3m1-4h3m-2 1h3m-1 3h3m1-4h3m4 1h3m-2 1h3m-3-2h3m3 2h3m-3-2h3m-3 3h3m-3 0h3m-1 1h3m-2 0h3m2 0h3m0-2h3m0 2h3m-3-1h3m-3-3h3m-2 3h3m-2-3h3m-3 1h3m1 1h3m1 1h3m-1 0h3m-1-1h3m2 2h3m-2-3h3m-2 1h3m-3-2h3m2 0h3m-2 3h3m0 0h3m-3 0h3m-2-3h3m1 4h3m3-1h3m0 0h3m0 1h3m-3-3h3m0-1h3m-2 4h3m-3-4h3m-2 2h3m-1-2h3m-2 0h3m4 1h3m-2 2h3m1-3h3m-1 1h3m6-1h3m-3 2h3m1-2h3m-2 4h3m-3-4h3m-1 2h3m-3 0h3m-1-1h3m-1 3h3m2-4h3m-3 2h3m6 0h3m4 1h3m-2 0h3m2 0h3m-3-2h3m0-1h3m-3 2h3m-2 1h3m6 0h3m-1-3h3m11 4h3m4-4h3m-2 1h3m5 1h3m-390 6h3m19-2h3m-2 2h3m-1-2h3m15 3h3m21-3h3m4 0h3m-3 2h3m15 0h3m5-1h3m13 2h3m4-3h3m13 0h3m10 1h3m9-1h3m4 3h3m-2-4h3m-2 4h3m12-4h3m6 0h3m-1 1h3m-3 0h3m-1 0h3m0 0h3m-1 1h3m-3 0h3m-1 1h3m-3 1h3m-2-2h3m-3 0h3m1 1h3m-3 1h3m0 0h3m-1-1h3m-2 1h3m-1-2h3m-2 2h3m2-2h3m0-2h3m1 3h3m0-1h3m-2-1h3m-1 2h3m-1 1h3m-3 0h3m-1-3h3m-1-1h3m-2 0h3m-2 3h3m-2-2h3m1 2h3m2-2h3m-2-1h3m-1 4h3m0-4h3m-1 2h3m3 1h3m-3-2h3m1 1h3m-2-2h3m-2 4h3m-1-3h3m-3-1h3m1 0h3m-1 1h3m0 0h3m-2 3h3m-2-3h3m-3 3h3m-2-3h3m2 3h3m-2-2h3m-2 2h3m18-1h3m4-3h3m0 2h3m-2 0h3m0-1h3m-3 3h3m-3-3h3m-2 3h3m2-4h3m5 3h3m-1-1h3m3-2h3m-1 2h3m3-2h3m-2 1h3m4 0h3m0 1h3m7 2h3m-375 5h3m46-4h3m38 1h3m4 1h3m28-2h3m18 1h3m-2 0h3m-2 3h3m6-3h3m4 1h3m-2 2h3m4-2h3m9 2h3m4-4h3m-3 3h3m-1 1h3m-2-2h3m-2 2h3m-3 0h3m-2-1h3m-3-1h3m1 0h3m-3 2h3m-2-3h3m4 3h3m-2-3h3m-3 3h3m3-3h3m4 1h3m-1-2h3m-1 2h3m-1 0h3m-2-1h3m6-1h3m-3 3h3m-1 0h3m-2-1h3m1 0h3m-1 1h3m1-3h3m-2 4h3m0 0h3m-1 0h3m-3-4h3m-2 3h3m-1 1h3m-2-1h3m-1 1h3m-2-3h3m-3-1h3m-1 1h3m0 1h3m1 2h3m0-1h3m-3-3h3m4 0h3m-3 0h3m-3 0h3m-2 0h3m-3 0h3m-2 4h3m-3-3h3m0 0h3m-2 1h3m-2 1h3m-2 1h3m-3-4h3m3 3h3m1-3h3m-2 3h3m2-2h3m-2 2h3m-2-2h3m0 3h3m0-1h3m-1-1h3m-2 1h3m4-2h3m-1-1h3m-2 2h3m1-2h3m5 4h3m-2-3h3m-1 3h3m4-4h3m3 4h3m2-4h3m-1 1h3m-1 3h3m-355 1h3m16 1h3m-2 3h3m28-3h3m13 1h3m20-2h3m3 3h3m3-3h3m3 1h3m21 2h3m3 1h3m4-1h3m3-2h3m-1 3h3m1-3h3m2 2h3m8 1h3m1 0h3m-2-2h3m-3 1h3m4-1h3m-2 2h3m-3-2h3m-1-2h3m-2 0h3m-1 2h3m-2 1h3m0-2h3m-1-1h3m0 1h3m-2 0h3m-3 1h3m-2 1h3m-3-1h3m0 2h3m-3-4h3m-1 0h3m0 2h3m-2 2h3m4-4h3m-3 2h3m3-1h3m-3-1h3m-1 2h3m-3 0h3m0 1h3m-1-3h3m-2 3h3m-3-3h3m1 2h3m-2 0h3m-3-2h3m-2 0h3m-2 3h3m-3-3h3m-3 1h3m0 3h3m-3-1h3m-1-2h3m-3 0h3m-1 0h3m0 2h3m-3 1h3m-3-4h3m-2 4h3m-1-4h3m-2 0h3m-3 2h3m-1-2h3m-1 2h3m-1 1h3m-2-3h3m4 3h3m-1 1h3m-2-1h3m-2 0h3m-2-3h3m-3 0h3m-1 4h3m6-3h3m3-1h3m-2 4h3m-3-1h3m12-2h3m2 3h3m0-3h3m-1-1h3m-2 3h3m2 0h3m0-3h3m5 2h3m4 2h3m-393 4h3m23-2h3m31 2h3m85-2h3m-1 2h3m21-3h3m0 2h3m10 1h3m5 1h3m5-1h3m10-2h3m4 2h3m-1-1h3m-3-2h3m-2 2h3m0 1h3m1-1h3m0 0h3m1 2h3m-3-1h3m-2-3h3m-3 0h3m-2 3h3m-1 0h3m1-2h3m4 3h3m-3-4h3m0 2h3m-1 1h3m-2-1h3m-1 2h3m-2 0h3m-2-1h3m-1-1h3m-2-2h3m1 2h3m-2-1h3m0 2h3m-3 0h3m-1-3h3m-1 3h3m-3-2h3m-2 3h3m-2-3h3m-2-1h3m-3 4h3m0 0h3m-3-3h3m-3-1h3m-2 3h3m-2 1h3m-3-4h3m0 2h3m-3-2h3m1 4h3m-2-3h3m-2 2h3m-1-1h3m-2-2h3m-3 2h3m-2 0h3m-2-1h3m-2-1h3m6 4h3m-3-4h3m-1 0h3m-1 3h3m4 1h3m-2-2h3m-1 2h3m-2-2h3m1-1h3m-2 1h3m-1 2h3m-1-1h3m0-2h3m-2 2h3m4-3h3m-3 3h3m-2-1h3m-2-1h3m6 3h3m-2 0h3m-3-2h3m7 1h3m-2-2h3m-1 0h3m-2 2h3m-1-1h3m-3 0h3m-1-2h3m-2 4h3m-3 0h3m1-3h3m-2-1h3m-2 4h3m-2-1h3m0 0h3m4-1h3m8-2h3m-308 6h3m39 0h3m10 1h3m-1 2h3m7-4h3m7 1h3m1 2h3m-2 1h3m-2 0h3m-1-1h3m0 1h3m0-2h3m0 2h3m4-4h3m-2 0h3m3 0h3m1 4h3m6-4h3m-2 0h3m-1 0h3m5 3h3m5 1h3m3 0h3m-3-4h3m0 2h3m-1-2h3m-2 1h3m-3 0h3m-3-1h3m-2 2h3m-2-2h3m2 1h3m-3 2h3m-2-3h3m1 4h3m-1-3h3m-2 1h3m4 1h3m-2 1h3m1-3h3m-3 1h3m0 0h3m-1-2h3m-2 3h3m-3-3h3m-2 4h3m-2 0h3m0 0h3m-1 0h3m-1-4h3m0 1h3m-2 1h3m-2 0h3m-3 2h3m-3-2h3m-1 0h3m-3 0h3m-2-1h3m0 3h3m-1 0h3m-2-4h3m-2 1h3m0 0h3m-2-1h3m-1 4h3m0-2h3m-3 2h3m0 0h3m-3 0h3m-2-3h3m0 0h3m-1 2h3m-2 0h3m-1-3h3m-1 3h3m0 0h3m-1 1h3m-3-4h3m-2 0h3m-2 0h3m-3 0h3m2 2h3m-2 1h3m-2 0h3m-3-2h3m0-1h3m0 3h3m-1 0h3m4-1h3m1 0h3m-3 1h3m1 1h3m1-3h3m3 2h3m17-1h3m-2 2h3m0-4h3m-372 8h3m-1-1h3m21-2h3m-2 4h3m15 0h3m16-1h3m1 0h3m16-1h3m-1-2h3m2 0h3m22 3h3m2-1h3m9-1h3m1 3h3m-2 0h3m4-2h3m4-1h3m-2 3h3m0-4h3m-2 1h3m-2 3h3m-2-4h3m1 2h3m-3 2h3m12 0h3m-2-2h3m12-2h3m-3 1h3m-1 1h3m-1 0h3m2 0h3m0-2h3m-3 4h3m-1 0h3m-3-2h3m-2-2h3m-2 2h3m-2-2h3m-1 3h3m-3 1h3m-1-3h3m-2 1h3m-3-1h3m-1-1h3m-2 2h3m-2 1h3m0-1h3m-3-1h3m-2-1h3m-2 3h3m0-2h3m1 2h3m-1-1h3m-3-1h3m3 3h3m-3-2h3m-2-2h3m-2 0h3m-3 1h3m1 2h3m-1 0h3m-3 1h3m-3-3h3m-2-1h3m-3 3h3m-3-3h3m-2 4h3m-2-2h3m-2 2h3m-3-2h3m1-1h3m1-1h3m5 0h3m-1 3h3m-1-2h3m-1 2h3m-2-3h3m0 2h3m-1 2h3m-2-2h3m0 1h3m-1 0h3m-2-1h3m3-1h3m-3 0h3m-2 1h3m-2 1h3m-1 1h3m-1-1h3m4-2h3m0 3h3m0-4h3m-2 2h3m4-1h3m3 1h3m-2 2h3m-3-4h3m-2 1h3m-2 0h3m-1-1h3m5 4h3m-3-1h3m-1-3h3m3 2h3m-3 2h3m3-3h3m-369 8h3m6 0h3m17 0h3m2-1h3m-3-1h3m2-2h3m0 3h3m41 1h3m0-3h3m24 1h3m9 0h3m2-1h3m37 3h3m2-1h3m-3 0h3m-2-1h3m-2 0h3m-1-2h3m-2 2h3m-1 2h3m3 0h3m2 0h3m3-2h3m-1 2h3m-2-1h3m1 1h3m1-1h3m-2-2h3m-1 1h3m-3-2h3m2 3h3m-3-1h3m-3 0h3m1 0h3m1-1h3m-1 1h3m-3 0h3m-3-1h3m-2 2h3m-2-3h3m-1 3h3m0 1h3m-3-2h3m-3-2h3m-1 1h3m-2 3h3m-2 0h3m3-1h3m-2-3h3m-2 1h3m-3 1h3m-1-1h3m-3-1h3m-1 0h3m-3 3h3m-2-1h3m-1 2h3m-2-4h3m-2 1h3m-2-1h3m-2 4h3m1-2h3m-2 1h3m2 1h3m1-4h3m-1 3h3m-2-1h3m0 2h3m2 0h3m-3-4h3m-1 2h3m-2 0h3m0-1h3m2 0h3m-1-1h3m-3 3h3m0 0h3m-3-1h3m3 0h3m-2 0h3m-2 0h3m-2 1h3m-2-1h3m-3 0h3m1-1h3m-1-1h3m-2 2h3m10 0h3m-2 2h3m-2-2h3m-2 2h3m-2-3h3m5 1h3m-2 2h3m0-4h3m-1 0h3m0 4h3m0-3h3m1 1h3m-358 5h3m20-1h3m4 3h3m0 0h3m4-4h3m6 2h3m7-2h3m5 3h3m14-2h3m6 3h3m-2-1h3m4 1h3m1 0h3m18 0h3m-1 0h3m5-2h3m-3 0h3m6 1h3m6-3h3m-2 1h3m10-1h3m1 3h3m-2 1h3m3 0h3m0-1h3m2 0h3m-3 1h3m0-2h3m-2 2h3m0-2h3m-2 1h3m-2 1h3m3-1h3m-2-3h3m-1 0h3m0 4h3m-3-1h3m0-3h3m-2 4h3m-1-4h3m2 4h3m-2-4h3m0 0h3m1 4h3m-2-3h3m-3-1h3m-1 3h3m-1-2h3m1 0h3m-2 0h3m-2 2h3m-1-1h3m-1 1h3m-3 0h3m0-1h3m3-1h3m0 1h3m-3 0h3m-1 2h3m-3 0h3m-3-1h3m-3-2h3m0 2h3m-2 1h3m-1-3h3m1-1h3m-2 1h3m-1-1h3m-1 4h3m-2-2h3m1-2h3m-1 2h3m-2 0h3m-3 1h3m-2 0h3m-2-3h3m-1 4h3m-2-3h3m-1 0h3m0 3h3m-3 0h3m-3 0h3m-2-1h3m-2-3h3m-1 2h3m-3-1h3m2 1h3m-3-1h3m-3-1h3m-1 3h3m5-2h3m-3-1h3m-2 2h3m-3 1h3m2 0h3m0-3h3m1 3h3m3-3h3m-2 3h3m-1 1h3m6-2h3m-2 2h3m3-4h3m6 4h3m-2 0h3m8 0h3m-2-3h3m-1 2h3m-383 2h3m6 1h3m24 3h3m9-3h3m6-1h3m6 0h3m3 0h3m14 2h3m5 1h3m-1-2h3m9 0h3m0 3h3m-2-3h3m0 3h3m9-4h3m0 4h3m5-4h3m12 3h3m-1 0h3m-2-2h3m5-1h3m1 4h3m-1-1h3m0-3h3m2 3h3m0-2h3m5 1h3m-2 2h3m-1-2h3m0-2h3m0 3h3m-1-2h3m1 1h3m-1-2h3m3 1h3m0 3h3m-1-4h3m-1 0h3m-2 1h3m-3-1h3m-1 1h3m-2-1h3m-2 0h3m-3 0h3m-1 3h3m-1-2h3m0-1h3m3 3h3m-3-1h3m0-2h3m-2 0h3m-2 3h3m-2 0h3m-2 1h3m-1-3h3m-2-1h3m-3 2h3m5 2h3m1-3h3m-2 0h3m-3 3h3m-2-4h3m-2 3h3m-2-1h3m-1 2h3m-2-2h3m1 0h3m2-1h3m-3-1h3m-1 4h3m-3 0h3m-2-4h3m-2 4h3m-2-1h3m0-2h3m-1 2h3m-1-1h3m-2-2h3m-3 0h3m-3 3h3m0 1h3m-3-1h3m2-1h3m2 2h3m0-4h3m-2 3h3m-2-1h3m-1-2h3m-1 0h3m0 3h3m-1-2h3m-2 1h3m0-1h3m-2 3h3m-1-4h3m-1 3h3m-3-2h3m-3 1h3m-2-2h3m1 0h3m-2 0h3m-2 2h3m0 2h3m0 0h3m-2-4h3m-2 1h3m-2 0h3m-2 3h3m-2 0h3m1-3h3m-1 2h3m-3 0h3m0-1h3m-3-2h3m1 4h3m15 0h3m0-4h3m-1 4h3m-400 4h3m4 0h3m66-2h3m8-1h3m42 2h3m-1 0h3m3 0h3m7 1h3m-3-3h3m-2 3h3m26-3h3m1 1h3m-3-1h3m-2 3h3m1-2h3m1 1h3m2 0h3m4 0h3m-3 0h3m1 2h3m-3-1h3m-2-1h3m7 2h3m5-2h3m0 2h3m6-2h3m-1 1h3m-2-1h3m-1 2h3m-1 0h3m1 0h3m-3-4h3m-1 3h3m0-3h3m-2 2h3m-2 0h3m-1 1h3m-3-1h3m-1-2h3m0 4h3m0-3h3m-2-1h3m-2 1h3m-3 3h3m-1 0h3m-2 0h3m3-4h3m0 3h3m-1-2h3m-1 0h3m-1 0h3m-2 2h3m5 1h3m-2-3h3m-1-1h3m-3 1h3m0 0h3m-1 3h3m-2-1h3m-2 1h3m-1-3h3m-1 2h3m-1-2h3m-3 0h3m2 1h3m3 0h3m3-2h3m-2 4h3m2 0h3m-2-4h3m1 2h3m-3 2h3m1 0h3m-2-4h3m-3 2h3m-1-2h3m4 0h3m-2 3h3m-1-2h3m-2 3h3m-2-3h3m-1 2h3m-2-1h3m-1-1h3m-1-1h3m-1 2h3m-2 2h3m-2 0h3m-3-3h3m-2 1h3m-3 2h3m-1-3h3m6 1h3m-3-1h3m1-1h3m10 3h3m-1-3h3m-3 2h3m-397 7h3m6-1h3m15-1h3m10 2h3m18-1h3m5 1h3m4 0h3m13-2h3m27 0h3m8 1h3m2 0h3m11 1h3m3-4h3m2 3h3m-2-2h3m0 3h3m7 0h3m-1 0h3m5-2h3m-2-2h3m2 4h3m0-3h3m1 0h3m1 3h3m3-3h3m-2 1h3m-2 0h3m18-1h3m-3-1h3m-2 0h3m-1 1h3m-2 3h3m-1 0h3m-3 0h3m0-1h3m-3 0h3m-1-3h3m-1 1h3m-2 3h3m-3 0h3m-2-1h3m-1 0h3m-3 1h3m7-2h3m-3 0h3m-1 0h3m-2 2h3m-3-4h3m-2 2h3m-3-2h3m-2 0h3m-2 3h3m-1-1h3m-3 2h3m-3-3h3m-3 0h3m-1 1h3m-3 0h3m-2 1h3m-3-1h3m-2 0h3m-2 2h3m-3-1h3m-2 0h3m0-2h3m-1-1h3m-1 4h3m-2-2h3m-2-2h3m0 2h3m-2-2h3m2 4h3m-2-4h3m-3 1h3m-1-1h3m-3 0h3m-1 4h3m-3-3h3m1 3h3m-3-1h3m-2 1h3m-2 0h3m-2-3h3m0 2h3m-2-1h3m-1-2h3m1 4h3m-1-4h3m-1 1h3m-3 1h3m-1-1h3m-3-1h3m-2 0h3m-2 0h3m-3 2h3m-2-1h3m0 3h3m6-1h3m-1 1h3m-2 0h3m0 0h3m0 0h3m0-1h3m-2 0h3m1-2h3m-3 2h3m3-2h3m1 2h3m1 0h3m-1 1h3m5 0h3m2-1h3m-3-3h3m0 0h3m-363 5h3m21 0h3m45 3h3m8-2h3m15 3h3m11-1h3m-3 0h3m-1-3h3m-3 3h3m13 0h3m5 0h3m3 1h3m7 0h3m0 0h3m-1-2h3m-3-1h3m-3 1h3m2 1h3m-2 0h3m3 0h3m7 1h3m-1-3h3m0 3h3m2-4h3m-1 2h3m0-1h3m-3-1h3m-3 4h3m-2-1h3m-2-2h3m-1-1h3m-2 3h3m-3 1h3m-2 0h3m-3-1h3m-2 0h3m-2 1h3m-3-2h3m-2 0h3m0 1h3m-2-1h3m-2 2h3m-2-3h3m-1 2h3m-2-3h3m-1 0h3m-1 3h3m-2-2h3m-1 3h3m-1-3h3m-3 1h3m-1 1h3m-2 1h3m-3 0h3m-1-3h3m-2 1h3m-3 1h3m-1 0h3m4-1h3m-2 2h3m-2-2h3m-3 0h3m-2 1h3m-3 0h3m-2-1h3m0-1h3m-3 1h3m-1 0h3m-3 1h3m-2-2h3m-3 3h3m-1-3h3m-3-1h3m-2 0h3m-3 4h3m-2-2h3m-2-1h3m-1 2h3m-3-2h3m-3 3h3m1-4h3m0 4h3m-2 0h3m-2-2h3m0-2h3m-1 1h3m-2 1h3m-3-1h3m-2-1h3m1 2h3m-1-2h3m-1 2h3m2-1h3m0 1h3m-3 2h3m-2 0h3m-2-2h3m-2 1h3m-2-1h3m-2-1h3m-3 2h3m-2-1h3m-2-2h3m-2 2h3m-3-2h3m-2 3h3m-2-3h3m-2 4h3m-3-2h3m-2-2h3m0 2h3m-3-2h3m0 0h3m-3 4h3m-3-3h3m-3 0h3m-2 2h3m-2-2h3m-2 1h3m2-2h3m2 3h3m-3-2h3m-2 2h3m-3 1h3m0-3h3m0 1h3m-1-1h3m0 2h3m4-3h3m-2 3h3m-2-3h3m-2 4h3m-2 0h3m5-1h3m3 0h3m0-1h3m0 0h3m-388 3h3m12 0h3m-1 1h3m25 1h3m16-1h3m22 2h3m16-3h3m1 3h3m1 1h3m13-4h3m3 0h3m-1 0h3m-2 0h3m15 3h3m-2 0h3m-2-2h3m-1 3h3m-3-4h3m2 0h3m-1 2h3m-1 0h3m-2 1h3m-2-2h3m4 3h3m-2-3h3m-3 1h3m-2 1h3m0-3h3m-2 4h3m0-3h3m-3 0h3m-3-1h3m2 3h3m0-1h3m-1 0h3m-1 2h3m-1 0h3m2-3h3m-3-1h3m3 0h3m-2 1h3m2 1h3m-2 0h3m-3 0h3m0-1h3m-2 0h3m7-1h3m-2 3h3m-2 1h3m-3-1h3m2-1h3m-2 1h3m-3-3h3m-1 3h3m1-1h3m-3 1h3m-3 0h3m0 0h3m-3 0h3m-2-2h3m-3 2h3m-2-3h3m-1 1h3m-2 2h3m-3-1h3m-3 0h3m0-1h3m-3-1h3m-1 0h3m-1 4h3m-2-2h3m1-1h3m-1-1h3m0 1h3m-2 1h3m-3 1h3m-1-1h3m-3 0h3m-1 2h3m-2-2h3m-2 2h3m-3 0h3m3-3h3m-3 0h3m-1 3h3m0-2h3m-2-1h3m-2 2h3m-2 1h3m-2-1h3m-1-3h3m-2 4h3m-1-3h3m-3 1h3m-2-2h3m1 1h3m4 3h3m2 0h3m-3 0h3m-2 0h3m1 0h3m-2 0h3m-3-1h3m6-2h3m2 1h3m6-2h3m-1 3h3m-3-3h3m2 3h3m0-1h3m-2 1h3m-1-1h3m-3 1h3m-1 1h3m5 0h3m-2-3h3m0 0h3m5 3h3m-1-3h3m3 2h3m-402 2h3m21 1h3m7-1h3m-2 0h3m6 1h3m-2 2h3m-2 1h3m4-4h3m7 1h3m6-1h3m3 3h3m3-1h3m20-2h3m-2 2h3m4-2h3m0 4h3m30-3h3m-1 0h3m1 0h3m-3 0h3m10-1h3m2 2h3m-2-1h3m-1 1h3m-2 1h3m-3-3h3m4 0h3m0 1h3m-3 1h3m-2 1h3m-2-2h3m3 2h3m2 1h3m1-1h3m-2 0h3m-3-3h3m-1 0h3m-3 4h3m-2-3h3m-2 2h3m-3-3h3m1 3h3m0-2h3m-2 3h3m0 0h3m1-1h3m0-2h3m-2 3h3m-3 0h3m2 0h3m-2 0h3m-2-4h3m-3 4h3m-3-3h3m-3 1h3m0-2h3m-3 2h3m-2 1h3m-1-1h3m-2 2h3m-3-1h3m-1 0h3m-2 1h3m0-1h3m-1 0h3m0 0h3m-3-3h3m-2 1h3m1 0h3m-1 1h3m1 0h3m-1 1h3m-2 0h3m-2 1h3m0-3h3m-3-1h3m-2 4h3m1-2h3m2-2h3m-1 3h3m-1-2h3m-3 3h3m-1-3h3m0 1h3m-3-2h3m-3 3h3m-3 1h3m-2-4h3m-2 2h3m-3 0h3m-2 1h3m-3-3h3m-1 3h3m1-1h3m-3 0h3m-3 2h3m-2-3h3m-1-1h3m-3 2h3m-2 0h3m-2-2h3m-3 4h3m-2-1h3m-3-1h3m-1-2h3m-1 4h3m-1 0h3m-1-1h3m-2 0h3m-1-1h3m-2 2h3m-2 0h3m-3-3h3m3 1h3m-2-2h3m5 4h3m-2-2h3m-1-2h3m-3 2h3m-2-2h3m3 2h3m-3 0h3m-2 1h3m0 1h3m0-1h3m-1-3h3m0 4h3m-2-1h3m-1 1h3m6-2h3m-2 1h3m0 1h3m-3 0h3m-1-2h3m-2 0h3m1 0h3m-2-2h3m-3 0h3m17 0h3m-3 4h3m-3-3h3m-400 8h3m8-4h3m22 4h3m2-1h3m3-3h3m5 1h3m0-1h3m2 4h3m11-4h3m14 1h3m2-1h3m1 2h3m2 2h3m7-4h3m-1 4h3m3-2h3m-3 0h3m11-2h3m6 0h3m-2 3h3m5-1h3m-1-1h3m2 2h3m-2 1h3m-2 0h3m5-3h3m3 2h3m-1 0h3m0-2h3m-2 0h3m-2-1h3m0 2h3m-2-1h3m-2 0h3m-3 0h3m-2 3h3m-2-3h3m-3 2h3m-1-1h3m5-1h3m-3 0h3m-2 0h3m-2 0h3m-1 2h3m-2 1h3m-2-1h3m-1-2h3m1-1h3m-1 4h3m-3 0h3m-1-4h3m-2 1h3m1 0h3m4 3h3m-2-2h3m-2 2h3m-3-4h3m2 2h3m-3 2h3m-3-2h3m-2-2h3m-2 0h3m-2 0h3m0 4h3m-2 0h3m-1-1h3m-3-3h3m-2 0h3m-3 1h3m-2-1h3m-2 4h3m-3 0h3m-2-2h3m-1-1h3m-3 3h3m-2-3h3m2 2h3m0-1h3m-3-2h3m-3 0h3m-2 2h3m-2-1h3m-2 2h3m-2 1h3m-3-4h3m-3 2h3m1-1h3m-2 3h3m0-3h3m-2 2h3m-2-2h3m-1 1h3m0-2h3m-2 1h3m-2 1h3m-3 1h3m-3-3h3m-3 4h3m-2-3h3m-1 1h3m-3-2h3m-2 4h3m-3-3h3m0 2h3m-2 0h3m-3-2h3m-1-1h3m-2 2h3m-3-1h3m-2 0h3m-3 3h3m-3-3h3m-3 2h3m-2-3h3m0 4h3m-3-2h3m-1 1h3m0-2h3m-1 0h3m-1-1h3m1 3h3m-2-3h3m0 0h3m3 1h3m-3 2h3m-3-3h3m-2 3h3m-3 0h3m-1-3h3m0 4h3m-1 0h3m-1-4h3m0 4h3m-3-1h3m-2 1h3m-1-3h3m-2 0h3m-2 0h3m0 1h3m-2 1h3m-3-2h3m-2 2h3m-2-3h3m-3 1h3m-1 0h3m0 2h3m-2-3h3m5 4h3m-3-2h3m-2-1h3m-3 3h3m-2 0h3m-3-4h3m-2 2h3m4-2h3m5 4h3m-2 0h3m6-3h3m1-1h3m-391 6h3m21 2h3m11-2h3m0 0h3m21 0h3m3 3h3m4 0h3m1-1h3m9 0h3m13-2h3m-1 3h3m4-2h3m8 1h3m-2 0h3m6 0h3m0 0h3m2 1h3m-1-1h3m3-3h3m-2 0h3m-3 4h3m0-3h3m0-1h3m-3 3h3m-2-3h3m3 0h3m6 4h3m-2-2h3m2 1h3m-3-1h3m-2-2h3m0 4h3m-1 0h3m-2 0h3m-2-1h3m-1 1h3m-2-1h3m-3-2h3m-1 3h3m0-4h3m3 1h3m-2 1h3m-1 1h3m-1 1h3m-2-3h3m-2 0h3m0 2h3m-3 0h3m-3-2h3m-2 1h3m3 1h3m-2-2h3m-3 2h3m-2 0h3m1-2h3m0 3h3m-3 0h3m-1-1h3m-3-3h3m-1 0h3m-1 0h3m-3 4h3m-1-4h3m-2 3h3m-3-1h3m3 1h3m-1 0h3m-3 1h3m-1 0h3m-2-4h3m-2 2h3m-2-1h3m-2 2h3m-2 1h3m-3-4h3m1 4h3m-3-2h3m0 1h3m-1-1h3m0 1h3m-1 1h3m-3-2h3m1 1h3m-3 1h3m2-1h3m-3 0h3m-2-3h3m-2 2h3m0 2h3m-2-3h3m-3 2h3m-3 1h3m-3 0h3m-2 0h3m-3-1h3m0 0h3m0-2h3m-3 0h3m-3 3h3m-1-3h3m-3 1h3m-2-2h3m-2 3h3m0-3h3m-1 3h3m-3-1h3m-3 0h3m-2 2h3m-1-3h3m-1-1h3m0 1h3m-2 2h3m-3-1h3m-3-1h3m0-1h3m-3 1h3m0 1h3m2-2h3m-1 1h3m-2 2h3m-2-1h3m-1-2h3m6 4h3m-2-4h3m0 2h3m-2 2h3m7-2h3m-1-1h3m-2 1h3m-1 1h3m-2 0h3m-2-2h3m0-1h3m0 2h3m-2-2h3m-2 2h3m-3 1h3m1-1h3m0 1h3m2 1h3m-3 0h3m3-1h3m-1-2h3m-409 6h3m31 1h3m29 1h3m4-1h3m18-1h3m7 1h3m0-2h3m-1 0h3m-3 1h3m-2 1h3m-1-3h3m0 1h3m12 2h3m-3-2h3m-2-1h3m-1 3h3m4-1h3m0-1h3m5 1h3m8 0h3m-3 2h3m-1-1h3m12-2h3m-3 3h3m2-1h3m2-2h3m1 3h3m1 0h3m-2 0h3m-2-4h3m-1 2h3m-1-2h3m1 4h3m-1-3h3m-1 3h3m-3-1h3m-2-1h3m-2 2h3m-1-1h3m-1-2h3m2 0h3m0 3h3m-3-3h3m-3 3h3m-1-3h3m-3-1h3m-2 2h3m-3 1h3m-2 0h3m0-1h3m0 1h3m-3 1h3m-1-1h3m-1 0h3m-2 0h3m-2-1h3m1 0h3m-2 0h3m-3 1h3m0 1h3m0-4h3m-1 2h3m-3 2h3m-2-4h3m-2 2h3m-1 2h3m2-3h3m-1 1h3m-2-2h3m-3 4h3m-2-2h3m-3 2h3m-2-4h3m-3 1h3m-3 2h3m-2-2h3m-1-1h3m-3 0h3m-2 1h3m-2 3h3m-2-1h3m3 0h3m-2 0h3m-2 1h3m2-3h3m0 1h3m1 1h3m-3-3h3m-3 0h3m-1 4h3m-2-1h3m-3 1h3m-3 0h3m-1-3h3m-2 1h3m-1-1h3m-2 1h3m-1 2h3m-3 0h3m-3-1h3m0 1h3m0-2h3m-2 2h3m-3-1h3m-2-2h3m-3 0h3m-1 0h3m-3 2h3m-1-1h3m3 1h3m0-3h3m-2 4h3m0-1h3m2 0h3m-1 1h3m-2-3h3m-1 1h3m-2 1h3m-1-1h3m-2 0h3m2-1h3m-1-1h3m-1 4h3m-3 0h3m-2-1h3m-3 0h3m0-2h3m-1 2h3m0-3h3m-3 0h3m0 0h3m0 1h3m-1 1h3m1 0h3m-2-2h3m-2 1h3m-1 0h3m-2 2h3m-2-1h3m-2-1h3m-3 0h3m-1-1h3m-1 2h3m2 1h3m-2 0h3m-3-3h3m0 4h3m-2-2h3m3-1h3m0 0h3m0 2h3m-2-1h3m-1 0h3m-408 6h3m13 1h3m3-3h3m-3 1h3m9-1h3m0 1h3m-2 0h3m0-1h3m2-1h3m2 0h3m7 4h3m3-3h3m7 1h3m12 1h3m0-1h3m-1 0h3m24 2h3m0-3h3m-1 1h3m-1-2h3m1 3h3m-1-1h3m9-1h3m-1-1h3m-2 0h3m1 4h3m-2-2h3m-1 1h3m0-1h3m-1 2h3m-1-1h3m-1 1h3m-3-2h3m13 2h3m-1-1h3m-2-3h3m-1 2h3m-1 0h3m2-2h3m-3 0h3m-3 3h3m3 1h3m2-4h3m1 0h3m3 1h3m1-1h3m-3 4h3m-1 0h3m0-1h3m-3 1h3m0-2h3m-3-2h3m-2 2h3m0-2h3m-2 1h3m-3 3h3m-1 0h3m-3 0h3m-2-1h3m-1-3h3m-2 1h3m-1-1h3m-2 4h3m-3-4h3m-3 4h3m-2-2h3m-2-1h3m-1-1h3m2 2h3m-1 0h3m-2-2h3m2 1h3m-3 1h3m0-2h3m-2 0h3m-3 4h3m-2-1h3m-3-3h3m-3 0h3m-2 2h3m-2-2h3m0 2h3m-3 1h3m-2-2h3m-2-1h3m-1 3h3m-3-3h3m-2 0h3m-2 0h3m-3 3h3m-2 1h3m-2-4h3m-3 1h3m-2 0h3m-3 2h3m-2-2h3m-3 2h3m-1-2h3m-3 0h3m-1 2h3m-2-2h3m0-1h3m1 0h3m-3 1h3m0 1h3m-1 1h3m-3-2h3m-2 2h3m-2-1h3m-3-2h3m-3 2h3m-1 0h3m2 0h3m1-2h3m-3 1h3m4 0h3m-3 3h3m2-2h3m-1-2h3m-2 1h3m-3 2h3m-2-2h3m-2 3h3m-3-2h3m-2-2h3m-2 2h3m-2 0h3m-1-2h3m-2 3h3m-2 1h3m-2-1h3m-2-2h3m-3 2h3m-1 1h3m-3-3h3m-1 1h3m-2-1h3m1-1h3m3 0h3m-3 3h3m-2-2h3m-1-1h3m1 1h3m0 3h3m-1-3h3m-1-1h3m-2 3h3m0 1h3m-2 0h3m-1-4h3m-2 4h3m-2 0h3m8-4h3m-1 4h3m1-1h3m-1-3h3m9 4h3m-405 1h3m30 2h3m6-1h3m3 1h3m-2 1h3m6 0h3m4-1h3m1-1h3m6 3h3m0-4h3m-2 0h3m9 1h3m15-1h3m12 1h3m5 2h3m-2 1h3m-3 0h3m-1-4h3m0 0h3m-1 3h3m-2-1h3m-1-1h3m2 3h3m0-1h3m0 0h3m0-3h3m-3 2h3m-2-2h3m7 1h3m-1-1h3m-1 4h3m-2-2h3m-3-1h3m-2 0h3m1 0h3m-2 1h3m3 1h3m-1-1h3m-2-1h3m-1 2h3m1 1h3m-3-2h3m-2 0h3m-3-1h3m-2 1h3m-2 1h3m4-3h3m0 1h3m-3 1h3m-1-2h3m-3 0h3m-2 3h3m-3 0h3m-2 0h3m0 0h3m-2-1h3m-2-2h3m-2 1h3m-3 2h3m-3-1h3m-3 0h3m-3 2h3m1 0h3m-1-2h3m-2 2h3m-2-1h3m-3-3h3m-3 1h3m-2 0h3m-3 3h3m0-2h3m-1 1h3m-2 1h3m-2-4h3m-3 3h3m8-1h3m-3 1h3m-3-2h3m-2 2h3m-3 0h3m0 1h3m-3-4h3m-1 1h3m-3 0h3m-3 0h3m-2 1h3m-2 2h3m-2-2h3m-3-2h3m-1 0h3m-3 2h3m2-1h3m-3-1h3m-3 3h3m-2 0h3m-2-3h3m-1 4h3m-3-4h3m-2 2h3m-2 0h3m-3 1h3m-2 0h3m-1-3h3m-2 3h3m-2-2h3m-3 3h3m-2-3h3m-2 2h3m-2-3h3m-3 0h3m-3 4h3m-2 0h3m-3-3h3m-2 1h3m-3 1h3m0-3h3m-3 0h3m0 0h3m-3 4h3m-2-3h3m1-1h3m-1 2h3m-2 1h3m-3-2h3m-3 3h3m-2 0h3m-1-3h3m-3 1h3m-2-2h3m-2 1h3m-3 3h3m-2-1h3m-3-3h3m-2 1h3m-2 3h3m-2-2h3m-1 0h3m-3 2h3m-2 0h3m5-4h3m-3 4h3m-3-2h3m0-1h3m1 1h3m0 1h3m-3 1h3m0-1h3m-1 0h3m-3-2h3m0 0h3m0 0h3m0 2h3m0-3h3m-3 2h3m-2 0h3m-2-2h3m3 2h3m3 1h3m2-2h3m-2 1h3m-2 0h3m-3 2h3m-2-4h3m-2 0h3m-2 4h3m-2-1h3m-2 1h3m-2-2h3m-2-1h3m-3 1h3m2 0h3m0-2h3m1 4h3m0-4h3m-2 2h3m2 0h3m-2-1h3m-385 5h3m8 3h3m19-1h3m9-2h3m8 3h3m37-4h3m1 0h3m4 0h3m-1 0h3m20 4h3m3-3h3m0 3h3m-1-1h3m-1-2h3m1 2h3m-3-3h3m-2 2h3m-1-1h3m0 2h3m1-1h3m-3 1h3m3-3h3m8 3h3m-2 0h3m0-2h3m0 0h3m2 0h3m-3-1h3m1 4h3m-2-3h3m-1 3h3m-3-2h3m-1 1h3m1-1h3m-3-1h3m-1 2h3m1-2h3m-2-1h3m-3 1h3m-2 0h3m-3 3h3m-1-3h3m2-1h3m-1 4h3m-2-4h3m2 4h3m-1 0h3m-1-1h3m-2 0h3m-2-2h3m-2 0h3m-3 2h3m-3 1h3m-2-4h3m2 2h3m-2 2h3m-2 0h3m-3-4h3m1 0h3m-1 4h3m-3-2h3m-2 2h3m1-3h3m-2 1h3m-2-1h3m-2 2h3m1 0h3m-1-3h3m-1 4h3m-1-1h3m-2 1h3m-3-1h3m-3 0h3m-3-2h3m-1 1h3m-1 0h3m-2 0h3m-3 0h3m-3-1h3m0-1h3m-1 1h3m1 1h3m-3-1h3m-1 0h3m-3 0h3m0 1h3m-3-1h3m-3 0h3m-1 2h3m-2-3h3m-2 2h3m-2-1h3m-2 2h3m-3 1h3m-1-1h3m0-3h3m-1 0h3m-3 0h3m-2 2h3m-2 2h3m-2-2h3m-1 1h3m-2 1h3m-3 0h3m3-1h3m-2-2h3m3 1h3m-2-2h3m-3 4h3m2 0h3m-1-2h3m-1 1h3m12-2h3m0 2h3m1-1h3m2 2h3m-2-2h3m0 2h3m9-2h3m-1-1h3m-2 0h3m9 3h3m-2-3h3m-1 3h3m0-2h3m-358 5h3m10-2h3m-2 1h3m29 0h3m27 3h3m-2-4h3m-1 0h3m-3 0h3m5 4h3m2-1h3m6-3h3m-3 1h3m8 2h3m-3-1h3m2-1h3m2 0h3m-2 1h3m-3 1h3m1 1h3m-3-1h3m-2-2h3m-1 2h3m-2-3h3m0 0h3m2 1h3m-2-1h3m-2 4h3m0-3h3m-1 3h3m-2-3h3m4 0h3m-3 2h3m-2 0h3m-2 0h3m6 0h3m0-2h3m-1-1h3m-3 2h3m-2 2h3m-3-2h3m-1 0h3m-3-1h3m-3 2h3m-1-2h3m-2 3h3m-1 0h3m-2-3h3m-1 0h3m0 0h3m-3 0h3m-2 2h3m0 1h3m-2-4h3m-3 2h3m-1 2h3m0-4h3m-3 0h3m-1 2h3m3-1h3m-1 2h3m-3 0h3m-2 0h3m1 0h3m0-1h3m-2-1h3m-2 2h3m-3-1h3m0 2h3m0-3h3m-1 0h3m-2 3h3m-2-1h3m-3 1h3m-3-4h3m-1 2h3m-1 0h3m-2 1h3m-3-2h3m-3 2h3m-2-3h3m-3 3h3m-1-3h3m-3 4h3m-1 0h3m-3-2h3m-3 0h3m-1 1h3m1 1h3m-3-4h3m-1 1h3m0 2h3m-2-2h3m2 0h3m-3 0h3m-2 1h3m-1 2h3m-1-3h3m-2 1h3m3 2h3m-2-2h3m0 2h3m-2-4h3m-2 2h3m-1-2h3m-3 0h3m-2 1h3m-2 0h3m-3 3h3m-3 0h3m-2 0h3m-2 0h3m2-4h3m-1 4h3m-2-3h3m-2-1h3m-3 0h3m0 0h3m-3 1h3m-3 1h3m1 0h3m-3 0h3m-1 1h3m-3-2h3m-2 1h3m-2-1h3m-2-1h3m-1 0h3m-3 1h3m0 0h3m-1 0h3m3 0h3m0 0h3m0 0h3m-3-1h3m0 4h3m0-4h3m-1 1h3m4 1h3m-3 0h3m-3 0h3m-2-1h3m-3 2h3m0 0h3m-1-3h3m11 4h3m1-1h3m-3-3h3m0 3h3m-2-1h3m-396 5h3m21 1h3m-1 0h3m-3-3h3m10 0h3m36 1h3m7 0h3m9-1h3m2 0h3m1 0h3m10 4h3m3-1h3m1-1h3m2 2h3m-3-3h3m3 1h3m-1-1h3m-2 3h3m1-1h3m3 0h3m-3-1h3m-1 1h3m4 0h3m1-1h3m2-1h3m5 1h3m6 0h3m2-1h3m2 0h3m-3 3h3m1 0h3m-1 0h3m0-2h3m0-1h3m-2 0h3m-2 0h3m4 0h3m-1 1h3m-1-1h3m-3 0h3m0 2h3m0-2h3m-2-1h3m-3 2h3m-2 0h3m1-1h3m-3 2h3m-1-3h3m-3 4h3m-2-4h3m3 0h3m1 0h3m-3 4h3m-3-1h3m3 0h3m-3 0h3m-1-1h3m-2 1h3m-1 1h3m-3-4h3m-1 4h3m-2-3h3m0 0h3m0 0h3m-2 0h3m1 0h3m0-1h3m-3 1h3m-1 1h3m4-1h3m-2 1h3m-3 2h3m0-4h3m-3 2h3m-2-1h3m-2 3h3m-1 0h3m-3-3h3m-2 1h3m-3-1h3m-2 3h3m0-2h3m-2 0h3m-3-1h3m-3 0h3m0 3h3m2 0h3m-3-1h3m-3-1h3m-2-1h3m-2 1h3m-2 1h3m-1 0h3m2-2h3m0 3h3m-1 0h3m-2-3h3m1 2h3m-2-1h3m-3 2h3m-1-3h3m-1 0h3m-2 2h3m3-1h3m-2-1h3m-2-1h3m-2 0h3m-2 2h3m-2 0h3m-1 2h3m-1-4h3m2 3h3m-2 1h3m-1-4h3m3 3h3m-2-3h3m-1 1h3m-1 0h3m-3 0h3m10 0h3m-362 8h3m2-2h3m-1 0h3m41 2h3m6-2h3m-1 1h3m19-2h3m8 2h3m-2-1h3m-1 2h3m1-4h3m14 0h3m2 2h3m-2 1h3m1-1h3m0 2h3m-3-1h3m5-2h3m-1 0h3m7-1h3m-1 3h3m0 0h3m4 1h3m0-1h3m0-1h3m0-1h3m2 0h3m-2 3h3m-3-2h3m-3-1h3m-2-1h3m3 1h3m-2 3h3m-2-3h3m-3 1h3m2 2h3m-3-4h3m-1 3h3m-3 0h3m-2-3h3m0 0h3m-3 2h3m1-1h3m-3 2h3m-1-3h3m-2 2h3m-2-1h3m0-1h3m-2 2h3m-1 1h3m-2-1h3m-3-2h3m-2 2h3m1-1h3m-3 2h3m-3 0h3m1-3h3m-3 0h3m-1 4h3m0-3h3m-3 1h3m-2 1h3m-2 1h3m-1 0h3m-2-3h3m-2 0h3m-1-1h3m-3 2h3m-2 1h3m-3-3h3m-1 3h3m-3-1h3m-2 2h3m2-4h3m0 1h3m-2 1h3m-3 1h3m2 1h3m8 0h3m-1-3h3m2-1h3m-3 1h3m-2 3h3m-2-4h3m-1 0h3m8 3h3m-3-3h3m1 4h3m3 0h3m5-1h3m-3 1h3m-2-2h3m-1 2h3m-1-4h3m-3 3h3m2 0h3m-2-3h3m3 2h3m-2-1h3m-3 1h3m-2 0h3m5-2h3m-1 4h3m-1-3h3m1-1h3m-1 0h3m6 3h3m4 0h3m3-2h3m1 3h3m-1-2h3m-395 7h3m3 0h3m-3-2h3m76-1h3m35 2h3m15-1h3m5 2h3m5-1h3m13 1h3m0 0h3m-2-1h3m-2 0h3m5 1h3m-2-1h3m-2 1h3m-1-4h3m-3 0h3m-2 1h3m-2-1h3m-3 0h3m-2 1h3m-2-1h3m-3 1h3m0-1h3m-1 1h3m-2 3h3m-2 0h3m3-4h3m0 2h3m-3-1h3m-3 0h3m0 1h3m-2 2h3m-1-3h3m-3 3h3m-2-1h3m-1-2h3m-1 3h3m-2 0h3m-1-4h3m-2 0h3m-2 4h3m-1 0h3m-2 0h3m0-2h3m-3-2h3m-3 1h3m-2 1h3m-2 0h3m-1-1h3m3 3h3m3 0h3m-2-1h3m1-1h3m-2 0h3m-3 2h3m-2-4h3m-2 2h3m-2 1h3m-1 1h3m-3-1h3m0-1h3m-3-1h3m-2-1h3m-1 4h3m-2-1h3m-3-2h3m-1 1h3m-2 0h3m-2 2h3m-3-2h3m1-1h3m0 3h3m-1-4h3m-1 3h3m-1-1h3m0 2h3m0-1h3m-3-3h3m-2 1h3m-3 2h3m-1-1h3m-3 1h3m-1 1h3m-3-4h3m-2 2h3m-2 2h3m-2-3h3m2 1h3m-3 0h3m-2 1h3m0-1h3m-1 0h3m3 1h3m-2-1h3m1-2h3m0 1h3m0-1h3m-1 0h3m-3 2h3m0-1h3m-2 0h3m-1 2h3m-2 0h3m-3-1h3m-2-2h3m5 3h3m-1 0h3m12-2h3m-1 1h3m1 1h3m13-2h3m-2 3h3m-1-1h3m-379 2h3m22 4h3m26-1h3m11 1h3m25-2h3m-2-2h3m5 4h3m9-3h3m3-1h3m8 3h3m1-1h3m-2-2h3m-2 0h3m3 1h3m-1-1h3m2 3h3m-1-3h3m-3 4h3m-3 0h3m-1-4h3m-2 4h3m5-1h3m-3 1h3m8-3h3m-3 0h3m3 1h3m-2 1h3m1 0h3m-3 1h3m-1-2h3m2 1h3m-2-3h3m-1 2h3m-3-1h3m1 0h3m-2 1h3m-3 1h3m-2-3h3m-3 1h3m0 3h3m1-1h3m1 0h3m-2-3h3m2 0h3m4 1h3m1 1h3m-3 0h3m1-1h3m-2-1h3m-1 2h3m-2-1h3m-3 3h3m-2-4h3m-2 1h3m-2-1h3m-1 3h3m-2-3h3m-2 0h3m-2 2h3m-1 2h3m-2-1h3m-2-3h3m-3 2h3m-3 0h3m-2-2h3m-1 4h3m-1-3h3m-2 1h3m-3-2h3m-1 0h3m-2 0h3m0 3h3m-2 1h3m0-1h3m0-1h3m-3 2h3m-1-4h3m-2 2h3m0-2h3m-2 1h3m-2 0h3m0 0h3m-2 1h3m-3 2h3m1-1h3m0 1h3m-2 0h3m2-4h3m-3 2h3m-2-2h3m-3 4h3m-2-2h3m3-2h3m-1 3h3m4-1h3m-2 1h3m-2 1h3m-1-2h3m1 1h3m-1 1h3m-2-1h3m-2-1h3m-3 1h3m13-1h3m0 1h3m-2 0h3m3-3h3m4 0h3m7 2h3m1 1h3m-400 2h3m11 3h3m4-3h3m23 3h3m24 0h3m7-3h3m30 2h3m12 0h3m19 0h3m6-1h3m-1 2h3m-3 1h3m0-3h3m8 3h3m-1-4h3m1 1h3m-2 0h3m-1 3h3m6-2h3m3-2h3m-2 1h3m1 2h3m1-3h3m-1 1h3m-1 1h3m-2-2h3m4 3h3m-1 1h3m6-1h3m-2-3h3m-2 1h3m-1 1h3m-2-2h3m-1 2h3m-1 0h3m-3 1h3m-3-3h3m-2 0h3m0 1h3m0 2h3m2 1h3m-3-3h3m-2 1h3m-3 0h3m-1 1h3m-2 0h3m-3 1h3m0-3h3m2 2h3m-1 0h3m-1 0h3m1-3h3m0 3h3m-2 1h3m1 0h3m-3-3h3m3 3h3m0-2h3m-2 2h3m5 0h3m0-4h3m6 3h3m2-2h3m-1 0h3m-1 2h3m0-3h3m-1 4h3m-3 0h3m4-2h3m-1 2h3m-2-2h3m-3-1h3m3 2h3m0-3h3m0 4h3m1-4h3m-1 3h3m5 1h3m5-3h3m4-1h3m-2 3h3m0 0h3m-368 5h3m60 0h3m8-1h3m2-2h3m28 4h3m1-3h3m3-1h3m4 2h3m7 1h3m4-3h3m-2 2h3m1-1h3m-3 0h3m1 3h3m1-3h3m2 3h3m2 0h3m-1-2h3m0-1h3m-2 0h3m-2 3h3m1-2h3m4 2h3m-2-3h3m-2 3h3m-1-2h3m-1 2h3m-2-1h3m-3 0h3m0-2h3m-3 2h3m-1 0h3m-2-1h3m1 2h3m-1-3h3m0 3h3m-2 0h3m-1-1h3m-2-2h3m-1 0h3m-3-1h3m-2 1h3m-1 3h3m-3 0h3m-1-1h3m-2-2h3m-3-1h3m-2 3h3m-1 0h3m0-3h3m-3 4h3m-2-3h3m2 2h3m-2 0h3m-2-2h3m-3 0h3m-2-1h3m-3 2h3m2 1h3m-2 1h3m1-4h3m-3 0h3m-1 0h3m-2 4h3m-2-2h3m-3-2h3m0 0h3m-2 2h3m4 1h3m-1-3h3m-2 4h3m-2-4h3m2 1h3m-1 2h3m-1-2h3m1 0h3m1 3h3m-1 0h3m-1 0h3m-2-1h3m0-2h3m-1-1h3m-2 4h3m1-4h3m-3 2h3m-2 2h3m-2-1h3m1-1h3m2 0h3m-2 0h3m-3 0h3m-1-2h3m0 0h3m-2 4h3m-1-4h3m-1 2h3m-1-1h3m4 1h3m3-2h3m-1 0h3m0 2h3m-2 2h3m0-4h3m3 1h3m-2 2h3m-1-2h3m8 1h3m4-2h3m3 0h3m-340 5h3m10 3h3m0 0h3m22 0h3m5 0h3m24 1h3m9-4h3m8 2h3m-2-1h3m3 0h3m11 0h3m-1 3h3m-1-1h3m0 1h3m0-1h3m5-1h3m1 1h3m4-1h3m-1-1h3m-2 3h3m-1-4h3m-1 4h3m2-1h3m-2 1h3m0-3h3m-2 1h3m0-2h3m1 1h3m0 2h3m-2-3h3m4 2h3m3-1h3m-1 0h3m-1 2h3m-2-1h3m-2 2h3m4-4h3m-2 1h3m-3 0h3m-1 1h3m-2-2h3m-2 1h3m-2-1h3m0 2h3m-3-2h3m-2 3h3m-1 0h3m-3-2h3m-2-1h3m0 0h3m-2 4h3m-1-2h3m-1-2h3m-2 3h3m0 1h3m-1-4h3m0 0h3m-3 1h3m0 1h3m-2-2h3m-2 0h3m3 3h3m-1-3h3m-1 1h3m-2 3h3m4-2h3m7 0h3m-3 1h3m0-3h3m9 3h3m-2 1h3m3-3h3m28-1h3m17 0h3m0 4h3m9-1h3m-362 5h3m33-2h3m4 0h3m52 3h3m4-3h3m2 0h3m-2 3h3m2-2h3m1 1h3m-1-1h3m0 0h3m0-1h3m0 3h3m8 0h3m22-3h3m-2 3h3m-3-3h3m-1 3h3m-3-1h3m-2 0h3m-2 0h3m0 0h3m5 1h3m-2-1h3m-2-3h3m0 0h3m-3 3h3m-3-1h3m-2 2h3m-3-2h3m1-2h3m-2 3h3m-2-1h3m-2 2h3m-2-3h3m-1 3h3m-1-4h3m-1 2h3m-3-2h3m-3 4h3m1-1h3m3-2h3m-1 1h3m3-1h3m1-1h3m-2 0h3m-3 0h3m1 4h3m-3 0h3m-2-4h3m0 1h3m2 0h3m-3 1h3m-3 1h3m-1-2h3m-1 1h3m3 2h3m-3-2h3m-2-2h3m2 1h3m0 2h3m-3-2h3m-2 0h3m1 2h3m5-3h3m0 4h3m-3-2h3m0 1h3m-3 0h3m-1-3h3m-2 3h3m-2 0h3m-3-2h3m-3 0h3m4 1h3m6 0h3m-1 0h3m-3-2h3m1 2h3m-2 2h3m-1 0h3m0-4h3m2 1h3m9 0h3m-2 1h3m-2-2h3m16 0h3m8 0h3m-386 5h3m29 0h3m21 0h3m13 3h3m37 1h3m4-3h3m7 1h3m3-2h3m0 4h3m3 0h3m-2-3h3m3 2h3m0 1h3m8 0h3m2-2h3m-2 0h3m-1-2h3m-3 3h3m10 1h3m-1-3h3m-1 2h3m-1 1h3m-1-4h3m2 1h3m-2-1h3m-3 2h3m-1-2h3m-2 3h3m-2-1h3m-1 2h3m-3 0h3m7-1h3m-2-2h3m-3 0h3m-2 3h3m-3 0h3m6-4h3m-3 2h3m-1-2h3m-2 0h3m6 3h3m1-3h3m-3 1h3m0 1h3m-2-1h3m-1 1h3m-2-2h3m0 1h3m-3 2h3m6-1h3m0 0h3m-2-2h3m0 4h3m-2-3h3m0 1h3m5-1h3m-3 2h3m0 1h3m-3-4h3m7 2h3m-1-2h3m1 1h3m-3-1h3m1 4h3m5 0h3m-2-1h3m1-1h3m-2 1h3m0 0h3m-2-1h3m0 1h3m9 1h3m3-2h3m10-2h3m18 4h3m0-1h3m0 0h3m-412 3h3m13 2h3m11-2h3m-2-1h3m-3 0h3m108 4h3m1 0h3m22-2h3m8 2h3m3-1h3m-2-2h3m-3 3h3m1 0h3m14-2h3m1-2h3m2 1h3m2 1h3m1 2h3m7-1h3m-3 0h3m4-2h3m-2 1h3m2 0h3m0 0h3m-3 0h3m-2-2h3m5 0h3m1 3h3m-2-3h3m1 0h3m-1 2h3m-2-1h3m-2 1h3m-1-2h3m-1 3h3m-1-3h3m4 1h3m0 3h3m-1 0h3m-1-4h3m2 0h3m-2 3h3m-2-3h3m3 1h3m2 2h3m6-2h3m6 0h3m11 1h3m0 1h3m8 1h3m-3-2h3m6-2h3m2 2h3m-2-2h3m17 1h3m1 3h3m-396 5h3m40-1h3m21-3h3m62 1h3m13 2h3m-1 1h3m-2-1h3m6-3h3m-3 1h3m-1 0h3m0 2h3m3 0h3m-2 1h3m-3-4h3m-1 3h3m-1-2h3m1 1h3m-1 1h3m6 0h3m-2-2h3m5 3h3m2-4h3m-1 1h3m5 1h3m8 2h3m3 0h3m-1-2h3m2-2h3m-2 4h3m5-2h3m2-2h3m2 1h3m2 3h3m3-1h3m-3 0h3m2-3h3m-3 4h3m0-4h3m-2 4h3m-1-2h3m-2 0h3m1-2h3m3 4h3m3-3h3m2 0h3m2 3h3m1-1h3m12-3h3m-2 3h3m2-3h3m10 4h3m1-2h3m7-1h3m-3 1h3m8-2h3m-279 7h3m-2 2h3m37-1h3m15-3h3m1 0h3m15 4h3m1 0h3m-3-2h3m9 0h3m2-1h3m9-1h3m8 2h3m4-2h3m-3 4h3m2-2h3m7-1h3m15 2h3m-2-2h3m-2 1h3m2-2h3m-2 0h3m-2 3h3m2-2h3m5 1h3m1-2h3m13 1h3m-2 1h3m-1 2h3m1-2h3m2-1h3m9 3h3m1 0h3m5 0h3m6-4h3m-2 0h3m11 2h3m-369 7h3m3 0h3m14 0h3m2 0h3m6-2h3m0 2h3m58 0h3m5 0h3m3 0h3m6 0h3m-2-2h3m5 0h3m-3 2h3m10 0h3m0-3h3m-2 3h3m0 0h3m6 0h3m4 0h3m-2 0h3m-2 0h3m-3 0h3m-2 0h3m-2 0h3m0 0h3m-3 0h3m-2 0h3m-2 0h3m-1 0h3m-3 0h3m1-1h3m-2 1h3m0 0h3m-1 0h3m-1 0h3m0 0h3m1 0h3m1 0h3m-3 0h3m-2 0h3m-2 0h3m-3 0h3m-2 0h3m-1-3h3m5 3h3m-3 0h3m-3 0h3m0 0h3m1 0h3m5 0h3m0 0h3m-2 0h3m-2 0h3m-2-2h3m0 2h3m-2 0h3m-3-2h3m-1 2h3m-3 0h3m0 0h3m-2-2h3m1 2h3m1 0h3m-3-2h3m-3 2h3m-2 0h3m-1-4h3m1 4h3m0 0h3m-1 0h3m-2 0h3m-2-1h3m-2 1h3m-3 0h3m-1 0h3m-3 0h3m0 0h3m0 0h3m-1-3h3m1 3h3m-2 0h3m-2 0h3m-3 0h3m-2 0h3m-3 0h3m0 0h3m-3-2h3m-3 2h3m-2 0h3m-3 0h3m-1 0h3m-1 0h3m-2-4h3m-2 4h3m0 0h3m-3 0h3m-2-3h3m0 3h3m-3-2h3m-3 2h3m-3 0h3m-2 0h3m1-2h3m-1 0h3m-1 2h3m-3 0h3m-3-1h3m-2 1h3m-2-2h3m-2 2h3m-2-2h3m-2 2h3m-1 0h3m-3 0h3m5 0h3m-2 0h3m-1 0h3m-1 0h3m1 0h3m-3 0h3m-2 0h3m0 0h3m-2 0h3m-2-2h3m7 2h3m-1-1h3m0-2h3m-3 3h3m3-1h3m1 1h3m-3 0h3m-3 0h3m3 0h3m2 0h3m5-3h3m-3 2h3" stroke="#000" stroke-opacity=".8" stroke-width="3.2" fill="none"/>
</g>
<rect x="296.2" y="296.5" width="84.40000000000003" height="80.5" fill="none" stroke="#6a6a6a" stroke-width=".8"/>
<path d="M295.5 296.5V377" stroke="#555" stroke-width="1.3" stroke-dasharray=".9 1.1" fill="none"/>
<path d="M296.2 377.7H380.6" stroke="#555" stroke-width="1.3" stroke-dasharray=".9 1.1" fill="none"/>
<line x1="321.5" y1="296.5" x2="321.5" y2="377" stroke="#444" stroke-width="0.9"/>
<line x1="296.2" y1="343.2" x2="380.6" y2="343.2" stroke="#444" stroke-width="0.9"/>
<g transform="translate(292.5 377.7) rotate(-90)" fill="#4a4a4a"><text x="-2.5" y="0" font-size="4" stroke="none">10</text><text x="2" y="-1.9" font-size="2.9" stroke="none">0</text></g>
<g transform="translate(296.7 383.3)" fill="#4a4a4a"><text x="-2.5" y="0" font-size="4" stroke="none">10</text><text x="2" y="-1.9" font-size="2.9" stroke="none">0</text></g>
<g transform="translate(292.5 357.575) rotate(-90)" fill="#4a4a4a"><text x="-2.5" y="0" font-size="4" stroke="none">10</text><text x="2" y="-1.9" font-size="2.9" stroke="none">1</text></g>
<g transform="translate(317.425 383.3)" fill="#4a4a4a"><text x="-2.5" y="0" font-size="4" stroke="none">10</text><text x="2" y="-1.9" font-size="2.9" stroke="none">1</text></g>
<g transform="translate(292.5 337.45) rotate(-90)" fill="#4a4a4a"><text x="-2.5" y="0" font-size="4" stroke="none">10</text><text x="2" y="-1.9" font-size="2.9" stroke="none">2</text></g>
<g transform="translate(338.15 383.3)" fill="#4a4a4a"><text x="-2.5" y="0" font-size="4" stroke="none">10</text><text x="2" y="-1.9" font-size="2.9" stroke="none">2</text></g>
<g transform="translate(292.5 317.325) rotate(-90)" fill="#4a4a4a"><text x="-2.5" y="0" font-size="4" stroke="none">10</text><text x="2" y="-1.9" font-size="2.9" stroke="none">3</text></g>
<g transform="translate(358.875 383.3)" fill="#4a4a4a"><text x="-2.5" y="0" font-size="4" stroke="none">10</text><text x="2" y="-1.9" font-size="2.9" stroke="none">3</text></g>
<g transform="translate(292.5 297.2) rotate(-90)" fill="#4a4a4a"><text x="-2.5" y="0" font-size="4" stroke="none">10</text><text x="2" y="-1.9" font-size="2.9" stroke="none">4</text></g>
<g transform="translate(379.6 383.3)" fill="#4a4a4a"><text x="-2.5" y="0" font-size="4" stroke="none">10</text><text x="2" y="-1.9" font-size="2.9" stroke="none">4</text></g>
<rect x="353.5" y="297.0" width="26.600000000000023" height="11.5" fill="#fff"/>
<text x="354.5" y="307.5" font-size="15.6" text-anchor="start" font-weight="normal">45%</text>
<clipPath id="cp4"><rect x="394.2" y="297.0" width="82.80000000000001" height="79.5"/></clipPath>
<g clip-path="url(#cp4)">
<ellipse cx="448" cy="362.5" rx="24" ry="15.5" fill="url(#g9)"/>
<ellipse cx="446.5" cy="316.5" rx="15" ry="9.5" fill="url(#g10)"/>
<ellipse cx="447" cy="338" rx="13" ry="22" fill="url(#g11)"/>
<path transform="translate(393.7 296.5) scale(0.2)" d="M87 10h3m-53 3h3m195 4h3m70-1h3m-73 6h3m-210 2h3m218 1h3m26-1h3m-256 8h3m19-1h3m147-3h3m66 2h3m-2 3h3m32 1h3m3 0h3m3 2h3m12-1h3m-243 3h3m97 3h3m13-2h3m17 2h3m3-2h3m2 3h3m12-2h3m2 2h3m8-2h3m2 0h3m10 2h3m8-3h3m-274 7h3m28 1h3m12-3h3m25 0h3m57 0h3m39 2h3m24-3h3m0 4h3m1-2h3m0 1h3m24-2h3m-2 3h3m1-1h3m0-1h3m6 2h3m3-1h3m-262 3h3m69 2h3m98-2h3m9 3h3m4-3h3m1 3h3m9-4h3m5 2h3m11 0h3m6 2h3m3-4h3m1 2h3m10 2h3m-1-4h3m1 3h3m2-1h3m2 2h3m1-3h3m-263 8h3m31-2h3m12-1h3m77-1h3m32 4h3m-2-4h3m-1 3h3m20-1h3m2 0h3m5-2h3m-2 0h3m4 0h3m3 4h3m-3 0h3m-2-1h3m-3-3h3m1 2h3m15 0h3m1-1h3m15 1h3m-1 0h3m7 1h3m-3-1h3m-1 1h3m-1-3h3m4 1h3m-283 7h3m71-2h3m48 2h3m20 0h3m4 1h3m-1 0h3m-3-1h3m6 0h3m14-2h3m2 0h3m0 0h3m8 1h3m0-2h3m3 4h3m-3-1h3m5-2h3m1 3h3m9-4h3m3 0h3m9 2h3m0 1h3m73-1h3m-378 5h3m99 2h3m87-1h3m7-2h3m3 3h3m-1-2h3m8 0h3m4-2h3m0 3h3m-2 0h3m7 1h3m6-2h3m3 1h3m-2 1h3m3-4h3m-2 1h3m-1 0h3m2 1h3m13 2h3m-3 0h3m2 0h3m-3-1h3m3 1h3m43-2h3m-221 4h3m49-1h3m-2 4h3m3-1h3m4 1h3m7 0h3m-3-3h3m2 0h3m5 1h3m1 0h3m-1 0h3m1-1h3m5 2h3m-1 0h3m0-1h3m3-1h3m13 3h3m1 0h3m-2-4h3m19 4h3m2-3h3m-1 3h3m6-4h3m-2 3h3m-2-2h3m4 3h3m-2-4h3m3 4h3m3-4h3m0 2h3m-301 5h3m55 0h3m84-1h3m6 0h3m2 0h3m2 3h3m-2-2h3m3-1h3m-2 0h3m0 3h3m0-1h3m-1-1h3m-1-1h3m0 0h3m2 0h3m-2-1h3m3 1h3m0 0h3m-2 2h3m0 0h3m-3-2h3m-3 3h3m1 0h3m-2 0h3m0-3h3m-1 1h3m-1 2h3m-2-4h3m-2 2h3m-3-2h3m-3 1h3m-1 2h3m0-1h3m-1 0h3m-2 2h3m-2-4h3m-3 4h3m4-1h3m2-2h3m0 0h3m2 3h3m-1-3h3m2 3h3m0-1h3m0 1h3m7-3h3m15 3h3m3-1h3m8 0h3m19-1h3m7 1h3m-2 1h3m-1-1h3m-361 2h3m42 3h3m28-3h3m6 4h3m10-1h3m1 1h3m30 0h3m36-3h3m9-1h3m-2 4h3m-2-3h3m10-1h3m1 2h3m-2 0h3m-2 1h3m-3 0h3m1-2h3m0 3h3m0-3h3m-3-1h3m-2 1h3m0 0h3m-2-1h3m-3 0h3m-2 2h3m0 2h3m1-2h3m-3 2h3m0-3h3m-1 0h3m-2 3h3m5-1h3m-1-1h3m-2 1h3m-2-1h3m-2-1h3m-3 0h3m9 0h3m-2 3h3m-3 0h3m-3-1h3m2-3h3m5 2h3m-2 0h3m1-2h3m3 2h3m11-2h3m4 0h3m-285 9h3m-2 0h3m-1 0h3m12 0h3m21 0h3m35-2h3m26 2h3m2-2h3m1-2h3m4 1h3m-3 3h3m22-1h3m-3-3h3m-3 3h3m6-3h3m0 0h3m-1 2h3m0 1h3m0 1h3m7-3h3m-3 2h3m-2-1h3m-2 0h3m-3 0h3m-2 2h3m-2-4h3m-3 0h3m-3 4h3m-3 0h3m-2-1h3m-3-3h3m-2 3h3m-3 0h3m-1-2h3m2 2h3m1 1h3m0-2h3m-2-2h3m2 4h3m0 0h3m-1-4h3m-1 0h3m-1 4h3m-2-3h3m1-1h3m0 2h3m-2 2h3m0-1h3m1-1h3m-1-2h3m-2 3h3m0-1h3m-1 2h3m-2-3h3m-1 3h3m-3-1h3m-2-3h3m-2 2h3m-1 2h3m-1-4h3m3 4h3m-3 0h3m-3-1h3m-2-2h3m10 3h3m5-3h3m-3 2h3m10 1h3m7-2h3m-290 5h3m71 0h3m21 0h3m33 1h3m2 1h3m8-4h3m-2 3h3m-1-2h3m-3 2h3m-1-2h3m2 0h3m4 3h3m-2-4h3m-1 1h3m-3 0h3m-3 1h3m-1 1h3m-3 0h3m0-3h3m0 3h3m0-1h3m-2 0h3m0 2h3m-2-4h3m1 3h3m-2 1h3m-3-3h3m-3 3h3m-3-4h3m-1 2h3m-3-2h3m-3 2h3m-2 0h3m-3 1h3m1-3h3m0 0h3m-2 3h3m0-3h3m-1 3h3m-2 0h3m-2 1h3m-1-1h3m-2-2h3m-2 0h3m-1 3h3m-2 0h3m-3-3h3m-2 2h3m-2-1h3m-1-1h3m-3-1h3m-2 0h3m-1 3h3m2 1h3m0-2h3m-3 0h3m-2-2h3m0 4h3m-3-1h3m-1 1h3m6-4h3m-2 0h3m-3 1h3m-2 2h3m-1 0h3m-3 1h3m-2-2h3m-1 0h3m7 2h3m2-3h3m-2 1h3m-331 7h3m34-3h3m-3 3h3m6-2h3m28 2h3m0-2h3m14-2h3m0 3h3m61-1h3m-2-1h3m7-1h3m-2 1h3m-2 1h3m3 2h3m-1 0h3m10-2h3m-1 1h3m0 0h3m-1-2h3m-2 0h3m1 0h3m0 1h3m-2 0h3m-2-1h3m-1 2h3m-2 0h3m2-2h3m-2 0h3m0 1h3m-2 1h3m-2-2h3m-1 1h3m-3 1h3m0 1h3m-2 0h3m-2-3h3m-3-1h3m2 4h3m-1 0h3m3 0h3m0-4h3m-3 1h3m-2-1h3m-2 0h3m0 0h3m-3 3h3m-1 1h3m0-2h3m-3-1h3m-2 1h3m-3-1h3m-3 2h3m0 0h3m0-2h3m-3-1h3m-2 2h3m-2 1h3m-3-3h3m-1 3h3m-2-1h3m2 1h3m-3 0h3m-2 1h3m-1-1h3m-3-2h3m-2 1h3m-2-1h3m-2 2h3m-1-1h3m2-1h3m-3 0h3m0-1h3m2 0h3m-3 3h3m-2-3h3m2 0h3m-3 2h3m1 0h3m3 1h3m-3 0h3m10-2h3m-1 3h3m2-4h3m3 3h3m2-2h3m0 0h3m4 2h3m1 1h3m-357 4h3m15-3h3m23 2h3m3 0h3m22 2h3m-1-2h3m23-1h3m53-1h3m8 2h3m7 2h3m0-2h3m4 0h3m0 0h3m4 0h3m0 2h3m4-2h3m1-2h3m-1 3h3m-3 1h3m-2-2h3m-1 1h3m-1-1h3m-1 0h3m-2 0h3m-2 2h3m-3 0h3m1-1h3m-2 0h3m-3-3h3m-1 1h3m-3 1h3m0 2h3m3-1h3m-3-2h3m-2 2h3m-3-1h3m-3 2h3m-3-1h3m-2 1h3m-2 0h3m1-4h3m-1 1h3m-2 1h3m-2 0h3m-2 2h3m0-3h3m-1-1h3m-1 0h3m-1 3h3m-2-1h3m-3 1h3m1-1h3m0 0h3m-2-1h3m-2-1h3m-2 4h3m-1 0h3m3-4h3m-3 1h3m-2 0h3m-1 2h3m0-3h3m-1 1h3m-2-1h3m-1 4h3m-2 0h3m-1-1h3m-2-3h3m2 0h3m-2 3h3m0-3h3m-1 4h3m-3-3h3m0 1h3m-3 2h3m-3-1h3m1 0h3m2 0h3m-2 1h3m2-4h3m-2 4h3m-2 0h3m-2-1h3m-2-1h3m-2 2h3m-1-2h3m0 0h3m29-2h3m-307 8h3m3-2h3m1 3h3m61-4h3m2 3h3m23 1h3m-1-4h3m-2 0h3m-1 2h3m5 0h3m3 0h3m7-1h3m3 0h3m-2 3h3m0-1h3m-1 0h3m-1 1h3m-1-1h3m1-2h3m-3-1h3m-1 4h3m1-2h3m-3 0h3m1 2h3m-2-1h3m1-1h3m-3 2h3m-1-3h3m4-1h3m-3 3h3m-1 1h3m-3-3h3m-2 0h3m-1 2h3m-3 0h3m2 0h3m-3-2h3m4 3h3m3-3h3m0 2h3m-3-3h3m-1 0h3m-1 4h3m1-2h3m-1 2h3m-3-1h3m-2-2h3m0 3h3m-1-1h3m-3-2h3m0 2h3m-1-2h3m0 2h3m-3 0h3m-2-3h3m2 2h3m-2-2h3m-1 2h3m-1 1h3m0-1h3m-2-2h3m-1 4h3m-3 0h3m1-3h3m-2-1h3m4 0h3m-2 0h3m-3 2h3m0 1h3m-2 0h3m-2-2h3m-2-1h3m-322 9h3m2 0h3m43-2h3m13 1h3m81-3h3m5 1h3m1 2h3m0 1h3m-3-2h3m0-2h3m7 2h3m0-1h3m1 3h3m12-3h3m-3 0h3m-2 1h3m-1 1h3m-2-3h3m-1 1h3m-3 2h3m-2 1h3m-2-4h3m-2 0h3m-1 0h3m-1 0h3m-2 4h3m-3 0h3m0-1h3m-3-1h3m-3 0h3m2-1h3m-2-1h3m-2 2h3m-2-2h3m1 0h3m-1 1h3m-2-1h3m0 1h3m-3-1h3m-2 1h3m1-1h3m-2 4h3m-3-2h3m-2-1h3m1 1h3m3-2h3m-3 1h3m-3 0h3m-1 3h3m-3-3h3m-1 1h3m-3 2h3m-2-2h3m-3 1h3m-2 1h3m-3-2h3m-1-1h3m-2 2h3m-3 1h3m0-4h3m-3 2h3m-3 2h3m-2-3h3m2 0h3m-2 2h3m-2-1h3m-2-2h3m-3 3h3m0 0h3m7 0h3m1 0h3m-2-3h3m-1 2h3m0-1h3m0-1h3m0 0h3m1 0h3m7 2h3m2 0h3m14-2h3m-1 4h3m1 0h3m-273 4h3m63 0h3m14-1h3m5-1h3m4 1h3m2-2h3m8 0h3m2 2h3m-3-1h3m-2 2h3m0-2h3m-2 1h3m-2-2h3m-2 3h3m-2-3h3m-3 0h3m-2 4h3m-1-3h3m4 1h3m0 1h3m-2-1h3m-2-2h3m-2 2h3m0 2h3m-1 0h3m-3-3h3m-3 1h3m-1 0h3m3 1h3m-2-1h3m-2 2h3m-2-3h3m-1-1h3m-3 0h3m0 2h3m-3 0h3m0 0h3m-1 2h3m-3-1h3m-1-3h3m-3 2h3m-1 1h3m-3-2h3m0 0h3m-3 3h3m-3 0h3m-1 0h3m-2-3h3m-2 0h3m-2 1h3m-2 0h3m-1 1h3m-2 1h3m-2-1h3m-2-1h3m-3-2h3m-2 3h3m-3 1h3m-3 0h3m1 0h3m-3-4h3m0 3h3m1 1h3m-3 0h3m1-1h3m-2 0h3m-1-3h3m-2 0h3m0 2h3m-2 0h3m-2 1h3m0-1h3m2 0h3m-2 1h3m0 0h3m-1-2h3m-1 0h3m2 1h3m0-1h3m-2 1h3m-2-1h3m0-1h3m-2 2h3m-1 0h3m3-1h3m-310 5h3m4 3h3m11 0h3m22-1h3m12 1h3m3-2h3m60 2h3m3 0h3m2-4h3m4 1h3m3 0h3m13 0h3m-1 0h3m-2 2h3m-2-1h3m1 1h3m-1-1h3m-1 2h3m6 0h3m-2-2h3m2 1h3m-1-2h3m-1 0h3m-2 2h3m0-2h3m0 2h3m-3-1h3m-2 0h3m-3-2h3m3 0h3m-2 2h3m-1-2h3m-3 4h3m-1 0h3m0 0h3m-2-4h3m-2 0h3m-2 2h3m-3 1h3m-1-1h3m-1-1h3m-2 2h3m-3 1h3m-1-1h3m-3-1h3m-2 2h3m-3-2h3m-2 0h3m-2 0h3m-2 1h3m-3 1h3m-2-2h3m0-2h3m-2 1h3m-3 3h3m-2-3h3m3 3h3m-2 0h3m-2-4h3m-1 3h3m-1 0h3m-1-1h3m-1-2h3m7 2h3m-1-1h3m1 2h3m1 0h3m-2-1h3m43 2h3m17-3h3m-301 4h3m4 3h3m3-2h3m11-1h3m28 2h3m22-1h3m4 1h3m-3 2h3m-2-3h3m0-1h3m2 3h3m-2-1h3m7 1h3m1-3h3m7 4h3m1-1h3m-1 1h3m-3-4h3m0 4h3m4-4h3m0 0h3m-3 2h3m-2 1h3m-1-2h3m-1 3h3m-1-4h3m0 4h3m0-4h3m-2 0h3m-1 3h3m-2-2h3m-3 2h3m-2 1h3m-1 0h3m-1-1h3m-1-3h3m-1 3h3m0 0h3m-2-3h3m-1 4h3m-2-3h3m-1 0h3m-3-1h3m-3 4h3m-2-3h3m-2 3h3m0-1h3m0 0h3m-2-3h3m-3 1h3m-3-1h3m-1 2h3m2 2h3m-2-2h3m-2 1h3m3-1h3m1 2h3m-1-2h3m-2-2h3m-3 2h3m1-2h3m-2 4h3m-2-2h3m2-1h3m-1 2h3m-3-2h3m-1 2h3m4-1h3m9 1h3m1-2h3m1 0h3m6 1h3m6 2h3m7 0h3m-338 4h3m26-3h3m61 2h3m21 0h3m19 1h3m-2-2h3m1 2h3m12 1h3m2 0h3m15 0h3m4-3h3m-1 3h3m-2-1h3m-2-3h3m-2 3h3m-3-1h3m1 0h3m-3 0h3m2-2h3m0 4h3m-2-4h3m1 1h3m-1 0h3m0 1h3m-3 2h3m0-2h3m-1-2h3m-1 2h3m-3 0h3m2-1h3m-2 2h3m-2 0h3m-3 0h3m-2 0h3m-3 0h3m-1-3h3m-1 0h3m-2 2h3m5 0h3m-2 2h3m-1-1h3m-3-1h3m-2 1h3m-1-1h3m-2 0h3m1 0h3m0-2h3m-1 3h3m-2 1h3m-1-1h3m-2-2h3m1 2h3m-1-3h3m-2 4h3m-1 0h3m3-2h3m0 0h3m-2-2h3m-2 3h3m0-3h3m-3 4h3m2-4h3m11 0h3m5 3h3m7-2h3m30-1h3m-339 9h3m40-4h3m17 1h3m5 0h3m10-1h3m10 3h3m7-1h3m13 1h3m7 1h3m-2 0h3m16-2h3m-3-2h3m3 3h3m-2 1h3m5-1h3m6 0h3m-2 1h3m3-4h3m2 3h3m-2 1h3m-1-1h3m3 1h3m-3-1h3m2-1h3m0 0h3m0-1h3m-3 1h3m-2 0h3m1-1h3m-2-1h3m-2 0h3m-2 1h3m-2-1h3m-3 0h3m-2 1h3m0 0h3m4 1h3m-3 1h3m-1 1h3m3-4h3m5 2h3m-2 0h3m-3 2h3m-1 0h3m-1-3h3m-1 2h3m1-3h3m-2 2h3m1 2h3m-1-2h3m-1 0h3m-2 2h3m15-4h3m3 0h3m5 2h3m2 0h3m8 0h3m-2-1h3m14-1h3m-350 9h3m0-4h3m-1 3h3m10 1h3m35-3h3m17 3h3m45 0h3m11-2h3m7 0h3m-1 1h3m1-1h3m0-1h3m-2-1h3m6 1h3m1 1h3m2 0h3m-2-1h3m1 0h3m2 3h3m-2-1h3m-1-1h3m1 1h3m-1 0h3m-1-1h3m-2 0h3m-3 1h3m-1-1h3m1-1h3m0-1h3m-3 0h3m-2 2h3m0-2h3m-1 3h3m1-3h3m-1 2h3m-1-1h3m-1 2h3m2-2h3m-2 1h3m-1-2h3m4 4h3m2-3h3m-2-1h3m-2 1h3m-2 1h3m-2 2h3m-1-3h3m-3 0h3m1 2h3m-1-2h3m6-1h3m-1 4h3m0-3h3m3 3h3m6 0h3m0-3h3m-3 1h3m4 0h3m10-1h3m2-1h3m11 2h3m-1-1h3m-353 5h3m24 0h3m2 1h3m7-2h3m5 3h3m1-1h3m-2-2h3m46 0h3m5 0h3m49 3h3m0-1h3m0 0h3m-2-1h3m1 0h3m5-1h3m0 4h3m-1 0h3m1-2h3m0 1h3m-1-1h3m-2-1h3m-2 0h3m-2 1h3m-3 0h3m5 0h3m-3 0h3m-1-1h3m-2 3h3m3-3h3m-2-1h3m-1 4h3m-2-1h3m0-1h3m0 1h3m-1 1h3m0-3h3m-2 1h3m1 0h3m-1 2h3m-2 0h3m-3-3h3m0 3h3m-2-4h3m-2 4h3m0-2h3m-3-1h3m2 1h3m-2 2h3m-2-3h3m-2 1h3m-1-2h3m0 4h3m-3-3h3m1 2h3m0 1h3m0 0h3m-2-3h3m-3 0h3m1 2h3m-2 1h3m-1-3h3m1 1h3m-1 1h3m-3-1h3m-2-1h3m3-1h3m-1 3h3m2 0h3m6-1h3m3-2h3m57 1h3m-375 8h3m7-1h3m13-1h3m6-2h3m35 3h3m24 0h3m3 1h3m24-3h3m8-1h3m7 3h3m1-1h3m11 1h3m12 1h3m1-2h3m4 2h3m-2-3h3m4 2h3m0 0h3m-1 1h3m0-1h3m1-1h3m0-1h3m-3 3h3m-3-3h3m0 3h3m-1-3h3m-3-1h3m-2 3h3m0-3h3m-2 2h3m-2-2h3m0 4h3m2-3h3m-2 1h3m1 1h3m-1-3h3m-1 3h3m3-1h3m1 2h3m-3 0h3m2-1h3m-3 1h3m-1-2h3m-2 0h3m-1 1h3m-3-2h3m1 1h3m3 2h3m3 0h3m0-4h3m3 4h3m-3-3h3m2 0h3m6 2h3m-2 0h3m-1 0h3m1-2h3m16-1h3m48 0h3m-397 7h3m13-2h3m14 3h3m51 1h3m57-2h3m45 0h3m1-2h3m0 1h3m-2 3h3m14-1h3m-1-1h3m-2 0h3m1 1h3m0-3h3m0 0h3m7 3h3m-1 0h3m0-2h3m1-1h3m0 2h3m3-1h3m-3 3h3m-3-2h3m0 2h3m-3-1h3m7-3h3m-1 3h3m-3 1h3m0-3h3m3-1h3m3 2h3m0 1h3m-1-2h3m-1 2h3m3-1h3m10 2h3m4-3h3m-3-1h3m-1 2h3m17 1h3m3 0h3m0-2h3m-3 2h3m14-2h3m-347 4h3m11 0h3m8 3h3m19 0h3m48 1h3m14-1h3m14-3h3m4 1h3m21-1h3m0 2h3m-1-1h3m0 0h3m1 0h3m1-1h3m-2 0h3m2 4h3m1-1h3m1 0h3m-3 1h3m-2-4h3m9 2h3m0 0h3m0-2h3m1 1h3m1-1h3m0 4h3m-3 0h3m-2-4h3m-3 3h3m-1 1h3m-1-4h3m-2 1h3m-1 3h3m-3-4h3m-1 1h3m2 3h3m-1-4h3m-2 2h3m1 1h3m-2 0h3m-2 1h3m-3-4h3m-1 3h3m-1 0h3m3 1h3m6-1h3m1 1h3m15 0h3m20-1h3m12-2h3m-338 5h3m8 2h3m13-1h3m20 1h3m19-1h3m18 1h3m16-1h3m6-2h3m34 3h3m-1 0h3m1 0h3m4 0h3m-1-1h3m11 0h3m-1-2h3m5 0h3m0 2h3m2 0h3m0-2h3m-3 2h3m3-1h3m-2 2h3m0 0h3m1-2h3m-2 0h3m-2 2h3m1 1h3m-3-4h3m-2 0h3m2 4h3m-3-1h3m-1-1h3m-2 1h3m-2 1h3m0-3h3m-2 2h3m-2-3h3m-2 0h3m-3 1h3m-3 2h3m1 0h3m13 0h3m-2-2h3m6 1h3m1 1h3m0-2h3m0 0h3m0 3h3m-3-4h3m1 3h3m15-1h3m1-1h3m-3 2h3m2-1h3m4 1h3m0-3h3m26 1h3m-1 0h3m-366 5h3m12 0h3m0 2h3m9-2h3m9-1h3m33 1h3m4-1h3m-3 0h3m13 1h3m4 1h3m16 2h3m20-3h3m18 2h3m7 0h3m0-2h3m-2-1h3m6 1h3m4-1h3m1 3h3m-3-3h3m-2 2h3m4-1h3m-2 2h3m-2 1h3m-2-1h3m-2-3h3m0 1h3m-3-1h3m-2 0h3m-1 0h3m8 4h3m1-2h3m1-2h3m2 0h3m-2 1h3m-2 0h3m-3-1h3m8 1h3m0 0h3m-1-1h3m4 4h3m-2-1h3m1 0h3m-1-3h3m-2 4h3m5-3h3m-3 1h3m-2 1h3m1-1h3m-2-1h3m1 1h3m1-1h3m8 0h3m-2 0h3m1 0h3m-3 3h3m0 0h3m12 0h3m0-4h3m27 1h3m17 0h3m-362 6h3m-1 0h3m7 1h3m47-2h3m0 1h3m21-1h3m20 2h3m4-3h3m25 2h3m2 2h3m6-2h3m1 2h3m4-4h3m15 0h3m0 4h3m-2-4h3m-3 0h3m-1 0h3m0 2h3m3-2h3m-1 1h3m-3-1h3m3 3h3m-2 1h3m-2-4h3m-2 0h3m-1 4h3m-1-3h3m5 0h3m-1 2h3m-1 0h3m1 1h3m9-1h3m0-2h3m18-1h3m3 3h3m-1 0h3m-1-2h3m3 3h3m-1-2h3m3 0h3m15-2h3m-1 4h3m-2 0h3m-330 1h3m17 1h3m26 2h3m0-1h3m1-1h3m-1 3h3m8-4h3m8 1h3m23-1h3m-1 0h3m9 3h3m6-1h3m10 0h3m6-1h3m-1 3h3m0-1h3m-3-3h3m4 3h3m7 1h3m-2 0h3m1-4h3m3 0h3m2 1h3m3 3h3m-1-1h3m-2-1h3m-1-2h3m1 3h3m-3 1h3m1 0h3m-1-4h3m-1 1h3m-1 1h3m1 1h3m-1-1h3m0-2h3m-3 3h3m4-3h3m-1 3h3m-2 1h3m1-3h3m-2 2h3m-1-2h3m0-1h3m-2 1h3m0 3h3m0 0h3m0-2h3m-2 1h3m-2-1h3m0 0h3m-1-2h3m1 1h3m2 2h3m-2 0h3m-1 1h3m0-4h3m10 3h3m0-2h3m-1 1h3m-3 1h3m32 1h3m-348 5h3m30 0h3m11-4h3m22 2h3m-3 1h3m37-3h3m31 1h3m1 2h3m2-1h3m8 2h3m-3-2h3m4 2h3m-2-2h3m-1 2h3m0-3h3m2 3h3m6-1h3m-2 1h3m-1 0h3m-2 0h3m-1-3h3m-1 1h3m-2 2h3m-2-3h3m7 1h3m-3 0h3m-3 2h3m-1-2h3m-1-2h3m-1 2h3m0-2h3m4 1h3m-2 2h3m-2-2h3m3 3h3m-1 0h3m-1-2h3m0 0h3m-2-1h3m0 1h3m-2-1h3m-2 0h3m1-1h3m1 4h3m-3 0h3m6 0h3m-2-2h3m0 1h3m-3-1h3m-2 1h3m-3-1h3m-2-1h3m-3 3h3m10-2h3m9-2h3m-2 0h3m11 4h3m6-1h3m0 0h3m36-1h3m-314 6h3m23-2h3m-3 2h3m1-3h3m50 2h3m20-2h3m16 1h3m-2-1h3m2 0h3m1 1h3m2 1h3m-2 1h3m1 0h3m1-3h3m7 2h3m2-2h3m2 0h3m-2 1h3m1 1h3m3-2h3m-1 3h3m-2-1h3m-1-2h3m-2 1h3m-2 2h3m-1-3h3m-1 1h3m0 0h3m-2 1h3m2 0h3m5-1h3m-1-1h3m1 0h3m-2 4h3m-2-4h3m-1 2h3m-1 1h3m0-2h3m0-1h3m-2 1h3m0-1h3m1 3h3m-2 0h3m4 0h3m-1 1h3m-2-2h3m5-1h3m5-1h3m9 3h3m15 1h3m24-3h3m-360 4h3m25 0h3m4 0h3m16 4h3m-2-1h3m78 0h3m4-1h3m3 1h3m0-3h3m-2 2h3m3 2h3m-1-4h3m17 3h3m-2 0h3m-3-3h3m-3 4h3m10-2h3m2 1h3m0-3h3m0 2h3m-2 2h3m-1-2h3m-2 0h3m2 1h3m-2 1h3m-3-4h3m0 1h3m-1 2h3m4-3h3m0 1h3m1 3h3m-2 0h3m1-4h3m-2 2h3m1 1h3m-2-3h3m-2 1h3m-1 0h3m-2 3h3m-2-3h3m-2-1h3m-3 3h3m-1 1h3m-1-2h3m2 0h3m1 2h3m11-3h3m6-1h3m6 2h3m19 0h3m16-1h3m11-1h3m2 2h3m-387 5h3m12-1h3m4 1h3m0 2h3m8-1h3m-1-1h3m9 2h3m10 0h3m7-3h3m-3-1h3m16 4h3m18-3h3m55 1h3m2 2h3m12 0h3m2-1h3m-1 0h3m-3-1h3m0 0h3m0 2h3m-3 0h3m-2-3h3m-1-1h3m-3 0h3m1 3h3m2-2h3m4-1h3m-3 0h3m-2 1h3m-2 3h3m2-4h3m-3 0h3m-3 0h3m-1 1h3m4 1h3m-2-1h3m-1 0h3m4 3h3m1-4h3m-3 4h3m-2-4h3m-3 0h3m-3 3h3m-2-3h3m1 0h3m-2 0h3m-1 4h3m0-4h3m0 0h3m-2 1h3m0 3h3m-3 0h3m-2-3h3m-3-1h3m0 4h3m-1-3h3m9 3h3m-3-1h3m5 0h3m-2-3h3m4 4h3m-2 0h3m2-4h3m-1 2h3m1 1h3m0-1h3m-1-2h3m-2 0h3m7 2h3m2 1h3m10-2h3m-363 6h3m8 1h3m17 0h3m0 0h3m2 0h3m27 0h3m29-3h3m0 2h3m0-2h3m25 0h3m30 3h3m0 1h3m-1-1h3m1-2h3m1 2h3m-3 0h3m-2 0h3m0-2h3m4 1h3m-2-1h3m9 2h3m4 0h3m0-3h3m-2 1h3m-2 2h3m2 0h3m0 0h3m-3 1h3m-2-1h3m1-1h3m-1-1h3m-3 3h3m-2-4h3m3 3h3m-2-3h3m-2 2h3m-1-2h3m-2 4h3m-1-2h3m-1 0h3m-1 2h3m-1-3h3m-3 1h3m-2-1h3m-1 1h3m0-2h3m-3 3h3m-3-3h3m0 1h3m-1 3h3m-3-2h3m4-2h3m0 0h3m-2 4h3m-3-1h3m-3 0h3m-1-3h3m-1 4h3m7-4h3m1 0h3m12 0h3m-2 2h3m14-2h3m-2 4h3m1-2h3m6-1h3m-3 0h3m5 0h3m7 1h3m6 2h3m6-3h3m-346 5h3m8 3h3m29-1h3m42-2h3m42 1h3m14 2h3m-2-3h3m1-1h3m6 1h3m2-1h3m0 0h3m1 0h3m6 0h3m-2 4h3m0-3h3m2 2h3m-2-2h3m-2 2h3m6-1h3m-1-1h3m-2 2h3m4 1h3m-3-1h3m-3-2h3m4-1h3m-3 3h3m-3 0h3m-2 1h3m-3-1h3m-2-2h3m1 1h3m1-1h3m4-1h3m0 1h3m1 1h3m4 0h3m-2-2h3m3 4h3m-3-3h3m-3 1h3m-1-1h3m-3-1h3m3 4h3m-1 0h3m-3-4h3m2 3h3m6 1h3m0-2h3m23 0h3m-330 6h3m46 0h3m4 1h3m5-2h3m0 2h3m16-1h3m49 0h3m3 1h3m7 0h3m-2-3h3m-1 3h3m10-3h3m-2 0h3m-1-1h3m2 4h3m8-3h3m3 3h3m-1-1h3m3-2h3m3-1h3m-2 4h3m-1-1h3m-2 0h3m0 0h3m2-1h3m-3-2h3m-3 4h3m1-2h3m-1 2h3m-3-1h3m2-1h3m-3-1h3m-1 3h3m-2-3h3m-3 0h3m-2 0h3m6-1h3m-2 0h3m-2 1h3m2 0h3m-3 3h3m0-1h3m0-1h3m-2-2h3m0 0h3m7 1h3m-2 3h3m-2 0h3m-1 0h3m2 0h3m-1-1h3m1-1h3m-2-1h3m1 2h3m-2-2h3m0 3h3m2 0h3m-1-2h3m-2-2h3m-2 4h3m2-1h3m6-2h3m1 2h3m5-1h3m5 2h3m20 0h3m-330 3h3m-3-1h3m0 1h3m4-2h3m14 3h3m5 0h3m62 1h3m3 0h3m10-3h3m9 2h3m-3 1h3m1-4h3m0 3h3m-3 0h3m4-2h3m12-1h3m0 1h3m3 2h3m-2 1h3m-1-1h3m-2 1h3m-2-2h3m1 2h3m-2-3h3m-3 3h3m-2-2h3m1 1h3m-3 1h3m-1 0h3m-2-2h3m-2-2h3m-2 4h3m1 0h3m-3 0h3m-1-2h3m-1 1h3m7-3h3m-2 3h3m0 1h3m-3 0h3m-3-2h3m0 1h3m2-3h3m1 4h3m-1-3h3m2 3h3m-2-2h3m-2 0h3m5 2h3m-2 0h3m-2-4h3m-3 2h3m2 2h3m2-2h3m-1 0h3m7 0h3m-2 1h3m12-3h3m40 1h3m-343 4h3m-3 2h3m81-2h3m16 0h3m8 0h3m0 0h3m3 0h3m6 1h3m2 2h3m4-2h3m1 0h3m-1-1h3m-1 3h3m-2 1h3m1-3h3m7 2h3m0-2h3m2-1h3m-2 4h3m3 0h3m14 0h3m1-2h3m-1 1h3m-1-3h3m1 3h3m-2 0h3m-2 1h3m0 0h3m-3-1h3m-1 1h3m-1-1h3m3 0h3m-1-1h3m-1 1h3m0-1h3m-3 0h3m-3 2h3m-2-1h3m-2 0h3m-1-3h3m4 4h3m0-3h3m2 2h3m-2 1h3m2 0h3m-3-4h3m-1 0h3m-2 0h3m1 3h3m1 1h3m2-2h3m5 1h3m-2-1h3m9 1h3m-2-1h3m-3 0h3m-1 0h3m7 1h3m4 0h3m-1 1h3m-2-4h3m-1 0h3m4 1h3m16 2h3m17-1h3m-336 6h3m81 0h3m7-1h3m-2 1h3m22-1h3m2-2h3m3 3h3m4-1h3m-2-2h3m-3 4h3m1-4h3m-2 2h3m-2-1h3m-2-1h3m0 4h3m1-2h3m-2 0h3m3-2h3m-2 2h3m-1 2h3m-3-4h3m-2 3h3m-3-2h3m-2 3h3m-3-3h3m0-1h3m-3 3h3m-1-2h3m-1-1h3m-3 1h3m-3-1h3m5 2h3m0-1h3m1 0h3m-3-1h3m-2 0h3m1 1h3m0-1h3m-2 3h3m3-1h3m-1 2h3m0-3h3m-3 3h3m1-3h3m-3 0h3m-1-1h3m6 2h3m0-2h3m1 2h3m-2 1h3m-2-2h3m2 3h3m0 0h3m-2-2h3m-2 0h3m0-2h3m10 1h3m50 2h3m-1 1h3m-3-2h3m3-1h3m12 1h3m-350 5h3m5-2h3m50 4h3m20 0h3m10-1h3m-1-1h3m23-2h3m-2 1h3m1 1h3m10-1h3m-1 1h3m5-2h3m1 0h3m-2 1h3m5-1h3m1 1h3m-1 2h3m0 0h3m1 1h3m-2-2h3m-2 1h3m6 0h3m-2 0h3m-1-1h3m-1 2h3m-3 0h3m3-1h3m-2-1h3m2 0h3m4 2h3m0-2h3m-3-2h3m-2 3h3m6 1h3m-2-1h3m2-1h3m-2 0h3m0 2h3m1-2h3m-3 0h3m-1 2h3m6-4h3m-3 4h3m-2 0h3m-2-2h3m2 2h3m-3 0h3m1-1h3m10-2h3m-3 0h3m4 3h3m1 0h3m2 0h3m9-4h3m3 2h3m-3-1h3m6 3h3m3-1h3m-328 4h3m39 0h3m50 2h3m10 0h3m7-3h3m1 2h3m1-1h3m13 0h3m-1 1h3m-1 1h3m1-4h3m3 4h3m-2-2h3m3-2h3m1 0h3m-1 0h3m-1 1h3m0 1h3m-2-2h3m3 4h3m-2 0h3m-1-4h3m-2 3h3m-1 0h3m-3 1h3m1-3h3m-2-1h3m-1 1h3m-1-1h3m-1 1h3m-3 3h3m2-1h3m2-1h3m-3-1h3m-1 3h3m-2 0h3m-3-1h3m-2-2h3m-2-1h3m-1 3h3m-3 1h3m-2-1h3m8 1h3m-1-4h3m-1 2h3m-2 0h3m0-1h3m0 3h3m2-3h3m-2 0h3m3 1h3m-1-2h3m-1 2h3m3 1h3m-2-2h3m-2 0h3m0-1h3m-3 3h3m1-3h3m-2 1h3m5 3h3m-1-2h3m4-1h3m1-1h3m-3 4h3m4-1h3m44 1h3m-1 0h3m-334 5h3m29-4h3m6 0h3m4 3h3m5-2h3m-2 0h3m0 1h3m0-1h3m4-1h3m14 4h3m2-3h3m2 2h3m-2 1h3m2-4h3m-1 2h3m-2-2h3m-1 0h3m-2 0h3m-1 4h3m1-1h3m-1 1h3m-3-3h3m2 1h3m0-1h3m-2 1h3m5 1h3m1-1h3m-2 1h3m-2 0h3m-2-1h3m-3 1h3m-2 0h3m3-1h3m-1-2h3m6 0h3m-1 2h3m3-2h3m3 3h3m1 1h3m-3-1h3m-2-2h3m0-1h3m1 0h3m-3 1h3m-3-1h3m-2 3h3m-2 0h3m-3-3h3m-1 4h3m-2-1h3m-2 0h3m-3 0h3m-2 1h3m2-1h3m-2-1h3m2 2h3m-3-4h3m-1 1h3m-2-1h3m-3 2h3m4-2h3m-2 0h3m-2 2h3m2 0h3m-1-2h3m6 1h3m2 3h3m1-2h3m4-1h3m-2 1h3m-3 0h3m4 0h3m-3-2h3m3 2h3m-3-1h3m4 3h3m8-4h3m2 0h3m20 1h3m-353 5h3m-3 3h3m52 0h3m39-2h3m9 0h3m3-1h3m-3 0h3m-1-1h3m2 2h3m13 0h3m-1 1h3m5 0h3m2 0h3m-2 1h3m-3-2h3m-2-1h3m-1 3h3m8-2h3m3-1h3m1 2h3m1-3h3m1 1h3m-2 3h3m-2-1h3m-2-2h3m-2 3h3m0-2h3m-3 1h3m-2 1h3m1-1h3m0-2h3m-2 0h3m0 1h3m-2 0h3m9 2h3m0 0h3m-1-3h3m0 2h3m-2-2h3m-3 2h3m3-3h3m3 2h3m-3 0h3m-3 0h3m0 1h3m1-3h3m1 1h3m-3 1h3m-1 1h3m-1 1h3m3 0h3m-2-3h3m3 3h3m-2-3h3m2 1h3m-2 1h3m4-3h3m2 0h3m-1 3h3m0-2h3m10 2h3m8 1h3m-2-1h3m4 1h3m4-4h3m17 3h3m-324 4h3m7-2h3m55 2h3m16-2h3m-2 1h3m-1-1h3m1 0h3m9 4h3m0 0h3m3-3h3m4 2h3m-3 0h3m-2 0h3m4-3h3m-2 0h3m-1 0h3m-1 4h3m1-1h3m0-1h3m-1 1h3m1 0h3m-1-1h3m-1-1h3m3 1h3m2 1h3m-1 0h3m0-1h3m-2-1h3m1 0h3m-2 0h3m-1-1h3m-3 1h3m-2 2h3m4-2h3m-2-1h3m-2 2h3m-2-2h3m-2 2h3m-3-2h3m-2 2h3m-2 1h3m-3-1h3m-2 0h3m0 1h3m-1-2h3m-2 3h3m1-4h3m0 3h3m-2-3h3m1 3h3m3 1h3m-1-4h3m-3 0h3m0 2h3m-2-2h3m-1 1h3m-2 2h3m-2 0h3m2 0h3m-1 1h3m0-1h3m-1 0h3m-1-1h3m1 0h3m0-2h3m5 0h3m-1 0h3m1 3h3m-2-1h3m3 2h3m9 0h3m-1-1h3m-2 0h3m3 0h3m0-1h3m4 1h3m4 1h3m5-2h3m19 1h3m-380 6h3m6 0h3m11-3h3m70 3h3m34-4h3m-2 4h3m-3-1h3m3 0h3m1-2h3m7 0h3m1-1h3m4 3h3m-1 1h3m-2-3h3m3-1h3m-2 0h3m-2 2h3m-2-1h3m8 3h3m-3-3h3m1-1h3m-2 3h3m-3 0h3m-3-3h3m1 3h3m-2-2h3m0 3h3m-2-2h3m-3 2h3m-1-1h3m-2-1h3m-2-1h3m-2-1h3m-1 4h3m2-3h3m-1 1h3m-1-1h3m-1 0h3m-2 2h3m-1 0h3m-2-2h3m-1 3h3m-1-4h3m-3 3h3m-2 1h3m-1-3h3m-2 1h3m-3-1h3m-2-1h3m-1 3h3m0-1h3m-1 1h3m-2 1h3m-3-4h3m-2 3h3m0 1h3m0-3h3m-2-1h3m-2 2h3m-3 2h3m-3 0h3m-3-4h3m-2 2h3m-2 0h3m0-1h3m-1-1h3m0 2h3m-1-2h3m0 2h3m-1-1h3m-3 2h3m3 1h3m-2-2h3m-1 1h3m-2-2h3m-3 3h3m0-4h3m-1 2h3m-1 2h3m-1-1h3m-3 1h3m1-1h3m12 1h3m4-1h3m-2 0h3m-3-3h3m-2 4h3m0-3h3m-3 3h3m-2-2h3m0 2h3m6-3h3m2 0h3m4 2h3m-2 0h3m15-3h3m-369 8h3m-3-3h3m29 1h3m29 3h3m12 0h3m5-3h3m-1-1h3m22 3h3m0-1h3m10-2h3m15 4h3m-1-1h3m-1 0h3m-2 1h3m4-1h3m-2-3h3m1 2h3m8-1h3m-2-1h3m-1 0h3m2 2h3m-1-2h3m0 1h3m-2 3h3m4-3h3m-3-1h3m-2 2h3m-1 1h3m2-3h3m-1 3h3m-2 1h3m-1-1h3m-3 0h3m-3 0h3m2 0h3m-3 0h3m-2 0h3m0 1h3m-3-2h3m0-1h3m0 2h3m1-2h3m-3 3h3m-3-1h3m0 0h3m-2-2h3m-2 1h3m-1 2h3m-1-2h3m-2-1h3m-2 3h3m-2-4h3m2 3h3m-1-1h3m-2 1h3m-3-3h3m1 3h3m-1-3h3m-3 4h3m-1-3h3m-2-1h3m-3 2h3m-1 2h3m-2-4h3m-3 0h3m-1 0h3m-2 3h3m1 0h3m-3-2h3m-2 1h3m-3 1h3m-1-1h3m0 1h3m4-3h3m2 0h3m-2 0h3m0 1h3m-3-1h3m-3 1h3m-1 1h3m0 2h3m1-4h3m-1 2h3m3-1h3m-3 2h3m3 0h3m-1 1h3m0-1h3m1 1h3m2 0h3m-2 0h3m-2 0h3m0-1h3m-3-2h3m3 3h3m3-3h3m10 2h3m3-2h3m5 2h3m4 1h3m-2-3h3m15 1h3m-370 3h3m10 2h3m64-2h3m2 4h3m6-4h3m13 4h3m10-2h3m3 1h3m-1 1h3m2-2h3m0 2h3m-1-2h3m-1 0h3m6 0h3m-2 2h3m-2-4h3m-3 1h3m1 2h3m0 0h3m-2-3h3m-3 1h3m2 2h3m-3 0h3m3-2h3m-3 2h3m3 0h3m12 1h3m-3-1h3m-2-1h3m-2 0h3m-2 2h3m-2-1h3m1-3h3m-2 4h3m-1-1h3m0-3h3m-2 4h3m0-4h3m-3 4h3m1-2h3m-2 2h3m0 0h3m-1-3h3m0 2h3m-2-1h3m1 0h3m-3 2h3m-2 0h3m-1-4h3m-2 2h3m-1 1h3m-3-3h3m-3 2h3m1 1h3m-2-3h3m1 0h3m-3 4h3m-2-1h3m0 0h3m-3 0h3m-2-3h3m1 0h3m-1 4h3m-1 0h3m-2-2h3m-1-1h3m-3 0h3m-2-1h3m0 3h3m-1-1h3m0-1h3m-3 3h3m-2-1h3m-1 0h3m5-1h3m-3-2h3m0 1h3m-2 2h3m1-1h3m-1 0h3m0 1h3m2-2h3m0 3h3m-1-1h3m10-3h3m2 3h3m13-1h3m-345 7h3m27-1h3m3-2h3m27 1h3m43 0h3m-1 1h3m-1-1h3m-2 1h3m6 1h3m4 0h3m0-3h3m-2-1h3m-1 1h3m-1 0h3m-2 2h3m-1-3h3m-1 0h3m-2 0h3m1 1h3m2 1h3m0 0h3m-2 2h3m0-1h3m2-1h3m-1-1h3m4 3h3m1 0h3m-3-4h3m-2 2h3m-2 1h3m-2 0h3m2-3h3m-3 0h3m1 2h3m-1 2h3m-3-4h3m2 1h3m1 3h3m0-3h3m5 0h3m0-1h3m0 2h3m-3-2h3m-2 3h3m1 0h3m-1 1h3m-1 0h3m-1-1h3m3-3h3m-1 2h3m-1-1h3m0 0h3m-2 2h3m-3 0h3m0-1h3m-1 0h3m-2 2h3m-2-1h3m5-3h3m-2 3h3m0-2h3m2 3h3m1-1h3m1-3h3m-3 0h3m0 3h3m-1 0h3m0-1h3m-1 1h3m-1-3h3m1 2h3m-1 1h3m3-1h3m2-2h3m4 3h3m-2 1h3m2-4h3m0 2h3m-1 2h3m0-2h3m0 0h3m0 1h3m5-2h3m10 3h3m-1-4h3m0 3h3m-366 3h3m-2-1h3m25 4h3m2-4h3m20 2h3m-1-2h3m-1 0h3m13 1h3m8 1h3m5 0h3m41-1h3m-2 1h3m-3 2h3m3-3h3m-3 3h3m-3-2h3m-1-1h3m1 2h3m-1 1h3m-3 0h3m-1-3h3m1 0h3m-2 3h3m0-1h3m-2 1h3m-2-1h3m2-1h3m1 2h3m-2-2h3m0-2h3m-3 2h3m5 0h3m-2-1h3m-2-1h3m-2 0h3m-2 2h3m0 1h3m-2-3h3m3 0h3m-2 3h3m-3 0h3m-3-1h3m0-2h3m0 2h3m-1 2h3m-2-2h3m-2 0h3m-3 0h3m-2-2h3m-3 2h3m-1 1h3m0-1h3m-3 2h3m0-3h3m-2-1h3m-1 1h3m-3 3h3m5 0h3m-3-2h3m-3 2h3m-2-1h3m-3-3h3m0 4h3m-3-4h3m-2 0h3m-2 4h3m-3-2h3m-1 1h3m-2-2h3m-2 0h3m-1 2h3m-1 1h3m-3-2h3m-2-1h3m-2 2h3m-2 0h3m-1 1h3m-2-4h3m1 4h3m-2-1h3m0 0h3m-2-3h3m-1 3h3m2 1h3m-1-4h3m-3 3h3m0-1h3m-2-1h3m-2-1h3m-1 2h3m-3 1h3m-1 0h3m2-1h3m-2 1h3m-2-3h3m-3 2h3m0-2h3m-3 4h3m0-1h3m-3 0h3m-1 1h3m-3-4h3m-1 4h3m0-2h3m3 2h3m1-1h3m0 1h3m-1-2h3m-3 0h3m9-1h3m2 2h3m4 0h3m-1 0h3m-1 1h3m3-2h3m12-2h3m-371 7h3m-2-2h3m1 3h3m10-3h3m7 2h3m0-1h3m-3 3h3m-1 0h3m12-1h3m6 1h3m43-3h3m-1 0h3m12 3h3m17-1h3m7 1h3m-1-2h3m-1-1h3m1-1h3m-1 1h3m-2 2h3m-1-2h3m-3-1h3m-2 0h3m-3 3h3m-2-2h3m-3 1h3m2-2h3m-2 1h3m-3 0h3m3 3h3m-2 0h3m-1 0h3m-1-3h3m-1 3h3m0-3h3m-2 2h3m0 0h3m-2-3h3m-3 3h3m-2 1h3m1 0h3m0-3h3m-1 2h3m-1 1h3m-2-3h3m-1 2h3m-1 0h3m-2-2h3m-3 2h3m-2 0h3m-3 0h3m-2-2h3m-1 3h3m-3-1h3m-2-1h3m-2 2h3m-1-3h3m-3 2h3m-1-3h3m0 1h3m-1 2h3m-2-2h3m-3-1h3m-2 3h3m-3-2h3m-2 0h3m1-1h3m-2 1h3m-3 3h3m-2 0h3m-2-2h3m-2 1h3m-3-3h3m-2 4h3m-2-4h3m-2 2h3m-1-1h3m-2 0h3m-1 3h3m-2 0h3m-3-3h3m-2 2h3m-2 0h3m-3 0h3m-3-2h3m-1 3h3m-1-3h3m-2-1h3m1 3h3m-3 1h3m-3-3h3m-2 2h3m-2-3h3m-1 3h3m-2-1h3m-3 1h3m0 1h3m-1-2h3m-1-1h3m-2 1h3m-2 1h3m-1-1h3m-2 0h3m-2 1h3m-3-2h3m0 1h3m-2 2h3m-2-3h3m-2 2h3m-2-2h3m-3 1h3m-2 2h3m-1-3h3m0 2h3m-3-3h3m-1 1h3m0-1h3m-2 2h3m-3 1h3m-3 1h3m-1 0h3m0 0h3m0-3h3m-1-1h3m-3 4h3m-3-4h3m3 2h3m0 2h3m-2-1h3m-2-1h3m-3 0h3m9-1h3m-2 0h3m7 1h3m2 0h3m13 0h3m-1 2h3m-349 5h3m7-1h3m16-1h3m20-1h3m25 0h3m12 1h3m4 1h3m3 0h3m11-3h3m-3 1h3m0 2h3m2-1h3m-1-1h3m8 3h3m0-1h3m-3-2h3m-2 3h3m-1-3h3m-2 2h3m-1 0h3m-2 1h3m-1-4h3m-2 3h3m-3-1h3m0-1h3m-2 2h3m-2-1h3m-3 0h3m-3-1h3m4-1h3m1 4h3m-2-3h3m5 0h3m0 3h3m-3-4h3m1 3h3m-3-1h3m-2 1h3m-2 1h3m-3-1h3m-3 1h3m-1-2h3m-3 0h3m1 2h3m-2-4h3m-2 3h3m-3 0h3m-2-3h3m-3 4h3m-1 0h3m-2 0h3m-2-2h3m-1 1h3m-3-2h3m-1 0h3m-3 0h3m-3 0h3m-2 0h3m-3 3h3m-3 0h3m-2-2h3m-3 0h3m-3-2h3m-1 3h3m-1-3h3m-1 1h3m-3 0h3m-2 0h3m-1 0h3m-3 2h3m-3-1h3m-2 1h3m-1-1h3m-2 0h3m-3 2h3m2-3h3m-3 0h3m-2 0h3m2 1h3m-3 2h3m-1-3h3m1 1h3m-3-1h3m-2 1h3m-2 2h3m0-3h3m-1 0h3m-2 3h3m0-1h3m-3 0h3m3 0h3m-2-1h3m-3 0h3m-1-1h3m-1 3h3m-2-1h3m-3-2h3m-2 0h3m-1 1h3m3-2h3m3 2h3m-1 0h3m3 0h3m0-2h3m-1 0h3m-3 1h3m0-1h3m-3 4h3m-1-1h3m-3-2h3m-3 1h3m4 1h3m-1-2h3m-2 1h3m-2 0h3m5 1h3m1 1h3m2-4h3m-2 0h3m16 0h3m-376 6h3m22-1h3m13 1h3m2 1h3m14 0h3m-2 1h3m22 0h3m24-2h3m-1 1h3m5-1h3m0 0h3m1 2h3m1 0h3m-3 0h3m6 0h3m1 1h3m0-2h3m2-2h3m-2 0h3m-2 0h3m2 3h3m8-1h3m-2-2h3m-3 0h3m0 3h3m-3-2h3m-2 1h3m-2 0h3m-3 0h3m-3-1h3m-3 1h3m-1 2h3m2-4h3m4 0h3m0 1h3m-1 1h3m0 2h3m-3-1h3m1-2h3m0 2h3m-2-3h3m-2 1h3m-2-1h3m-2 4h3m-3-4h3m1 1h3m-3 3h3m-3 0h3m-2-1h3m-3-1h3m-3 1h3m-1-3h3m-2 4h3m-2 0h3m0-1h3m-3-1h3m-2 0h3m-1 0h3m-2-2h3m-1 3h3m-2-1h3m-2 2h3m-2-3h3m-3 3h3m0-2h3m-2 0h3m-3-2h3m-2 1h3m-3 2h3m-3-1h3m-1 2h3m-2-4h3m-1 3h3m-3-2h3m-1 1h3m-3 2h3m-3-3h3m-1 1h3m-3 2h3m-2-2h3m-1 2h3m-2-3h3m-2-1h3m-2 0h3m-3 3h3m2-2h3m-1 2h3m-3-2h3m-2 3h3m-3-4h3m-1 2h3m-2 1h3m-3 0h3m-2-2h3m0-1h3m-2 0h3m-3 0h3m-2 1h3m-2 3h3m-3-3h3m5 2h3m-2 1h3m-3 0h3m2-2h3m-3-1h3m0 0h3m-3-1h3m-3 2h3m-2-2h3m-2 0h3m0 0h3m-2 0h3m-1 3h3m-2 1h3m1-2h3m-2 0h3m-3 2h3m0-2h3m-2-1h3m-1 0h3m-1 2h3m0 0h3m-1-1h3m-3 1h3m-3 1h3m-1-3h3m-2 0h3m7 0h3m4 3h3m-1 0h3m0-4h3m2 2h3m6 0h3m3-2h3m-3 1h3m0-1h3m-3 0h3m0 0h3m7 1h3m-387 7h3m23-3h3m0 0h3m21 3h3m11 0h3m23 1h3m-2-4h3m-1 2h3m12-1h3m3 0h3m-2-1h3m-2 3h3m4-3h3m17 3h3m4 0h3m-2-2h3m-1-1h3m-2 2h3m-2-2h3m11 1h3m-2 3h3m-1-2h3m0 1h3m5 1h3m-2 0h3m-2 0h3m-1-3h3m1 2h3m-3-1h3m-1-1h3m-3 0h3m0 0h3m-1 3h3m-3-1h3m-2 1h3m-2-2h3m-2-1h3m-3 2h3m0-3h3m-2 0h3m-1 4h3m-3 0h3m-2-4h3m-1 1h3m-3 3h3m1-4h3m0 0h3m-2 0h3m1 3h3m-2 0h3m-1 1h3m-2-4h3m-1 4h3m-2-1h3m-3-1h3m-1-2h3m-2 3h3m-2-1h3m2 2h3m-3-1h3m-2-3h3m-2 0h3m-2 1h3m-3 1h3m-1-1h3m-2-1h3m-2 3h3m-2-1h3m-3-1h3m-2 2h3m-2-3h3m-3 0h3m-2 4h3m-2 0h3m-1-2h3m-2 0h3m-1-2h3m-1 0h3m-3 2h3m1 2h3m-1 0h3m-3 0h3m-2-3h3m-3 1h3m-1 1h3m-3-2h3m-2 3h3m-3 0h3m-2-3h3m-2-1h3m-2 0h3m-3 0h3m-2 3h3m-3-1h3m-2 0h3m-2-1h3m-3 0h3m-2-1h3m-3 0h3m-3 1h3m-2 2h3m1-2h3m-1 1h3m-1 1h3m-3-1h3m-2 0h3m-2-2h3m0 0h3m-2 1h3m-2 2h3m-2-3h3m-3 2h3m4 1h3m0-2h3m-2 0h3m-2 0h3m0 0h3m2 2h3m1-1h3m-3 2h3m-3-2h3m-2 1h3m-2-2h3m-2-1h3m0 0h3m0 0h3m-1 0h3m0 4h3m-1-3h3m0 3h3m-1-3h3m2 2h3m3-3h3m0 1h3m2-1h3m-1 0h3m1 2h3m29 0h3m-1-2h3m-404 8h3m14 1h3m26-1h3m20 0h3m21-3h3m9 4h3m11 0h3m4-2h3m3-2h3m5 1h3m2 1h3m3 0h3m0-1h3m-2 1h3m-2-1h3m0 0h3m-3 1h3m-3-2h3m1 4h3m4-2h3m-2 2h3m-3-1h3m3-2h3m-1-1h3m-3 1h3m-2-1h3m-2 1h3m-2 3h3m4 0h3m0 0h3m-2 0h3m-2-4h3m-3 1h3m-3-1h3m-2 0h3m1 4h3m-1-4h3m0 1h3m-1 2h3m-3-1h3m-3-2h3m-2 2h3m-1 1h3m-2-3h3m-2 3h3m-2-2h3m1 1h3m-2 1h3m-2-3h3m-2 1h3m1-1h3m-2 2h3m-2-2h3m-3 3h3m-2 0h3m1 1h3m-2-4h3m0 3h3m-2-1h3m-2-1h3m-2-1h3m-3 0h3m-3 3h3m-3-1h3m-1 1h3m-2-3h3m-3 0h3m-2 4h3m-3-4h3m-2 4h3m-2-1h3m-3 0h3m-2 0h3m-1-1h3m-3-2h3m0 2h3m-3 2h3m-3 0h3m-2-1h3m-2 1h3m-2 0h3m0 0h3m-3-4h3m0 3h3m-1-1h3m-2 2h3m-3 0h3m-2-3h3m1 0h3m-2-1h3m-2 3h3m-2-2h3m-2-1h3m-2 3h3m-3-1h3m-3-2h3m-1 0h3m-3 4h3m0-1h3m-2-1h3m0 2h3m-3-4h3m1 1h3m-2 2h3m-1-2h3m-1 3h3m-2-1h3m-3 0h3m2 1h3m-2-3h3m-2 3h3m-2-3h3m-2 0h3m-3 1h3m-3 0h3m-1 0h3m-2 2h3m-3 0h3m-3-3h3m-2 0h3m-2 2h3m1-3h3m-1 1h3m-1 3h3m-2-1h3m-1-1h3m0-2h3m0 4h3m2-4h3m2 0h3m-2 3h3m-2-2h3m-3 3h3m1-2h3m0 1h3m-2 0h3m-2-1h3m-3-1h3m0-1h3m-2 0h3m-1 4h3m-1 0h3m-3-4h3m3 1h3m-1 2h3m-3 0h3m4-2h3m0 1h3m2-2h3m2 0h3m11 1h3m4 0h3m-359 4h3m5 2h3m-2 1h3m10 1h3m7-3h3m-2-1h3m8 0h3m14 1h3m-1-1h3m9 2h3m0 2h3m6 0h3m-3-3h3m9 1h3m6-2h3m-2 3h3m4 0h3m0-1h3m5-2h3m-2 2h3m-2 0h3m1 1h3m3 0h3m1-1h3m-1-1h3m-1 2h3m-1-1h3m-2 2h3m-3 0h3m5-3h3m-3-1h3m-2 3h3m-2-3h3m-3 2h3m4 1h3m1-1h3m-2-2h3m-1 1h3m-3 1h3m-3 0h3m0 2h3m-2-2h3m-1 0h3m-2 0h3m-2 2h3m2 0h3m-3-2h3m-2 1h3m-2-1h3m-3 1h3m-1 1h3m-3-1h3m-2-3h3m-3 2h3m-2 2h3m0-2h3m-3-1h3m4 2h3m-3-3h3m-3 4h3m-1-3h3m-1 3h3m-2-2h3m-1-1h3m-3-1h3m-3 2h3m-3 2h3m-2-4h3m-2 3h3m0-3h3m-1 2h3m-2 1h3m-3 0h3m-2-2h3m-3 0h3m-3 2h3m-2-2h3m-3-1h3m-1 2h3m-3-1h3m-1 1h3m-2-1h3m-3 1h3m4-2h3m-1 0h3m-2 2h3m-3-2h3m-2 2h3m-2 1h3m-3 0h3m-2 1h3m-2 0h3m-1-2h3m-3 1h3m1 0h3m-3 0h3m-1-3h3m-1 1h3m-3 1h3m-3 0h3m-3 2h3m-2 0h3m-3-2h3m-1-1h3m-2-1h3m0 1h3m-2 2h3m-2-2h3m-1 2h3m-3 0h3m0 0h3m-3-2h3m-3 2h3m-1-3h3m-3 0h3m-2 1h3m-2-1h3m0 1h3m-1 3h3m-3 0h3m-2-3h3m-3-1h3m-2 1h3m-3 0h3m0 3h3m-3 0h3m-1-3h3m-2-1h3m5 4h3m0 0h3m-1 0h3m-2-3h3m-3 1h3m-2-1h3m1-1h3m-2 1h3m1-1h3m-2 2h3m-1 1h3m-2 1h3m-1-3h3m0 0h3m2 3h3m-3-2h3m-2 2h3m6-2h3m-1-2h3m2 0h3m-350 5h3m16 2h3m2-2h3m7 3h3m11-1h3m18-2h3m20 3h3m6 0h3m12-1h3m-3 2h3m-1-3h3m-2-1h3m9 3h3m1 1h3m-2-3h3m-3 0h3m1 1h3m2-1h3m0-1h3m-1 4h3m-3-1h3m0-1h3m-2 0h3m3 2h3m-3-4h3m0 3h3m-3 1h3m-2-2h3m-2 0h3m-1-1h3m0 0h3m1 1h3m0 1h3m0 0h3m-1 0h3m0-3h3m3 3h3m0 1h3m-3-4h3m-3 0h3m-3 3h3m-1-3h3m0 0h3m0 2h3m-2 2h3m-3-3h3m0 2h3m-3 0h3m-3-3h3m-2 1h3m-3 1h3m-2-1h3m-3 0h3m-2 1h3m-3 2h3m0 0h3m-1-1h3m-3 0h3m-2 0h3m0 0h3m0-2h3m-1 0h3m-2 3h3m-3 0h3m-1-3h3m0 0h3m-3 3h3m-1-2h3m-2 0h3m-3 1h3m0-1h3m-2 2h3m-2-1h3m-3-1h3m-2-2h3m-2 1h3m-3 2h3m-1-3h3m1 1h3m-2 3h3m-2-4h3m-2 4h3m-2-4h3m-2 2h3m-1-2h3m-2 2h3m-3-1h3m-3 1h3m-2-1h3m-2 2h3m-3-3h3m-1 4h3m-1 0h3m-1-3h3m-3 2h3m-1 0h3m-3-3h3m-3 4h3m-2 0h3m-2-3h3m-2 2h3m-3-1h3m-2-1h3m-1 2h3m-3-1h3m-2 2h3m-2-3h3m0 3h3m-2-3h3m-3 3h3m-1-1h3m-2 1h3m-2-1h3m3-1h3m-1 1h3m0 1h3m2 0h3m0 0h3m-2-3h3m1 2h3m-1-3h3m6 1h3m-1-1h3m-3 0h3m15 1h3m-1 3h3m6 0h3m-2 0h3m0-3h3m2 3h3m-377 5h3m2-3h3m-3-1h3m11 0h3m16 3h3m8 0h3m61-3h3m20 1h3m0 2h3m3 1h3m-2-3h3m2-1h3m8 3h3m-2-2h3m-2 2h3m1 0h3m0 0h3m0-3h3m3 1h3m-2 3h3m-2-4h3m0 2h3m0 0h3m-3 1h3m-2-1h3m-3-1h3m1-1h3m-2 2h3m-2-1h3m-2 0h3m7 0h3m-1-1h3m-2 1h3m-1 3h3m-2-2h3m-3 2h3m-1-4h3m-1 3h3m-2 0h3m-3 1h3m-3-3h3m-1 1h3m-2-1h3m-2 2h3m-2-2h3m-3 2h3m-1-2h3m-1-1h3m0 3h3m3 1h3m-3-2h3m-2 0h3m-3 0h3m-3-1h3m-1 0h3m-2 2h3m-2-2h3m-3-1h3m-2 4h3m-3 0h3m-3-1h3m-3-2h3m-3 0h3m-2-1h3m-1 1h3m-2 1h3m-2 1h3m-2-2h3m-1 3h3m-2-3h3m-3-1h3m-2 4h3m-3-3h3m-3-1h3m-1 3h3m0 1h3m-1-4h3m0 3h3m-2 0h3m-2 1h3m-2-3h3m-2 0h3m-3 3h3m-3-4h3m-1 0h3m-1 2h3m1 1h3m-2 0h3m0-3h3m-2 0h3m-3 1h3m-2 2h3m0 1h3m-2-3h3m-2 3h3m-2 0h3m-3-2h3m-3-1h3m-2 1h3m-1 0h3m0 0h3m-1-1h3m-1 1h3m-3 0h3m-2-1h3m-2 3h3m1 0h3m-1-4h3m-1 2h3m-2-2h3m-3 3h3m2-2h3m-3-1h3m2 3h3m0 1h3m-3 0h3m-2-4h3m-3 3h3m2 0h3m0-3h3m-2 2h3m5-2h3m1 3h3m1-2h3m1 3h3m-2-3h3m1 0h3m-1 2h3m7 0h3m6-1h3m-2 2h3m-1-4h3m4 1h3m-391 5h3m25 3h3m36-2h3m64 0h3m-1 0h3m1 1h3m0-3h3m2 1h3m-1 0h3m2 0h3m2 0h3m-2 2h3m-2 1h3m-2-3h3m-3 1h3m-3 0h3m-2-2h3m-3 1h3m-2-1h3m9 4h3m-3-1h3m-2-3h3m-2 1h3m-3 1h3m1-1h3m-3 0h3m1 3h3m8-2h3m-3 1h3m-2-1h3m-1-2h3m3 1h3m-2-1h3m0 2h3m-2 1h3m-2 0h3m-3 0h3m-2-2h3m-2-1h3m-2 1h3m-3-1h3m-1 4h3m-2-2h3m-3-2h3m0 2h3m-2 2h3m0-2h3m-3 2h3m2-3h3m-3 0h3m-1 2h3m-2 0h3m-1-1h3m-2 1h3m-2-2h3m-1 0h3m-3-1h3m-1 1h3m-3-1h3m-2 2h3m-3-2h3m0 0h3m-2 2h3m0 0h3m0 2h3m1-2h3m-2 1h3m-3-1h3m-3 1h3m-3 0h3m-2 1h3m0-3h3m-3 1h3m-1-1h3m-2 3h3m-3-1h3m-1-1h3m0 1h3m-3 0h3m-2-2h3m-2 1h3m-3 0h3m-1 1h3m-3-2h3m1 3h3m0-2h3m-1 2h3m-2-4h3m-3 0h3m0 0h3m-2 0h3m-1 1h3m-2 0h3m-3 2h3m1 0h3m-2-1h3m-3 2h3m-1-2h3m-2 2h3m-2-2h3m-2 1h3m-1-2h3m-2 3h3m-2-1h3m-1 1h3m4-4h3m-3 0h3m-3 0h3m2 1h3m-1-1h3m2 0h3m-2 4h3m-3 0h3m-1-4h3m-2 1h3m-1 2h3m2 1h3m-1-4h3m1 4h3m-2-4h3m-2 3h3m0 1h3m-2 0h3m-3-1h3m2-1h3m0 2h3m-2-3h3m0 3h3m-2-4h3m16 1h3m-1 1h3m-388 4h3m18 1h3m18 2h3m71-1h3m4-2h3m-1 0h3m-1 0h3m2 0h3m4 0h3m-1 1h3m3 1h3m11-2h3m0 3h3m2-3h3m-3 3h3m1-3h3m4 1h3m-2 0h3m-1 0h3m-2-1h3m-2 1h3m3 1h3m0 0h3m0-3h3m-3 3h3m-2-2h3m-2 2h3m-2 0h3m0-1h3m3-2h3m-1 0h3m-3 3h3m-1-2h3m-3-1h3m2 3h3m-2-2h3m-1 0h3m2 2h3m-2 1h3m-3-1h3m-3 0h3m0-3h3m-3 3h3m-3 0h3m-2-2h3m-3 3h3m-1-1h3m-1-2h3m2 0h3m-2 3h3m-3-2h3m-3 2h3m-1-3h3m-3 3h3m-2-2h3m-2 0h3m1 2h3m-2-1h3m-1 1h3m-2-1h3m-3 0h3m-2-1h3m-2-1h3m-1 0h3m-3 3h3m-2 0h3m-1 0h3m-2-2h3m-1 1h3m-3 0h3m-2 0h3m-2 0h3m-2-2h3m-2 3h3m-3-3h3m-1 2h3m-3-2h3m-2 1h3m-2 1h3m-2 0h3m-3-1h3m-1 0h3m-3 1h3m-1 0h3m-2-2h3m-1 2h3m1-3h3m-2 1h3m-3-1h3m-1 3h3m-3-1h3m-3 1h3m0-2h3m-1-1h3m-2 3h3m3-1h3m-3 2h3m3-2h3m-1 2h3m-2-1h3m-3-2h3m-2 0h3m-1 0h3m-3 1h3m-3-2h3m-3 4h3m0-2h3m-1 1h3m-1-3h3m-2 3h3m-1-2h3m-2-1h3m-3 4h3m-1 0h3m-3-4h3m3 1h3m-3 3h3m-2-3h3m-2-1h3m-1 2h3m-1 1h3m7-3h3m-1 3h3m1-3h3m5 3h3m2-1h3m-2-2h3m-3 4h3m-3 0h3m2-2h3m4-2h3m-1 0h3m5 1h3m-370 8h3m8-4h3m0 1h3m14 1h3m51 0h3m-1-1h3m6 1h3m19-1h3m10 1h3m0-2h3m-1 3h3m0 0h3m-3 0h3m-3-3h3m2 1h3m3-1h3m-2 1h3m-3-1h3m3 2h3m3-2h3m-2 3h3m-3-1h3m-2 1h3m-1 1h3m-1-3h3m0 2h3m-2-3h3m-3 3h3m-1-3h3m-3 2h3m0-1h3m0 2h3m-1-2h3m5 1h3m-2-2h3m-3 1h3m-2 0h3m-2-1h3m-1 4h3m-2-3h3m-2-1h3m2 1h3m-2 0h3m-2 2h3m-1-2h3m-1 3h3m-3-3h3m-1 2h3m-3 0h3m-2 0h3m-3-3h3m-2 2h3m-3-1h3m-2 3h3m-3-4h3m-3 4h3m-2 0h3m-2-3h3m-1 1h3m-3 0h3m-1 2h3m-3-1h3m-3 1h3m0 0h3m-3-3h3m-3 1h3m1 2h3m-2-1h3m-3 1h3m-3 0h3m-2-1h3m-2-1h3m-2-2h3m-2 2h3m-3 2h3m-2-4h3m-2 4h3m-1-1h3m-3-3h3m-1 4h3m0-1h3m-2-2h3m-3 1h3m-1-2h3m-2 3h3m-2-2h3m-3-1h3m-1 4h3m-3-2h3m-2 2h3m-3-4h3m-1 0h3m-2 2h3m-2 1h3m-3 0h3m-2-3h3m1 1h3m-2 2h3m3-3h3m-1 0h3m-3 4h3m-3-3h3m-2 2h3m2-2h3m-2 3h3m-1-3h3m-2 2h3m-3-1h3m-2-1h3m-2 2h3m-2-3h3m0 3h3m-1 0h3m-3-2h3m2 2h3m0-3h3m-1 2h3m5 0h3m0-2h3m-3 2h3m-2 2h3m7-2h3m-1 1h3m-3-2h3m9 1h3m8 0h3m2-2h3m3 4h3m1-1h3m-2 1h3m8-3h3m-369 7h3m4-3h3m7 2h3m1 0h3m29 1h3m60-3h3m1 1h3m0 1h3m4 2h3m-3-2h3m6 1h3m-1 0h3m-2-3h3m-2 2h3m2-1h3m-3 3h3m2-1h3m-2-3h3m4 3h3m-3-3h3m-2 0h3m0 1h3m-2 3h3m0-2h3m-1-1h3m-1 3h3m-1-3h3m-2-1h3m-3 1h3m-3 3h3m0-1h3m-3 1h3m-1-4h3m-2 0h3m-2 4h3m-2-3h3m-1 3h3m3-4h3m-2 0h3m-1 0h3m-2 4h3m-2-1h3m-3-1h3m-3-1h3m1 2h3m-3 0h3m-1-2h3m-3 0h3m-3 3h3m-3-1h3m-1 0h3m-3-2h3m-2-1h3m-2 3h3m-2-2h3m-2 0h3m-3-1h3m-3 4h3m-2 0h3m-3-1h3m-3 1h3m-2 0h3m-3-3h3m-2 1h3m-3-2h3m-3 0h3m-1 0h3m-2 0h3m-2 3h3m1-1h3m0 0h3m-3 2h3m-2-3h3m-3-1h3m0 2h3m-1 0h3m-2 1h3m-2-3h3m-2 3h3m-3-2h3m-1 1h3m-1-2h3m-1 4h3m-3-4h3m-2 4h3m-3-3h3m-1 1h3m-2-2h3m1 1h3m-3 2h3m-1-1h3m-2 1h3m0 1h3m-2 0h3m-3 0h3m-1-1h3m-2-3h3m-2 4h3m-3 0h3m-2-2h3m-3-2h3m-1 3h3m2 1h3m-2-4h3m-3 3h3m-2-1h3m-2 2h3m-2-2h3m-3 0h3m-1-2h3m-2 0h3m1 1h3m-2 2h3m-1 1h3m-1-2h3m-3 2h3m-2-3h3m2 1h3m-1 1h3m1-1h3m0-2h3m-2 4h3m-2-2h3m-1 2h3m-3-2h3m-1 2h3m0 0h3m8-1h3m-2-3h3m-3 4h3m6-3h3m17 2h3m3 1h3m8-1h3m-370 2h3m11 1h3m25 3h3m44-1h3m7 0h3m-1-1h3m-2-2h3m5 0h3m1 2h3m4-2h3m0 0h3m-1 4h3m3-2h3m1 0h3m-2 0h3m-1 0h3m-3 2h3m-3-1h3m2-1h3m0 1h3m-3 0h3m-3-1h3m0 2h3m-2-3h3m1 0h3m-1 2h3m5-3h3m3 2h3m-2 0h3m-3-1h3m-1 1h3m0 0h3m-2 2h3m7-3h3m-1-1h3m-2 1h3m-2 0h3m-3 2h3m-2 0h3m-3-3h3m-1 4h3m-3 0h3m4-1h3m-2 0h3m0-2h3m-1-1h3m-1 2h3m-3 1h3m-1 0h3m-2 1h3m2-1h3m-3-2h3m-3 3h3m-2-1h3m-2-3h3m0 2h3m-2 1h3m-2-2h3m-1-1h3m-2 0h3m-1 0h3m-3 1h3m-3 1h3m-1 1h3m-2-2h3m-2 2h3m-3-2h3m-3 3h3m-2-2h3m-1 2h3m-2-1h3m-3-2h3m-2 2h3m-3 1h3m-1-3h3m-2 2h3m-3-2h3m-3 3h3m-2 0h3m-3-2h3m2 1h3m2 1h3m-3-3h3m0 2h3m-2-2h3m-3 3h3m4-1h3m-2-2h3m-2 3h3m-3-4h3m-3 0h3m0 0h3m-2 4h3m0-4h3m-1 1h3m-3 3h3m-1-4h3m-3 0h3m2 0h3m-1 2h3m-2-1h3m-2 3h3m-1-2h3m-2 1h3m-2-1h3m-1 2h3m0-4h3m4 1h3m-1 3h3m-3-3h3m-3 2h3m-1 0h3m1-1h3m-3 2h3m-1-3h3m-2 1h3m3 1h3m-2-1h3m-2-1h3m-3 2h3m2-1h3m0-2h3m-1 2h3m3 1h3m-3-1h3m1 1h3m2-1h3m4 1h3m2-2h3m-1 3h3m3-1h3m-381 6h3m52-2h3m1-1h3m16 2h3m-3-3h3m13 1h3m-1-1h3m10 3h3m-3-3h3m18 1h3m3 1h3m-2-1h3m11 1h3m-3 0h3m9 1h3m1-1h3m3 2h3m1-1h3m0 0h3m-3 0h3m-2-3h3m-2 1h3m1 0h3m-1 2h3m-3-1h3m-3-2h3m-2 4h3m-2-2h3m1 0h3m-1 0h3m-1-1h3m-1-1h3m-3 1h3m1 3h3m-2 0h3m-2-4h3m-1 1h3m-3 0h3m-1-1h3m-2 0h3m-2 2h3m-2 2h3m-2 0h3m-1-1h3m-1-3h3m-1 0h3m1 3h3m-1 1h3m-1-3h3m-2 2h3m0-1h3m-1 0h3m-2-2h3m-3 1h3m0 3h3m6 0h3m3-2h3m-2 0h3m-2 2h3m-3-2h3m3 0h3m-2-2h3m-3 2h3m0 0h3m-2 1h3m-3-1h3m-3 2h3m1-4h3m1 3h3m-2 1h3m0-4h3m-2 3h3m-3-3h3m-3 4h3m0-4h3m-3 1h3m-2 3h3m-3-1h3m-2 1h3m-2 0h3m-3-4h3m-3 3h3m-1-1h3m-3 1h3m-3 0h3m-2-2h3m-2 0h3m-3 3h3m-1-4h3m-3 1h3m2 0h3m1-1h3m2 1h3m2 0h3m-3-1h3m3 1h3m4-1h3m-2 3h3m-1-2h3m-2 1h3m7 1h3m-1-3h3m7 0h3m2 1h3m2 2h3m11-3h3m-371 9h3m16 0h3m4 0h3m8 0h3m-2-2h3m21 0h3m7 0h3m22 0h3m3 0h3m6 1h3m-2-2h3m-2 0h3m-2 1h3m0-1h3m6 0h3m11-1h3m0 1h3m3-1h3m6 0h3m2 3h3m2-3h3m0 3h3m4-1h3m0-1h3m1 3h3m-2 0h3m5-1h3m-1 1h3m-2-1h3m-2 1h3m-2-2h3m-3-1h3m-3-1h3m-2 0h3m-2 4h3m2-3h3m-2 2h3m-3-3h3m-2 2h3m-2 0h3m-2-2h3m0 4h3m-1-3h3m-2 3h3m-2-3h3m-3 1h3m-1-2h3m-3 3h3m-2 1h3m-2 0h3m-1-3h3m-2 0h3m-1 0h3m-2 0h3m0 1h3m0 0h3m-2 2h3m2-2h3m-2-1h3m1-1h3m-3 1h3m-3 2h3m-2 1h3m-3-3h3m2 0h3m-3 2h3m-1 1h3m-2-4h3m-2 3h3m3 0h3m-3-1h3m1 2h3m-2-4h3m-2 0h3m-3 2h3m-2 0h3m-1 1h3m-3 0h3m-3-1h3m0-1h3m-2 1h3m-2 1h3m-3-3h3m1 3h3m-1-3h3m-3 2h3m0 0h3m-1 0h3m0 2h3m0-1h3m-3-1h3m-1 1h3m-2-1h3m1-2h3m2 2h3m-2 2h3m-1-3h3m5 3h3m-2-1h3m-1-3h3m0 3h3m2-2h3m0 1h3m-3-1h3m-2 1h3m23-2h3m4 4h3m17-4h3m-392 9h3m8-1h3m11-1h3m2-2h3m0 2h3m63 0h3m24 1h3m5 0h3m0 1h3m-1-2h3m1 0h3m2 1h3m-2-2h3m1-1h3m3 2h3m-1 1h3m-2-1h3m17 0h3m-3 0h3m-3-1h3m7 3h3m-2-2h3m0 0h3m0 0h3m-3-2h3m-3 1h3m1-1h3m-2 3h3m-3 1h3m0 0h3m-1-3h3m2 1h3m-2 0h3m-3-2h3m0 4h3m-2 0h3m2-2h3m-3-1h3m-1 2h3m-3 0h3m-3-1h3m-1 0h3m-2-1h3m0 1h3m0-2h3m-1 0h3m-1 3h3m-3-3h3m-3 2h3m-2 0h3m-2-2h3m0 4h3m-2 0h3m3-4h3m-2 2h3m-2-2h3m2 3h3m-2-2h3m0 1h3m-1-2h3m-2 0h3m-3 3h3m-2 1h3m-1 0h3m-2-2h3m-3-1h3m-1 2h3m0 0h3m-3 1h3m-2-2h3m-3 1h3m-3 1h3m-2-1h3m0 0h3m-1 1h3m-2-2h3m-1 0h3m-2 1h3m-1-1h3m0-1h3m-2 1h3m-3-1h3m-3 1h3m-1-1h3m6 3h3m-3-4h3m2 2h3m-2 0h3m-1-1h3m-1 3h3m-1-3h3m-2 0h3m-2 2h3m-2-3h3m-3 4h3m-3-1h3m4-3h3m-2 2h3m5 0h3m-3 1h3m3-1h3m10-1h3m13 1h3m-356 5h3m54 1h3m12-1h3m25-1h3m0 1h3m1-1h3m7 3h3m11-4h3m7 4h3m9-3h3m17 0h3m-2-1h3m-3 4h3m0-1h3m2-1h3m-2 1h3m-2-2h3m1 1h3m-3-2h3m-1 4h3m3-3h3m2 0h3m-3 1h3m-1 1h3m-3-3h3m-1 2h3m-3-1h3m-3 0h3m1 1h3m-3 2h3m-3 0h3m-1 0h3m2-2h3m-2 0h3m-1 2h3m2-3h3m-3 0h3m-3 0h3m-2 3h3m-3 0h3m-1-2h3m-3 0h3m2-1h3m-2 3h3m-2-1h3m-2-2h3m-2 3h3m-2-4h3m1 4h3m-2-2h3m-2-1h3m-1-1h3m-1 1h3m5 2h3m-2-2h3m-1 2h3m-3 0h3m0-2h3m-3 2h3m-2-2h3m2 0h3m-3 3h3m-1-2h3m0-1h3m7 0h3m-1 3h3m2-1h3m-3-2h3m3-1h3m-2 2h3m-1 2h3m0 0h3m0-1h3m2-1h3m2-2h3m-1 2h3m6 0h3m-1 1h3m12 1h3m7-2h3m17-1h3m-371 5h3m0-1h3m45 2h3m50 1h3m13-3h3m0 0h3m7 4h3m-2-2h3m-2 2h3m4-3h3m8 3h3m-3-1h3m-1-1h3m5 2h3m-1-4h3m12 3h3m-3-2h3m-1 3h3m-2-2h3m-3 1h3m-2-3h3m-2 2h3m4 0h3m-1 0h3m2-1h3m-2 3h3m-1-3h3m-2 1h3m1 0h3m0 2h3m-1-1h3m-3-1h3m1 2h3m-2 0h3m0-3h3m-1 0h3m-2 1h3m-3-1h3m-3-1h3m1 0h3m-2 0h3m-2 2h3m2-2h3m0 3h3m-1-1h3m1-1h3m-1 2h3m-2-1h3m-2-1h3m-2 3h3m-3 0h3m-1-3h3m-1-1h3m-2 3h3m4-2h3m-1-1h3m-1 2h3m0-1h3m-3 1h3m-1 1h3m-3-1h3m-2 2h3m2-2h3m5-2h3m-3 1h3m0-1h3m-3 1h3m-3 0h3m1 2h3m-2 1h3m0-4h3m12 3h3m1-1h3m3 0h3m8-2h3m-1 4h3m16-2h3m1-1h3m-1 2h3m-386 5h3m12-2h3m2 2h3m40-2h3m66 1h3m5-1h3m-3 2h3m5-3h3m13 2h3m-3 0h3m-3 0h3m7 0h3m-2-1h3m0 0h3m-1 2h3m4 1h3m2-4h3m1 0h3m-2 0h3m-1 0h3m0 0h3m-1 2h3m-2 2h3m1-2h3m-3 1h3m0-1h3m-1 0h3m0 2h3m-2-3h3m2 0h3m-2 3h3m-2-1h3m-2 0h3m-2-3h3m0 3h3m2-2h3m-1 1h3m1 1h3m-2-3h3m1 2h3m-3-1h3m-1 1h3m-3 1h3m-2-3h3m-3 1h3m-3 2h3m-2 1h3m-2-2h3m2-1h3m0 2h3m3-3h3m1 4h3m-3-3h3m-2-1h3m-2 4h3m-3-1h3m-2-3h3m0 0h3m-2 1h3m1 1h3m-2-1h3m9 1h3m-3-2h3m8 1h3m-2-1h3m-3 3h3m0-1h3m-2 2h3m-1-3h3m0 1h3m0 0h3m5-2h3m-2 2h3m3-1h3m0 3h3m-2 0h3m-3-2h3m-2-2h3m4 0h3m3 2h3m7 0h3m5 2h3m5-4h3m3 4h3m-1-2h3m-393 4h3m26 2h3m74-3h3m0 1h3m27-1h3m2 3h3m-3-2h3m12 1h3m0-2h3m12 3h3m-3 0h3m3 1h3m7-3h3m4-1h3m-1 4h3m-1-4h3m-2 0h3m-2 4h3m-2-3h3m8 2h3m0 0h3m1-2h3m7 2h3m-2 0h3m-2-1h3m-3 2h3m3 0h3m-3-4h3m2 3h3m1-2h3m0-1h3m4 1h3m0 3h3m-2-3h3m7-1h3m-1 4h3m0-1h3m-2-3h3m-2 2h3m-1 1h3m-2-2h3m-3 2h3m-2-3h3m-3 4h3m10-1h3m-3 0h3m0-1h3m-2-2h3m-2 3h3m-2 1h3m-3-2h3m1-1h3m-2-1h3m-3 0h3m-3 4h3m0-2h3m-1-1h3m2 2h3m-2-2h3m3 1h3m-2-1h3m-1 0h3m1 2h3m7-3h3m3 0h3m6 2h3m1-2h3m28 0h3m-305 9h3m10-3h3m4-1h3m0 1h3m-1 2h3m20-1h3m4 1h3m12 0h3m4 1h3m-1-3h3m0 2h3m-2 1h3m10-2h3m0-1h3m3 2h3m-2 0h3m3 1h3m7-2h3m-1-2h3m-1 3h3m5 1h3m1-3h3m3 0h3m-2-1h3m0 1h3m-2 3h3m-2-1h3m-1-2h3m-2 2h3m5 0h3m-1-2h3m2-1h3m1 3h3m3 1h3m1-2h3m-1 0h3m-3 1h3m-1-3h3m-2 0h3m0 1h3m1-1h3m1 2h3m-2-2h3m2 3h3m4-1h3m-1 1h3m-1-1h3m4-1h3m1-1h3m-1 0h3m-1 1h3m1 0h3m-2 0h3m-1 0h3m28 0h3m27 1h3m-366 5h3m123 1h3m9 1h3m0-4h3m4 3h3m7 0h3m2 1h3m-1 0h3m0-3h3m3 1h3m-2 0h3m5-1h3m0 3h3m1-3h3m3 1h3m5-1h3m2 3h3m2-4h3m0 0h3m3 4h3m-3-4h3m3 3h3m-2-3h3m-3 0h3m-2 1h3m-2 3h3m1-3h3m0 0h3m-1 0h3m-2-1h3m-3 1h3m0 1h3m-3-1h3m0 2h3m0 0h3m4-3h3m3 0h3m-3 1h3m6 0h3m-1 0h3m-2 1h3m-2-2h3m-1 3h3m3-2h3m8 3h3m2-4h3m0 1h3m2 1h3m13 1h3m17 0h3m-339 6h3m4-1h3m9 1h3m7 0h3m47 0h3m-2 0h3m0-3h3m8 3h3m6-2h3m2-1h3m7 2h3m-2 1h3m1-1h3m-2 1h3m0 0h3m-3 0h3m-2 0h3m-3 0h3m-1 0h3m1 0h3m-3-3h3m-2 3h3m-1 0h3m-2 0h3m2-2h3m-2 1h3m-2 1h3m2 0h3m-2 0h3m-2-3h3m0 3h3m-3 0h3m0-4h3m0 3h3m-2 1h3m-2 0h3m-3-1h3m-2 1h3m-2 0h3m-3-2h3m1 2h3m-1 0h3m-2 0h3m-1 0h3m0 0h3m-2 0h3m-2-3h3m-2 3h3m-2-4h3m0 4h3m-1 0h3m-3 0h3m-2 0h3m-2 0h3m-3 0h3m-3 0h3m-2 0h3m-2 0h3m-2 0h3m-3-1h3m-2 1h3m-2-3h3m0 2h3m1 1h3m-3 0h3m-2 0h3m-1 0h3m-3 0h3m-2 0h3m-3-1h3m-3 1h3m-1-4h3m-1 4h3m-2-4h3m0 4h3m-1-3h3m-2 3h3m-2 0h3m1-4h3m-2 4h3m-3 0h3m-1 0h3m-2 0h3m-2 0h3m-2 0h3m0-1h3m-3 1h3m-3 0h3m-2 0h3m-2 0h3m-2 0h3m0 0h3m-3 0h3m-2 0h3m-3-1h3m-1 1h3m-2-4h3m-1 1h3m0-1h3m-3 4h3m-2 0h3m-3 0h3m-2 0h3m-3-3h3m0 3h3m2 0h3m-2 0h3m0-3h3m0 3h3m-2 0h3m-2-1h3m0-1h3m-2 2h3m-2 0h3m-3 0h3m-2 0h3m1-1h3m2 1h3m-1 0h3m-3 0h3m-2 0h3m-3-2h3m-2-2h3m-2 4h3m-1 0h3m-3 0h3m9 0h3m2-1h3m-3 1h3m-2 0h3m-2 0h3m-1-3h3m-3 3h3m1 0h3m-2 0h3m1 0h3m-2-1h3m0-3h3m19 4h3m-2 0h3m0-1h3m8 1h3" stroke="#000" stroke-opacity=".8" stroke-width="3.2" fill="none"/>
</g>
<rect x="393.7" y="296.5" width="83.80000000000001" height="80.5" fill="none" stroke="#6a6a6a" stroke-width=".8"/>
<path d="M393.0 296.5V377" stroke="#555" stroke-width="1.3" stroke-dasharray=".9 1.1" fill="none"/>
<path d="M393.7 377.7H477.5" stroke="#555" stroke-width="1.3" stroke-dasharray=".9 1.1" fill="none"/>
<line x1="419.2" y1="296.5" x2="419.2" y2="377" stroke="#444" stroke-width="0.9"/>
<line x1="393.7" y1="343.5" x2="477.5" y2="343.5" stroke="#444" stroke-width="0.9"/>
<g transform="translate(390.0 377.7) rotate(-90)" fill="#4a4a4a"><text x="-2.5" y="0" font-size="4" stroke="none">10</text><text x="2" y="-1.9" font-size="2.9" stroke="none">0</text></g>
<g transform="translate(394.2 383.3)" fill="#4a4a4a"><text x="-2.5" y="0" font-size="4" stroke="none">10</text><text x="2" y="-1.9" font-size="2.9" stroke="none">0</text></g>
<g transform="translate(390.0 357.575) rotate(-90)" fill="#4a4a4a"><text x="-2.5" y="0" font-size="4" stroke="none">10</text><text x="2" y="-1.9" font-size="2.9" stroke="none">1</text></g>
<g transform="translate(414.775 383.3)" fill="#4a4a4a"><text x="-2.5" y="0" font-size="4" stroke="none">10</text><text x="2" y="-1.9" font-size="2.9" stroke="none">1</text></g>
<g transform="translate(390.0 337.45) rotate(-90)" fill="#4a4a4a"><text x="-2.5" y="0" font-size="4" stroke="none">10</text><text x="2" y="-1.9" font-size="2.9" stroke="none">2</text></g>
<g transform="translate(435.35 383.3)" fill="#4a4a4a"><text x="-2.5" y="0" font-size="4" stroke="none">10</text><text x="2" y="-1.9" font-size="2.9" stroke="none">2</text></g>
<g transform="translate(390.0 317.325) rotate(-90)" fill="#4a4a4a"><text x="-2.5" y="0" font-size="4" stroke="none">10</text><text x="2" y="-1.9" font-size="2.9" stroke="none">3</text></g>
<g transform="translate(455.925 383.3)" fill="#4a4a4a"><text x="-2.5" y="0" font-size="4" stroke="none">10</text><text x="2" y="-1.9" font-size="2.9" stroke="none">3</text></g>
<g transform="translate(390.0 297.2) rotate(-90)" fill="#4a4a4a"><text x="-2.5" y="0" font-size="4" stroke="none">10</text><text x="2" y="-1.9" font-size="2.9" stroke="none">4</text></g>
<g transform="translate(476.5 383.3)" fill="#4a4a4a"><text x="-2.5" y="0" font-size="4" stroke="none">10</text><text x="2" y="-1.9" font-size="2.9" stroke="none">4</text></g>
<rect x="449.5" y="297.0" width="27.5" height="11.699999999999989" fill="#fff"/>
<text x="450.5" y="307.7" font-size="15.6" text-anchor="start" font-weight="normal">27%</text>
<line x1="48.5" y1="480" x2="48.5" y2="555.5" stroke="#1c1c1c" stroke-width="1.35"/>
<line x1="48.0" y1="555" x2="132.5" y2="555" stroke="#1c1c1c" stroke-width="1.35"/>
<line x1="45.0" y1="487.4" x2="48.5" y2="487.4" stroke="#1c1c1c" stroke-width="1.35"/>
<text x="46" y="493.2" font-size="15.8" text-anchor="end" font-weight="normal">100</text>
<line x1="45.0" y1="521.2" x2="48.5" y2="521.2" stroke="#1c1c1c" stroke-width="1.35"/>
<text x="46" y="527.0" font-size="15.8" text-anchor="end" font-weight="normal">50</text>
<line x1="45.0" y1="555" x2="48.5" y2="555" stroke="#1c1c1c" stroke-width="1.35"/>
<text x="46" y="560.8" font-size="15.8" text-anchor="end" font-weight="normal">0</text>
<text x="14" y="509.5" font-size="16.0" text-anchor="middle" font-weight="normal" transform="rotate(-90 14 509.5)">%max.</text>
<rect x="55.575" y="488.075" width="15.35" height="66.925" fill="#000" stroke="#111" stroke-width="1.15"/>
<rect x="82.575" y="477.575" width="17.15" height="77.425" fill="#6a6a6a" stroke="#111" stroke-width="1.15"/>
<rect x="108.775" y="543.575" width="16.449999999999996" height="11.425" fill="#fff" stroke="#111" stroke-width="1.15"/>
<text x="106" y="537.7" font-size="16.0" text-anchor="start" font-weight="normal">16%</text>
<text x="88.8" y="573" font-size="16.0" text-anchor="middle" font-weight="normal">p21 mRNA</text>
<line x1="201.5" y1="477" x2="201.5" y2="555.0" stroke="#1c1c1c" stroke-width="1.35"/>
<line x1="201.0" y1="554.5" x2="283" y2="554.5" stroke="#1c1c1c" stroke-width="1.35"/>
<line x1="198.0" y1="486" x2="201.5" y2="486" stroke="#1c1c1c" stroke-width="1.35"/>
<text x="198.8" y="490.9" font-size="15.8" text-anchor="end" font-weight="normal">100</text>
<line x1="198.0" y1="520.2" x2="201.5" y2="520.2" stroke="#1c1c1c" stroke-width="1.35"/>
<text x="198.8" y="525.1" font-size="15.8" text-anchor="end" font-weight="normal">50</text>
<line x1="198.0" y1="554.5" x2="201.5" y2="554.5" stroke="#1c1c1c" stroke-width="1.35"/>
<text x="198.8" y="559.4" font-size="15.8" text-anchor="end" font-weight="normal">0</text>
<text x="166.3" y="514" font-size="16.0" text-anchor="middle" font-weight="normal" transform="rotate(-90 166.3 514)">%max.</text>
<rect x="210.575" y="486.075" width="15.85" height="68.425" fill="#000" stroke="#111" stroke-width="1.15"/>
<rect x="234.35000000000002" y="496.75" width="16.099999999999987" height="57.750000000000014" fill="#d4d4d4" stroke="#444" stroke-width="1.1"/>
<line x1="242.5" y1="496.2" x2="242.5" y2="484.5" stroke="#1c1c1c" stroke-width="1.3"/>
<line x1="239.0" y1="484.5" x2="246.0" y2="484.5" stroke="#1c1c1c" stroke-width="1.3"/>
<rect x="259.97499999999997" y="549.075" width="15.450000000000022" height="5.425" fill="#fff" stroke="#111" stroke-width="1.15"/>
<line x1="267.7" y1="548.5" x2="267.7" y2="547.2" stroke="#1c1c1c" stroke-width="1.3"/>
<line x1="264.7" y1="547.2" x2="270.7" y2="547.2" stroke="#1c1c1c" stroke-width="1.3"/>
<text x="259" y="537.7" font-size="16.0" text-anchor="start" font-weight="normal">9.5%</text>
<text x="240.7" y="573" font-size="16.0" text-anchor="middle" font-weight="normal">5 weeks</text>
<line x1="350" y1="459" x2="350" y2="554.7" stroke="#1c1c1c" stroke-width="1.3"/>
<line x1="349.5" y1="554.2" x2="511.5" y2="554.2" stroke="#1c1c1c" stroke-width="1.35"/>
<line x1="346.4" y1="475.6" x2="350" y2="475.6" stroke="#1c1c1c" stroke-width="1.35"/>
<text x="346.7" y="480.90000000000003" font-size="15.8" text-anchor="end" font-weight="normal">7.5</text>
<line x1="346.4" y1="502.3" x2="350" y2="502.3" stroke="#1c1c1c" stroke-width="1.35"/>
<text x="346.7" y="507.6" font-size="15.8" text-anchor="end" font-weight="normal">5.0</text>
<line x1="346.4" y1="528.4" x2="350" y2="528.4" stroke="#1c1c1c" stroke-width="1.35"/>
<text x="346.7" y="533.6999999999999" font-size="15.8" text-anchor="end" font-weight="normal">2.5</text>
<line x1="346.4" y1="554.2" x2="350" y2="554.2" stroke="#1c1c1c" stroke-width="1.35"/>
<text x="346.7" y="558.0" font-size="15.8" text-anchor="end" font-weight="normal">0</text>
<text x="319" y="500" font-size="16.0" text-anchor="middle" font-weight="normal" transform="rotate(-90 319 500)">ΔCT</text>
<path d="M364.6 507.2h3v3h-3zM364.6 515.6h3v3h-3zM361.6 517.7h3v3h-3zM364.6 518.9h3v3h-3zM367.6 518.9h3v3h-3z" fill="#0a0a0a"/>
<path d="M425.2 519.6h3v3h-3zM421.9 526.2h3v3h-3zM425.2 526.9h3v3h-3zM425.2 531.3h3v3h-3z" fill="#0a0a0a"/>
<path d="M485.8 472.0h3v3h-3zM485.8 477.0h3v3h-3zM485.8 482.0h3v3h-3zM485.8 487.4h3v3h-3z" fill="#0a0a0a"/>
<text x="367.7" y="568.2" font-size="16.0" text-anchor="middle" font-weight="normal">non</text>
<text x="367.6" y="582" font-size="16.0" text-anchor="middle" font-weight="normal">transd.</text>
<text x="431.5" y="568.2" font-size="16.0" text-anchor="middle" font-weight="normal">control</text>
<text x="429.8" y="582" font-size="16.0" text-anchor="middle" font-weight="normal">si</text>
<text x="493" y="568.2" font-size="16.0" text-anchor="middle" font-weight="normal">p53si</text>
</svg>
</body></html>
